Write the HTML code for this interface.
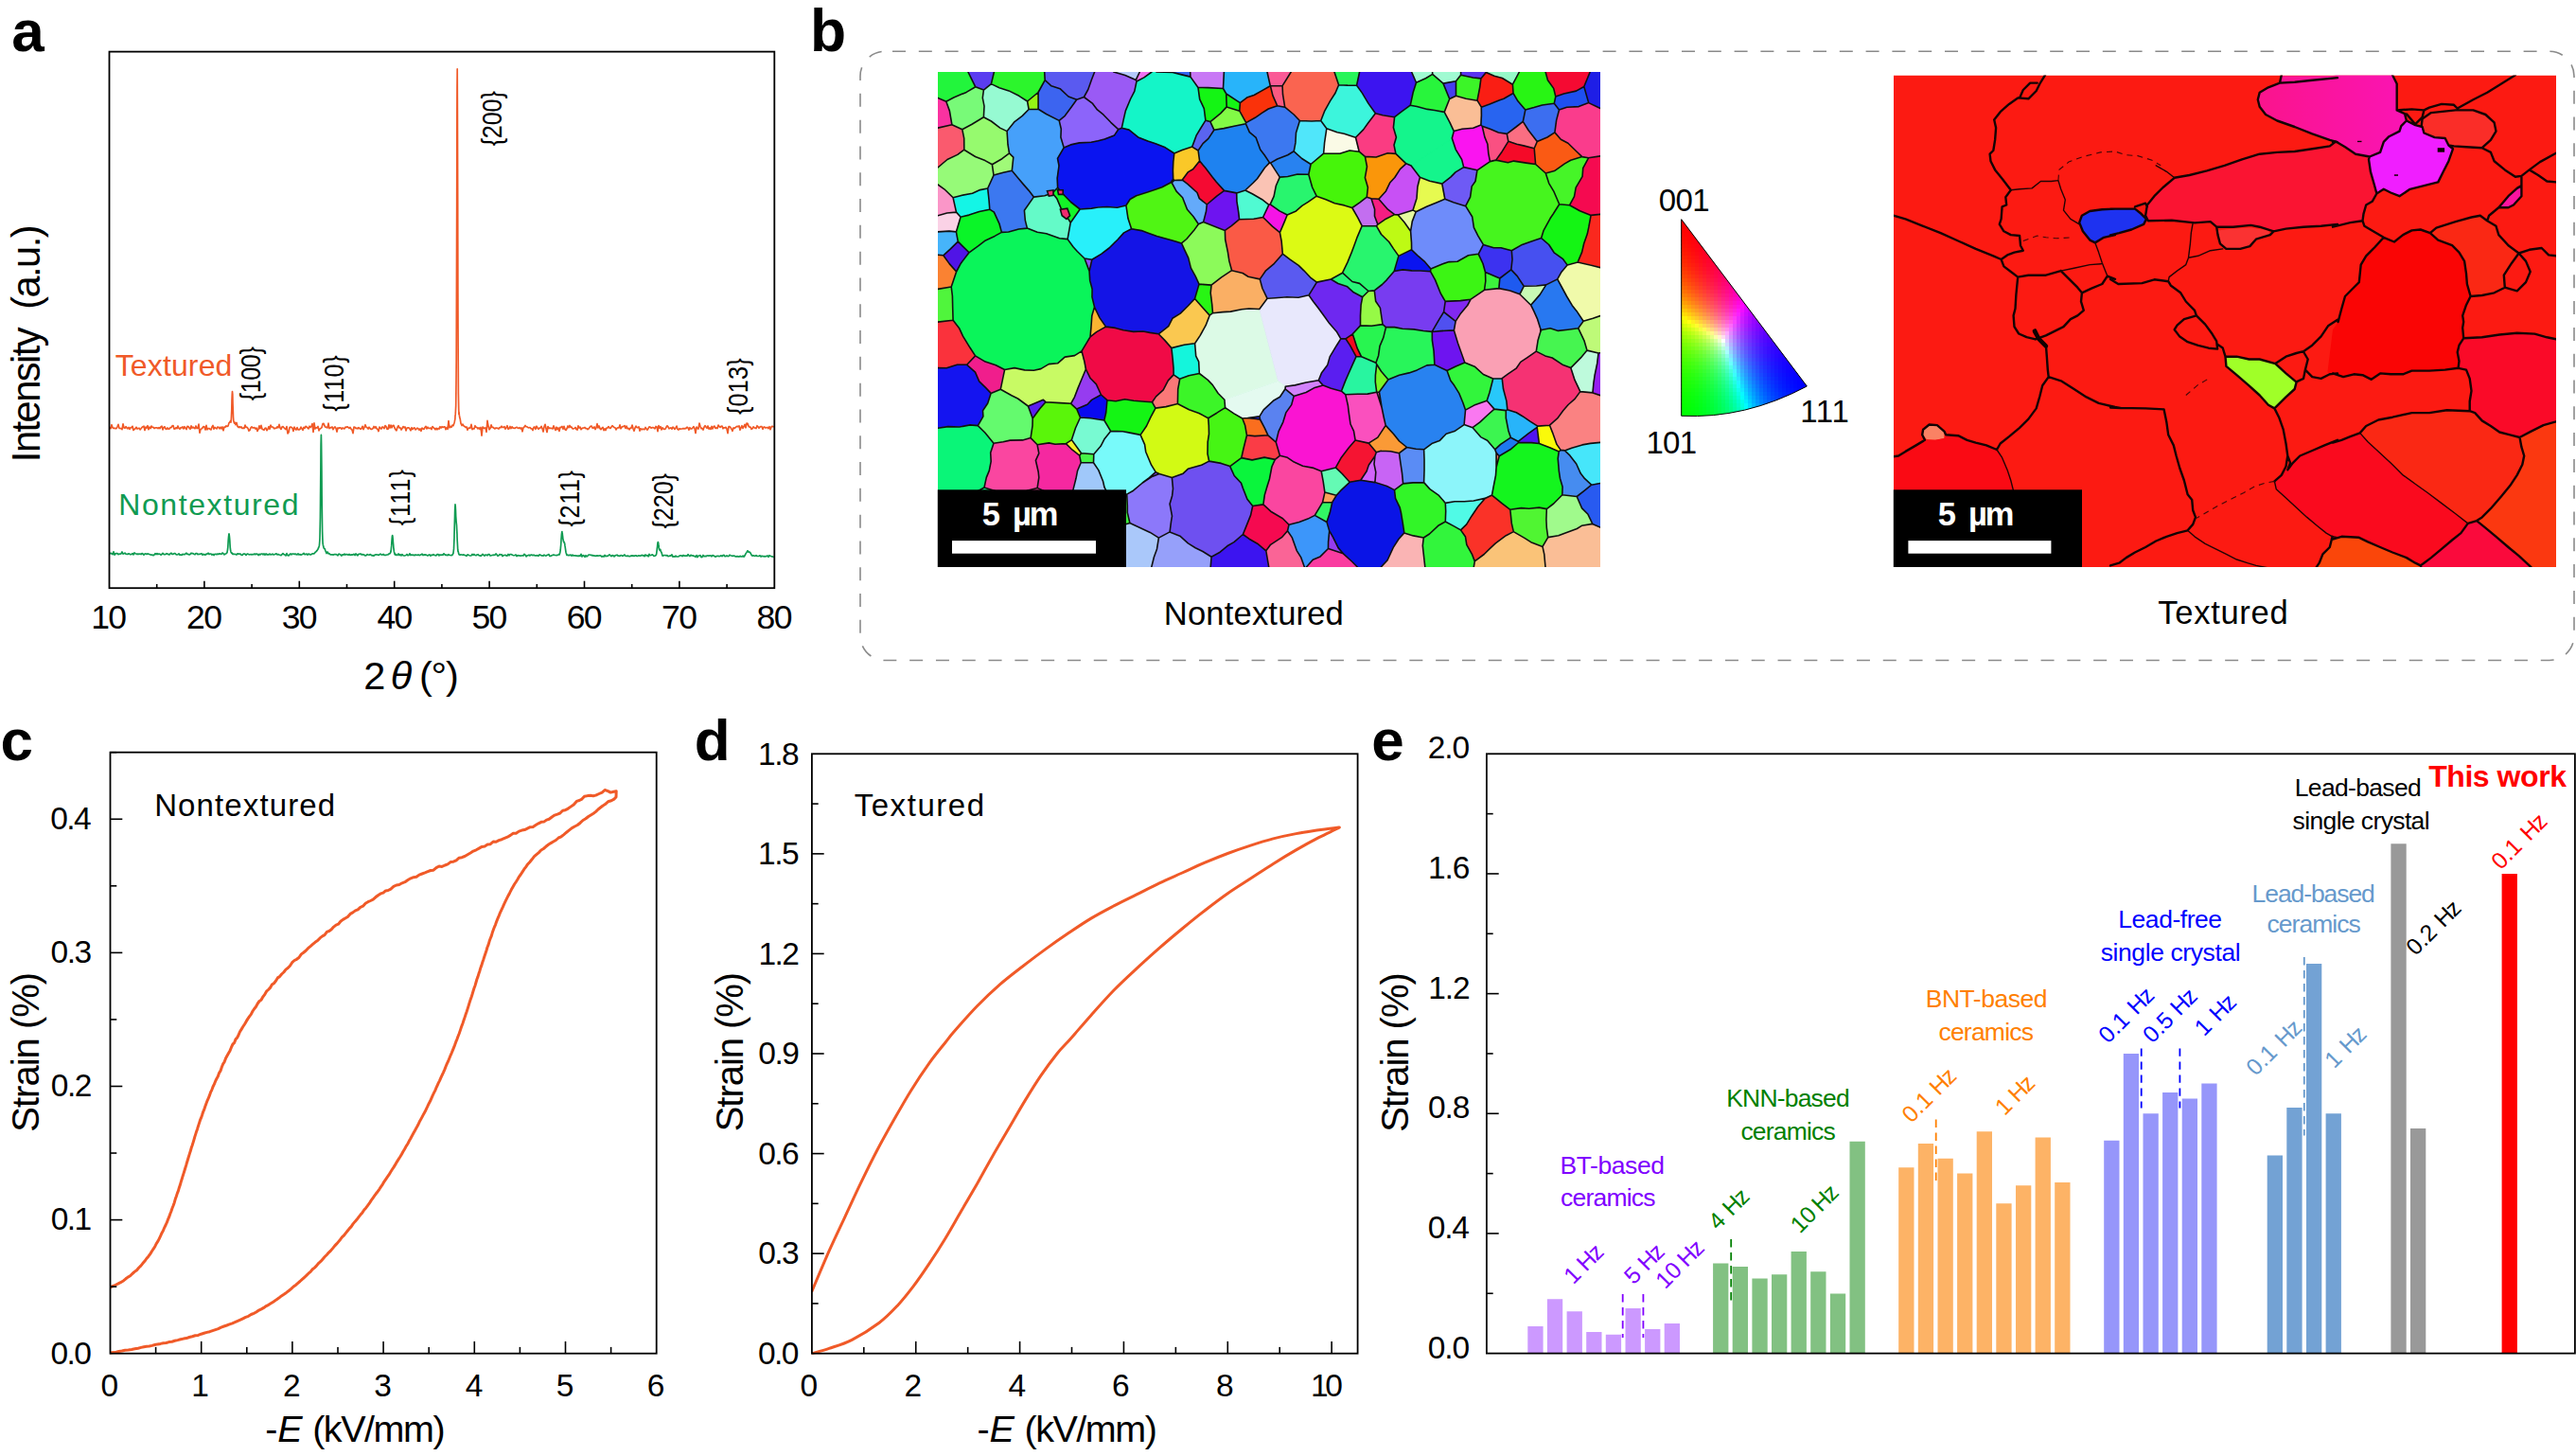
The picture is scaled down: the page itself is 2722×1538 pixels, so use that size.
<!DOCTYPE html>
<html><head><meta charset="utf-8"><title>Figure</title>
<style>html,body{margin:0;padding:0;background:#fff}svg{display:block}text{white-space:pre}</style>
</head><body>
<svg width="2722" height="1538" viewBox="0 0 2722 1538" font-family='"Liberation Sans", Arial, Helvetica, sans-serif' fill="#000">
<polyline points="116.0,451.7 117.0,452.7 118.0,448.7 119.0,451.7 120.0,452.5 121.0,452.2 122.0,452.7 123.0,452.6 124.0,450.8 125.0,448.4 126.0,452.4 127.0,452.5 128.0,452.7 129.0,453.6 130.0,447.8 131.0,451.9 132.0,452.2 133.0,450.6 134.0,452.0 135.0,452.8 136.0,451.5 137.0,453.4 138.0,451.6 139.0,451.7 140.0,450.3 141.0,454.5 142.0,453.5 143.0,452.8 144.0,451.3 145.0,453.0 146.0,452.5 147.0,452.2 148.0,453.9 149.0,452.8 150.0,451.4 151.0,450.7 152.0,450.2 153.0,454.5 154.0,451.1 155.0,452.0 156.0,449.7 157.0,453.7 158.0,451.1 159.0,452.6 160.0,450.1 161.0,451.4 162.0,451.3 163.0,452.6 164.0,451.9 165.0,451.8 166.0,451.9 167.0,452.7 168.0,451.7 169.0,452.6 170.0,450.8 171.0,450.2 172.0,453.9 173.0,451.4 174.0,450.8 175.0,452.9 176.0,453.4 177.0,451.9 178.0,453.3 179.0,453.0 180.0,451.6 181.0,451.7 182.0,449.8 183.0,449.6 184.0,453.1 185.0,453.0 186.0,451.7 187.0,452.7 188.0,450.0 189.0,452.3 190.0,453.2 191.0,451.6 192.0,452.0 193.0,450.9 194.0,452.9 195.0,450.7 196.0,452.3 197.0,453.6 198.0,450.3 199.0,450.5 200.0,452.1 201.0,453.3 202.0,449.9 203.0,452.1 204.0,451.1 205.0,452.1 206.0,452.7 207.0,450.0 208.0,452.5 209.0,452.3 210.0,448.2 211.0,457.2 212.0,453.6 213.0,452.9 214.0,452.0 215.0,450.5 216.0,450.8 217.0,454.0 218.0,449.4 219.0,453.8 220.0,452.5 221.0,452.5 222.0,453.4 223.0,453.9 224.0,451.0 225.0,449.4 226.0,453.2 227.0,451.4 228.0,452.2 229.0,452.9 230.0,451.0 231.0,451.4 232.0,452.9 233.0,451.2 234.0,452.9 235.0,450.9 236.0,454.7 237.0,451.0 238.0,451.1 239.0,449.9 240.0,450.5 241.0,449.9 242.0,446.7 242.5,446.3 242.8,446.1 243.0,445.4 243.0,445.4 243.3,445.2 243.5,444.8 243.8,444.3 244.0,446.2 244.0,446.1 244.3,443.8 244.5,439.6 244.8,433.1 245.0,424.1 245.0,423.5 245.3,416.4 245.5,413.5 245.8,416.5 246.0,425.7 246.0,426.3 246.3,434.2 246.5,440.6 246.8,444.8 247.0,445.0 247.0,445.1 247.3,446.3 247.5,446.8 247.8,447.2 248.0,446.1 248.0,446.1 248.3,446.4 248.5,446.5 249.0,448.7 250.0,446.5 251.0,450.5 252.0,451.5 253.0,450.6 254.0,451.7 255.0,450.9 256.0,452.5 257.0,452.2 258.0,452.4 259.0,449.1 260.0,451.5 261.0,451.3 262.0,452.5 263.0,455.1 264.0,454.4 265.0,451.8 266.0,450.8 267.0,451.8 268.0,451.9 269.0,451.7 270.0,453.1 271.0,452.1 272.0,455.4 273.0,453.4 274.0,449.8 275.0,452.6 276.0,449.4 277.0,453.3 278.0,453.7 279.0,454.3 280.0,452.4 281.0,452.2 282.0,454.7 283.0,453.3 284.0,450.6 285.0,453.3 286.0,449.2 287.0,451.0 288.0,451.0 289.0,451.8 290.0,452.8 291.0,452.3 292.0,452.1 293.0,450.9 294.0,451.8 295.0,448.4 296.0,452.0 297.0,453.4 298.0,451.1 299.0,450.6 300.0,451.7 301.0,452.8 302.0,453.5 303.0,450.6 304.0,458.0 305.0,456.8 306.0,451.5 307.0,451.1 308.0,451.3 309.0,452.2 310.0,455.4 311.0,451.2 312.0,453.1 313.0,454.0 314.0,451.6 315.0,453.9 316.0,454.0 317.0,453.3 318.0,451.1 319.0,452.7 320.0,454.4 321.0,451.3 322.0,452.4 323.0,450.3 324.0,450.9 325.0,452.0 326.0,452.9 327.0,450.2 328.0,451.5 329.0,450.5 330.0,447.5 331.0,456.4 332.0,446.8 333.0,453.0 334.0,451.9 335.0,452.0 336.0,450.4 337.0,454.8 338.0,452.9 339.0,452.4 340.0,451.6 341.0,447.6 342.0,447.4 343.0,449.9 344.0,451.1 345.0,451.5 346.0,451.9 347.0,447.2 348.0,452.6 349.0,451.9 350.0,451.7 351.0,451.0 352.0,453.6 353.0,451.9 354.0,450.9 355.0,452.2 356.0,456.1 357.0,451.9 358.0,452.5 359.0,451.8 360.0,451.9 361.0,453.2 362.0,451.9 363.0,452.6 364.0,452.9 365.0,451.1 366.0,451.4 367.0,450.8 368.0,451.5 369.0,452.5 370.0,451.3 371.0,453.1 372.0,454.1 373.0,457.6 374.0,451.0 375.0,451.3 376.0,452.6 377.0,452.2 378.0,452.9 379.0,451.6 380.0,452.5 381.0,453.2 382.0,452.7 383.0,450.3 384.0,453.6 385.0,451.4 386.0,448.7 387.0,451.2 388.0,451.8 389.0,453.0 390.0,451.2 391.0,452.5 392.0,453.4 393.0,453.3 394.0,452.6 395.0,450.5 396.0,452.1 397.0,450.6 398.0,452.7 399.0,453.5 400.0,455.6 401.0,451.2 402.0,452.2 403.0,453.0 404.0,450.9 405.0,451.4 406.0,452.6 407.0,449.5 408.0,450.6 409.0,453.2 410.0,453.3 411.0,448.8 412.0,452.1 413.0,449.0 414.0,451.8 415.0,449.6 416.0,449.3 417.0,452.0 418.0,453.9 419.0,454.8 420.0,451.2 421.0,449.6 422.0,452.0 423.0,451.9 424.0,454.0 425.0,452.5 426.0,450.6 427.0,451.7 428.0,451.0 429.0,454.9 430.0,452.0 431.0,451.9 432.0,451.8 433.0,453.1 434.0,454.8 435.0,451.7 436.0,453.5 437.0,452.2 438.0,451.9 439.0,453.9 440.0,453.1 441.0,452.2 442.0,452.7 443.0,454.2 444.0,452.9 445.0,455.3 446.0,452.1 447.0,452.9 448.0,453.4 449.0,451.5 450.0,450.3 451.0,452.9 452.0,451.2 453.0,452.5 454.0,452.4 455.0,452.1 456.0,453.5 457.0,450.5 458.0,451.5 459.0,452.6 460.0,453.8 461.0,452.3 462.0,453.8 463.0,452.6 464.0,453.1 465.0,450.7 466.0,452.0 467.0,450.7 468.0,451.5 469.0,450.9 470.0,450.8 471.0,453.6 472.0,451.6 473.0,453.4 474.0,444.5 475.0,451.8 476.0,450.4 477.0,451.3 478.0,449.2 479.0,449.6 480.0,446.7 480.2,446.0 480.4,444.9 480.7,443.6 480.9,442.1 481.0,439.3 481.2,437.9 481.4,434.9 481.7,428.7 481.9,413.8 482.0,404.6 482.2,379.7 482.4,314.2 482.7,217.9 482.9,119.2 483.0,93.1 483.2,72.9 483.4,115.7 483.7,213.5 483.9,310.6 484.0,341.9 484.2,380.7 484.4,416.0 484.7,431.4 484.9,437.8 485.0,435.1 485.2,436.9 485.4,438.9 485.7,440.5 485.9,441.8 486.0,441.7 486.2,442.4 487.0,447.3 488.0,449.5 489.0,448.1 490.0,449.9 491.0,450.4 492.0,451.5 493.0,451.0 494.0,454.2 495.0,452.1 496.0,452.1 497.0,452.1 498.0,448.4 499.0,453.7 500.0,452.8 501.0,452.9 502.0,449.7 503.0,451.3 504.0,451.6 505.0,452.9 506.0,451.8 507.0,453.3 508.0,451.4 509.0,460.2 510.0,451.0 511.0,451.9 512.0,452.5 513.0,451.9 514.0,456.3 515.0,444.3 516.0,450.1 517.0,453.8 518.0,452.5 519.0,448.9 520.0,451.3 521.0,451.3 522.0,452.3 523.0,452.9 524.0,452.0 525.0,452.2 526.0,452.4 527.0,453.0 528.0,451.5 529.0,451.8 530.0,450.2 531.0,451.4 532.0,451.5 533.0,450.7 534.0,453.1 535.0,451.7 536.0,449.7 537.0,453.3 538.0,452.7 539.0,450.5 540.0,452.6 541.0,450.8 542.0,452.1 543.0,452.2 544.0,452.5 545.0,451.7 546.0,451.3 547.0,452.0 548.0,452.5 549.0,451.7 550.0,452.8 551.0,451.8 552.0,455.8 553.0,451.8 554.0,451.0 555.0,449.5 556.0,450.7 557.0,450.8 558.0,451.6 559.0,451.8 560.0,451.5 561.0,452.6 562.0,452.9 563.0,454.5 564.0,451.4 565.0,451.0 566.0,453.3 567.0,450.2 568.0,452.0 569.0,453.3 570.0,452.0 571.0,452.1 572.0,450.3 573.0,452.6 574.0,456.0 575.0,450.8 576.0,448.3 577.0,452.5 578.0,456.5 579.0,450.5 580.0,452.5 581.0,452.1 582.0,452.5 583.0,452.4 584.0,452.9 585.0,449.8 586.0,452.4 587.0,454.4 588.0,451.2 589.0,453.6 590.0,451.9 591.0,455.4 592.0,451.3 593.0,451.4 594.0,450.5 595.0,453.1 596.0,450.3 597.0,453.6 598.0,454.4 599.0,452.8 600.0,450.0 601.0,451.7 602.0,449.5 603.0,451.4 604.0,451.1 605.0,452.9 606.0,452.8 607.0,452.5 608.0,451.5 609.0,453.5 610.0,454.0 611.0,449.8 612.0,452.0 613.0,451.1 614.0,453.7 615.0,452.6 616.0,452.1 617.0,452.0 618.0,451.4 619.0,452.7 620.0,452.5 621.0,453.7 622.0,452.9 623.0,451.6 624.0,450.3 625.0,450.0 626.0,452.0 627.0,452.2 628.0,450.9 629.0,453.5 630.0,451.9 631.0,447.6 632.0,452.0 633.0,449.9 634.0,452.6 635.0,453.7 636.0,452.3 637.0,451.3 638.0,454.6 639.0,452.8 640.0,454.5 641.0,452.1 642.0,451.9 643.0,450.6 644.0,452.0 645.0,452.4 646.0,451.1 647.0,449.6 648.0,450.7 649.0,451.5 650.0,451.8 651.0,453.9 652.0,452.2 653.0,451.8 654.0,451.9 655.0,448.9 656.0,452.8 657.0,451.2 658.0,450.6 659.0,450.5 660.0,449.6 661.0,452.5 662.0,450.1 663.0,452.8 664.0,452.4 665.0,453.8 666.0,452.2 667.0,452.2 668.0,449.1 669.0,452.6 670.0,455.2 671.0,452.1 672.0,450.1 673.0,451.6 674.0,451.7 675.0,450.8 676.0,455.1 677.0,452.7 678.0,453.8 679.0,453.1 680.0,453.5 681.0,453.7 682.0,451.5 683.0,452.9 684.0,454.1 685.0,452.7 686.0,450.8 687.0,451.1 688.0,452.1 689.0,451.7 690.0,451.6 691.0,452.1 692.0,452.8 693.0,450.5 694.0,450.9 695.0,455.6 696.0,449.7 697.0,452.1 698.0,450.6 699.0,454.0 700.0,451.8 701.0,452.9 702.0,453.4 703.0,453.2 704.0,451.3 705.0,449.8 706.0,450.9 707.0,452.8 708.0,452.2 709.0,451.8 710.0,453.2 711.0,451.1 712.0,452.1 713.0,453.4 714.0,452.0 715.0,450.1 716.0,453.4 717.0,454.1 718.0,452.7 719.0,453.2 720.0,453.0 721.0,453.0 722.0,452.4 723.0,453.0 724.0,452.4 725.0,452.6 726.0,451.2 727.0,451.9 728.0,454.1 729.0,451.7 730.0,453.0 731.0,452.8 732.0,451.9 733.0,450.6 734.0,452.7 735.0,457.5 736.0,451.1 737.0,452.4 738.0,453.0 739.0,447.0 740.0,450.5 741.0,452.7 742.0,452.3 743.0,454.1 744.0,451.2 745.0,449.6 746.0,450.9 747.0,452.3 748.0,450.0 749.0,453.1 750.0,452.0 751.0,453.4 752.0,450.4 753.0,453.0 754.0,450.7 755.0,450.1 756.0,452.4 757.0,451.9 758.0,452.6 759.0,449.0 760.0,450.5 761.0,451.3 762.0,450.4 763.0,450.1 764.0,452.8 765.0,451.7 766.0,452.0 767.0,451.3 768.0,453.0 769.0,457.6 770.0,450.6 771.0,450.6 772.0,451.6 773.0,453.2 774.0,455.3 775.0,451.9 776.0,452.4 777.0,451.8 778.0,450.7 779.0,450.4 780.0,450.7 781.0,449.9 782.0,454.2 783.0,451.9 784.0,449.7 785.0,452.4 786.0,450.5 787.0,448.3 788.0,451.8 789.0,447.2 790.0,447.4 791.0,450.1 792.0,451.1 793.0,451.1 794.0,453.3 795.0,452.8 796.0,450.8 797.0,451.7 798.0,452.1 799.0,452.5 800.0,449.7 801.0,450.8 802.0,452.2 803.0,451.1 804.0,450.5 805.0,450.7 806.0,453.3 807.0,451.0 808.0,451.1 809.0,452.0 810.0,451.7 811.0,451.4 812.0,452.7 813.0,450.7 814.0,453.7 815.0,450.9 816.0,450.3 817.0,450.8" fill="none" stroke="#F05A28" stroke-width="1.7" stroke-linejoin="round" stroke-linecap="round" />
<polyline points="116.0,584.8 117.0,584.4 118.0,584.8 119.0,585.6 120.0,582.8 121.0,586.1 122.0,584.9 123.0,584.7 124.0,584.5 125.0,585.6 126.0,585.2 127.0,585.1 128.0,584.9 129.0,583.0 130.0,585.1 131.0,584.8 132.0,584.1 133.0,585.2 134.0,585.3 135.0,585.4 136.0,584.8 137.0,585.2 138.0,585.8 139.0,585.5 140.0,584.6 141.0,585.9 142.0,584.0 143.0,584.7 144.0,585.0 145.0,585.6 146.0,585.1 147.0,585.3 148.0,585.0 149.0,585.6 150.0,584.6 151.0,585.1 152.0,586.2 153.0,585.0 154.0,584.9 155.0,585.5 156.0,584.9 157.0,585.2 158.0,585.5 159.0,586.0 160.0,586.2 161.0,586.2 162.0,586.7 163.0,586.1 164.0,584.6 165.0,585.6 166.0,584.6 167.0,585.6 168.0,585.0 169.0,585.4 170.0,586.2 171.0,585.5 172.0,584.3 173.0,585.4 174.0,585.8 175.0,585.5 176.0,584.7 177.0,585.1 178.0,585.7 179.0,585.9 180.0,584.8 181.0,584.2 182.0,585.4 183.0,585.3 184.0,584.7 185.0,584.7 186.0,585.6 187.0,586.0 188.0,585.7 189.0,584.8 190.0,586.3 191.0,586.0 192.0,586.4 193.0,585.4 194.0,585.6 195.0,585.7 196.0,585.0 197.0,584.2 198.0,585.4 199.0,585.4 200.0,586.0 201.0,585.4 202.0,584.2 203.0,584.7 204.0,584.7 205.0,585.3 206.0,585.8 207.0,584.5 208.0,584.6 209.0,585.7 210.0,585.2 211.0,585.5 212.0,585.0 213.0,584.7 214.0,586.2 215.0,585.3 216.0,585.9 217.0,586.1 218.0,585.1 219.0,585.3 220.0,584.2 221.0,585.6 222.0,585.0 223.0,585.0 224.0,586.2 225.0,585.4 226.0,586.5 227.0,585.3 228.0,585.4 229.0,585.7 230.0,585.0 231.0,585.5 232.0,584.8 233.0,585.1 234.0,585.3 235.0,584.1 236.0,584.7 237.0,585.9 238.0,585.1 239.0,584.7 239.2,584.5 239.5,584.3 239.8,583.9 240.0,583.5 240.2,582.4 240.5,580.6 240.8,578.1 241.0,574.5 241.2,571.0 241.5,567.6 241.8,565.0 242.0,563.9 242.2,564.8 242.5,567.3 242.8,570.7 243.0,574.6 243.2,577.8 243.5,580.3 243.8,582.1 244.0,582.9 244.2,583.6 244.5,584.0 244.8,584.3 245.0,584.0 246.0,585.4 247.0,585.2 248.0,585.5 249.0,585.4 250.0,586.0 251.0,584.9 252.0,585.1 253.0,585.1 254.0,585.2 255.0,586.2 256.0,586.5 257.0,585.2 258.0,585.1 259.0,585.2 260.0,586.4 261.0,585.2 262.0,585.2 263.0,585.6 264.0,585.8 265.0,585.5 266.0,585.9 267.0,585.5 268.0,585.7 269.0,585.0 270.0,585.7 271.0,585.0 272.0,585.4 273.0,586.5 274.0,585.3 275.0,586.0 276.0,585.0 277.0,585.0 278.0,585.8 279.0,584.9 280.0,586.2 281.0,584.9 282.0,585.9 283.0,585.6 284.0,586.0 285.0,585.0 286.0,586.0 287.0,585.6 288.0,585.2 289.0,586.0 290.0,585.7 291.0,585.2 292.0,584.8 293.0,585.9 294.0,585.4 295.0,586.0 296.0,586.3 297.0,586.7 298.0,585.7 299.0,584.7 300.0,585.6 301.0,586.0 302.0,587.0 303.0,584.6 304.0,586.6 305.0,586.9 306.0,585.9 307.0,585.0 308.0,585.8 309.0,585.0 310.0,585.0 311.0,585.5 312.0,585.1 313.0,585.7 314.0,585.9 315.0,584.8 316.0,586.1 317.0,585.6 318.0,586.2 319.0,585.8 320.0,585.3 321.0,584.4 322.0,585.6 323.0,585.6 324.0,585.1 325.0,586.0 326.0,585.1 327.0,585.4 328.0,586.0 329.0,585.6 330.0,584.8 331.0,584.9 332.0,584.8 333.0,583.5 334.0,582.6 335.0,581.6 336.0,580.0 336.4,579.2 336.6,578.6 336.9,577.9 337.0,577.8 337.1,577.3 337.4,576.2 337.6,574.3 337.9,570.3 338.0,567.3 338.1,562.1 338.4,547.3 338.6,524.5 338.9,496.3 339.0,483.5 339.1,470.2 339.4,459.4 339.6,469.9 339.9,495.2 340.0,507.9 340.1,523.4 340.4,546.4 340.6,561.3 340.9,569.5 341.0,571.9 341.1,573.8 341.4,575.7 341.6,576.8 341.9,577.6 342.0,578.4 342.1,578.7 342.4,579.3 343.0,579.3 344.0,582.0 345.0,584.5 346.0,583.0 347.0,584.8 348.0,584.7 349.0,585.8 350.0,585.9 351.0,585.8 352.0,586.1 353.0,585.7 354.0,585.5 355.0,585.6 356.0,586.1 357.0,586.8 358.0,585.1 359.0,585.5 360.0,586.1 361.0,587.0 362.0,585.8 363.0,586.1 364.0,585.2 365.0,586.1 366.0,585.6 367.0,585.7 368.0,586.2 369.0,585.5 370.0,586.4 371.0,585.9 372.0,586.1 373.0,585.9 374.0,585.3 375.0,586.6 376.0,584.9 377.0,586.0 378.0,586.8 379.0,585.3 380.0,585.2 381.0,585.0 382.0,585.9 383.0,585.7 384.0,585.8 385.0,586.3 386.0,587.0 387.0,586.6 388.0,585.6 389.0,586.0 390.0,586.3 391.0,585.6 392.0,586.1 393.0,586.9 394.0,586.6 395.0,587.2 396.0,586.2 397.0,585.9 398.0,585.9 399.0,586.0 400.0,586.4 401.0,585.8 402.0,585.1 403.0,585.9 404.0,586.1 405.0,585.4 406.0,586.4 407.0,586.3 408.0,586.3 409.0,586.0 410.0,585.9 411.0,585.0 411.7,584.9 411.9,584.7 412.0,584.7 412.2,584.5 412.4,584.1 412.7,583.5 412.9,582.4 413.0,583.1 413.2,581.7 413.4,579.3 413.7,576.4 413.9,573.0 414.0,571.4 414.2,568.9 414.4,566.5 414.7,565.6 414.9,566.5 415.0,567.6 415.2,569.5 415.4,572.7 415.7,576.1 415.9,579.1 416.0,579.2 416.2,581.0 416.4,582.7 416.7,583.8 416.9,584.5 417.0,585.3 417.2,585.6 417.4,585.8 417.7,586.0 418.0,585.3 419.0,586.3 420.0,586.4 421.0,584.9 422.0,586.5 423.0,585.7 424.0,586.9 425.0,585.6 426.0,586.7 427.0,587.0 428.0,586.8 429.0,586.5 430.0,585.5 431.0,586.8 432.0,586.4 433.0,584.8 434.0,586.6 435.0,585.9 436.0,586.4 437.0,586.2 438.0,586.7 439.0,586.1 440.0,586.2 441.0,586.5 442.0,585.9 443.0,586.6 444.0,586.2 445.0,585.9 446.0,585.1 447.0,586.6 448.0,585.9 449.0,586.3 450.0,585.9 451.0,586.4 452.0,586.9 453.0,586.3 454.0,585.9 455.0,587.2 456.0,586.2 457.0,586.5 458.0,585.6 459.0,586.4 460.0,586.6 461.0,586.8 462.0,585.6 463.0,585.5 464.0,586.9 465.0,585.9 466.0,586.4 467.0,586.0 468.0,586.3 469.0,584.8 470.0,585.8 471.0,586.4 472.0,586.2 473.0,586.6 474.0,585.7 475.0,586.4 476.0,586.5 477.0,586.7 478.0,586.3 478.0,585.7 478.2,585.6 478.5,585.3 478.7,585.0 479.0,584.3 479.0,583.8 479.2,582.6 479.5,579.9 479.7,575.3 480.0,568.0 480.0,566.2 480.2,557.9 480.5,547.0 480.7,537.7 481.0,533.0 481.0,532.8 481.2,534.3 481.5,539.5 481.7,545.3 482.0,549.6 482.0,549.9 482.2,552.1 482.5,554.8 482.7,559.1 483.0,564.7 483.0,566.3 483.2,571.3 483.5,576.4 483.7,580.2 484.0,582.6 484.0,582.0 485.0,585.8 486.0,586.2 487.0,585.9 488.0,586.0 489.0,586.3 490.0,585.9 491.0,586.5 492.0,586.7 493.0,587.3 494.0,585.9 495.0,586.3 496.0,586.7 497.0,587.0 498.0,586.9 499.0,585.4 500.0,586.3 501.0,585.5 502.0,586.5 503.0,586.7 504.0,586.0 505.0,585.7 506.0,586.6 507.0,586.9 508.0,587.3 509.0,586.5 510.0,585.4 511.0,586.3 512.0,587.0 513.0,586.1 514.0,586.2 515.0,586.8 516.0,585.6 517.0,585.5 518.0,587.0 519.0,586.8 520.0,586.5 521.0,586.2 522.0,586.3 523.0,586.1 524.0,585.0 525.0,585.9 526.0,587.3 527.0,586.7 528.0,585.5 529.0,586.0 530.0,585.7 531.0,587.5 532.0,586.7 533.0,586.5 534.0,586.3 535.0,586.9 536.0,587.1 537.0,585.5 538.0,586.8 539.0,585.5 540.0,585.5 541.0,586.0 542.0,586.5 543.0,586.8 544.0,586.5 545.0,586.0 546.0,587.6 547.0,586.7 548.0,586.9 549.0,586.9 550.0,587.2 551.0,587.0 552.0,586.8 553.0,587.0 554.0,585.3 555.0,586.1 556.0,587.9 557.0,586.8 558.0,586.6 559.0,586.2 560.0,587.0 561.0,586.0 562.0,586.2 563.0,586.7 564.0,586.2 565.0,586.8 566.0,586.9 567.0,586.8 568.0,586.6 569.0,587.3 570.0,585.9 571.0,586.2 572.0,586.9 573.0,586.8 574.0,587.2 575.0,586.2 576.0,586.7 577.0,587.1 578.0,586.4 579.0,586.1 580.0,585.6 581.0,587.5 582.0,587.4 583.0,586.7 584.0,586.4 585.0,585.9 586.0,586.5 587.0,586.5 588.0,586.7 589.0,586.4 590.0,585.9 590.9,585.3 591.0,586.0 591.2,585.7 591.4,585.1 591.7,584.2 591.9,582.9 592.0,582.3 592.2,581.0 592.4,578.6 592.7,575.6 592.9,572.2 593.0,569.8 593.2,567.6 593.4,564.6 593.7,562.4 593.9,561.5 594.0,562.7 594.2,563.2 594.4,565.0 594.7,567.3 594.9,569.7 595.0,569.5 595.2,570.6 595.4,571.8 595.7,572.2 595.9,572.1 596.0,573.1 596.2,573.0 596.4,573.3 596.7,574.4 596.9,576.2 597.0,576.5 598.0,583.4 599.0,586.5 600.0,586.3 601.0,586.8 602.0,586.4 603.0,586.2 604.0,587.2 605.0,586.1 606.0,587.0 607.0,586.8 608.0,586.9 609.0,587.2 610.0,587.0 611.0,587.6 612.0,586.9 613.0,587.4 614.0,585.3 615.0,588.0 616.0,586.7 617.0,586.9 618.0,588.3 619.0,586.7 620.0,587.9 621.0,587.1 622.0,586.0 623.0,586.0 624.0,586.3 625.0,586.3 626.0,586.9 627.0,586.7 628.0,587.1 629.0,587.1 630.0,587.3 631.0,586.9 632.0,587.2 633.0,587.0 634.0,586.7 635.0,587.2 636.0,588.2 637.0,587.4 638.0,588.0 639.0,586.4 640.0,587.6 641.0,587.3 642.0,587.5 643.0,586.7 644.0,585.8 645.0,586.9 646.0,587.6 647.0,586.6 648.0,586.8 649.0,587.9 650.0,586.9 651.0,586.5 652.0,586.2 653.0,587.2 654.0,587.1 655.0,587.5 656.0,586.5 657.0,586.8 658.0,587.4 659.0,586.7 660.0,586.0 661.0,587.2 662.0,587.5 663.0,587.1 664.0,587.3 665.0,587.7 666.0,587.6 667.0,586.9 668.0,587.3 669.0,586.9 670.0,587.5 671.0,586.9 672.0,586.8 673.0,587.4 674.0,587.3 675.0,586.8 676.0,587.2 677.0,587.1 678.0,586.4 679.0,586.8 680.0,586.6 681.0,587.7 682.0,586.0 683.0,587.0 684.0,586.5 685.0,587.8 686.0,585.4 687.0,586.8 688.0,586.5 689.0,585.9 690.0,586.3 691.0,587.3 692.0,587.1 692.3,587.0 692.6,586.9 692.8,586.7 693.0,586.6 693.1,586.5 693.3,586.0 693.6,585.3 693.8,584.1 694.0,582.2 694.1,581.8 694.3,579.7 694.6,577.3 694.8,575.0 695.0,573.7 695.1,573.3 695.3,572.6 695.6,573.1 695.8,574.6 696.0,576.5 696.1,577.0 696.3,578.9 696.6,580.3 696.8,581.0 697.0,580.9 697.1,580.9 697.3,580.7 697.6,580.4 697.8,580.4 698.0,581.6 698.1,581.8 698.3,582.6 699.0,583.6 700.0,587.1 701.0,586.9 702.0,586.5 703.0,586.5 704.0,586.9 705.0,586.6 706.0,587.6 707.0,587.5 708.0,586.9 709.0,587.1 710.0,585.8 711.0,588.2 712.0,587.8 713.0,588.1 714.0,587.1 715.0,588.0 716.0,588.0 717.0,587.9 718.0,587.1 719.0,586.8 720.0,586.9 721.0,587.6 722.0,586.5 723.0,587.1 724.0,587.2 725.0,587.2 726.0,587.2 727.0,585.6 728.0,586.9 729.0,587.6 730.0,586.3 731.0,587.0 732.0,586.8 733.0,587.5 734.0,587.4 735.0,588.3 736.0,586.6 737.0,588.6 738.0,587.0 739.0,587.0 740.0,586.6 741.0,588.6 742.0,588.4 743.0,586.4 744.0,587.7 745.0,587.4 746.0,587.7 747.0,587.0 748.0,586.9 749.0,587.2 750.0,586.9 751.0,586.9 752.0,587.8 753.0,586.6 754.0,586.8 755.0,587.6 756.0,588.2 757.0,587.6 758.0,587.3 759.0,587.4 760.0,587.7 761.0,587.5 762.0,586.8 763.0,587.7 764.0,586.6 765.0,586.4 766.0,587.6 767.0,587.7 768.0,586.9 769.0,587.7 770.0,587.5 771.0,586.2 772.0,586.7 773.0,587.0 774.0,587.4 775.0,587.2 776.0,587.1 777.0,587.8 778.0,587.8 779.0,587.6 780.0,587.8 781.0,588.1 782.0,587.3 783.0,587.9 784.0,588.0 785.0,587.1 786.0,588.1 787.0,586.9 788.0,584.9 789.0,583.4 790.0,581.8 791.0,583.3 792.0,583.0 793.0,584.1 794.0,586.1 795.0,587.1 796.0,586.7 797.0,587.1 798.0,587.3 799.0,586.6 800.0,587.5 801.0,587.5 802.0,587.3 803.0,586.8 804.0,588.0 805.0,587.3 806.0,587.6 807.0,587.6 808.0,587.9 809.0,587.6 810.0,587.6 811.0,586.9 812.0,588.4 813.0,586.7 814.0,587.3 815.0,587.6 816.0,587.8 817.0,588.3" fill="none" stroke="#109B52" stroke-width="1.7" stroke-linejoin="round" stroke-linecap="round" />
<rect x="115.5" y="54.6" width="702.80" height="566.60" fill="none" stroke="#000" stroke-width="1.8"/>
<line x1="165.70" y1="621.20" x2="165.70" y2="617.00" stroke="#000" stroke-width="1.6" />
<line x1="215.90" y1="621.20" x2="215.90" y2="613.70" stroke="#000" stroke-width="1.6" />
<line x1="266.10" y1="621.20" x2="266.10" y2="617.00" stroke="#000" stroke-width="1.6" />
<line x1="316.30" y1="621.20" x2="316.30" y2="613.70" stroke="#000" stroke-width="1.6" />
<line x1="366.50" y1="621.20" x2="366.50" y2="617.00" stroke="#000" stroke-width="1.6" />
<line x1="416.70" y1="621.20" x2="416.70" y2="613.70" stroke="#000" stroke-width="1.6" />
<line x1="466.90" y1="621.20" x2="466.90" y2="617.00" stroke="#000" stroke-width="1.6" />
<line x1="517.10" y1="621.20" x2="517.10" y2="613.70" stroke="#000" stroke-width="1.6" />
<line x1="567.30" y1="621.20" x2="567.30" y2="617.00" stroke="#000" stroke-width="1.6" />
<line x1="617.50" y1="621.20" x2="617.50" y2="613.70" stroke="#000" stroke-width="1.6" />
<line x1="667.70" y1="621.20" x2="667.70" y2="617.00" stroke="#000" stroke-width="1.6" />
<line x1="717.90" y1="621.20" x2="717.90" y2="613.70" stroke="#000" stroke-width="1.6" />
<line x1="768.10" y1="621.20" x2="768.10" y2="617.00" stroke="#000" stroke-width="1.6" />
<text x="96.19" y="664.30" font-size="35.5" letter-spacing="-1.597">10</text>
<text x="197.05" y="664.30" font-size="35.5" letter-spacing="-1.637">20</text>
<text x="297.64" y="664.30" font-size="35.5" letter-spacing="-1.653">30</text>
<text x="398.41" y="664.30" font-size="35.5" letter-spacing="-1.685">40</text>
<text x="498.44" y="664.30" font-size="35.5" letter-spacing="-1.653">50</text>
<text x="598.65" y="664.30" font-size="35.5" letter-spacing="-1.637">60</text>
<text x="699.05" y="664.30" font-size="35.5" letter-spacing="-1.637">70</text>
<text x="799.54" y="664.30" font-size="35.5" letter-spacing="-1.645">80</text>
<text font-size="41.5" y="728.00"><tspan x="384.23">2</tspan><tspan x="412.73" font-style="italic">θ</tspan> <tspan x="443.11" letter-spacing="-1.309">(°)</tspan></text>
<text transform="translate(42.30,484.40) rotate(-90)" x="-3.74" y="0" font-size="41.6" letter-spacing="-1.521">Intensity  (a.u.)</text>
<text x="121.66" y="397.40" font-size="32" letter-spacing="0.143" fill="#F05A28">Textured</text>
<text x="125.24" y="543.70" font-size="32" letter-spacing="1.590" fill="#109B52">Nontextured</text>
<text transform="translate(275.30,423.00) rotate(-90) scale(0.84,1)" x="-0.45" y="0" font-size="30" letter-spacing="-0.472">{100}</text>
<text transform="translate(362.90,434.50) rotate(-90) scale(0.84,1)" x="-0.45" y="0" font-size="30" letter-spacing="0.745">{110}</text>
<text transform="translate(433.00,555.00) rotate(-90) scale(0.84,1)" x="-0.45" y="0" font-size="30" letter-spacing="1.278">{111}</text>
<text transform="translate(529.90,154.00) rotate(-90) scale(0.84,1)" x="-0.45" y="0" font-size="30" letter-spacing="-0.204">{200}</text>
<text transform="translate(611.80,556.10) rotate(-90) scale(0.84,1)" x="-0.45" y="0" font-size="30" letter-spacing="0.745">{211}</text>
<text transform="translate(711.30,558.10) rotate(-90) scale(0.84,1)" x="-0.45" y="0" font-size="30" letter-spacing="-0.115">{220}</text>
<text transform="translate(790.00,437.60) rotate(-90) scale(0.84,1)" x="-0.45" y="0" font-size="30" letter-spacing="0.213">{013}</text>
<text x="12.14" y="54.00" font-size="62" font-weight="bold">a</text>
<clipPath id="cl"><rect x="991.0" y="76.0" width="700.0" height="523.0"/></clipPath>
<g clip-path="url(#cl)">
<rect x="991.0" y="76.0" width="700.0" height="523.0" fill="#30D060"/>
<path d="M991.0 76.0L1022.9 76.0L1030.8 91.8L1021.2 97.4L1007.8 103.0L999.8 107.3L991.0 103.4Z" fill="#22F53C" stroke="#22F53C" stroke-width="0.7"/>
<path d="M1022.9 76.0L1050.4 76.0L1047.4 88.6L1039.4 95.1L1030.8 91.8Z" fill="#5A3CF0" stroke="#5A3CF0" stroke-width="0.7"/>
<path d="M1050.4 76.0L1103.7 76.0L1104.2 84.6L1097.1 97.5L1085.6 107.0L1076.8 101.3L1066.0 95.9L1056.0 92.7L1047.4 88.6Z" fill="#2CF52C" stroke="#2CF52C" stroke-width="0.7"/>
<path d="M1103.7 76.0L1156.6 76.0L1153.4 84.3L1149.8 94.5L1145.4 102.5L1137.7 105.2L1129.0 102.0L1120.1 93.7L1111.0 90.8L1104.2 84.6ZM1339.1 315.3L1333.9 304.5L1331.3 294.9L1337.6 285.8L1346.5 278.3L1355.3 268.2L1363.2 274.1L1372.2 280.4L1377.8 285.8L1385.3 293.7L1391.4 298.1L1383.0 311.8L1372.0 314.2L1360.0 313.8L1347.6 314.8Z" fill="#5A5AF0" stroke="#5A5AF0" stroke-width="0.7"/>
<path d="M1176.8 76.0L1204.3 76.0L1200.3 84.4L1188.9 79.4Z" fill="#B4C8FA" stroke="#B4C8FA" stroke-width="0.7"/>
<path d="M1204.3 76.0L1217.0 76.0L1208.9 81.9L1201.0 86.0L1200.3 84.4Z" fill="#F070F0" stroke="#F070F0" stroke-width="0.7"/>
<path d="M1156.6 76.0L1176.8 76.0L1188.9 79.4L1200.3 84.4L1201.0 86.0L1198.8 96.3L1194.6 104.5L1189.4 116.9L1187.7 124.1L1185.3 135.2L1181.7 136.7L1173.8 129.3L1166.0 121.2L1159.5 115.9L1154.6 109.4L1145.4 102.5L1149.8 94.5L1153.4 84.3Z" fill="#9A5AF5" stroke="#9A5AF5" stroke-width="0.7"/>
<path d="M1097.1 97.5L1104.2 84.6L1111.0 90.8L1120.1 93.7L1129.0 102.0L1137.7 105.2L1132.5 112.5L1125.3 122.3L1119.2 127.4L1105.6 120.5L1097.1 115.3Z" fill="#3C64F0" stroke="#3C64F0" stroke-width="0.7"/>
<path d="M1124.2 156.0L1120.9 145.1L1121.3 136.3L1119.2 127.4L1125.3 122.3L1132.5 112.5L1137.7 105.2L1145.4 102.5L1154.6 109.4L1159.5 115.9L1166.0 121.2L1173.8 129.3L1181.7 136.7L1177.6 142.9L1167.2 146.9L1160.4 148.8L1153.1 150.2L1140.6 150.9L1131.4 152.9Z" fill="#8C64FA" stroke="#8C64FA" stroke-width="0.7"/>
<path d="M1217.0 76.0L1221.9 76.0L1239.2 76.5L1248.7 78.9L1257.9 81.1L1266.0 92.5L1267.7 104.8L1272.3 114.6L1273.9 127.2L1268.4 136.0L1264.1 143.2L1259.7 155.1L1249.1 158.5L1240.8 162.0L1231.3 155.8L1221.0 151.7L1212.8 149.0L1202.6 144.9L1193.0 137.1L1185.3 135.2L1187.7 124.1L1189.4 116.9L1194.6 104.5L1198.8 96.3L1201.0 86.0L1208.9 81.9Z" fill="#14F5C8" stroke="#14F5C8" stroke-width="0.7"/>
<path d="M999.8 107.3L1007.8 103.0L1021.2 97.4L1030.8 91.8L1039.4 95.1L1038.3 103.4L1040.0 112.1L1039.4 123.8L1026.6 131.5L1016.8 136.8L1005.9 131.8L1003.4 117.1Z" fill="#78FA78" stroke="#78FA78" stroke-width="0.7"/>
<path d="M1039.4 95.1L1047.4 88.6L1056.0 92.7L1066.0 95.9L1076.8 101.3L1085.6 107.0L1087.1 115.5L1080.3 122.4L1072.1 128.6L1064.1 138.6L1056.7 135.1L1047.4 128.0L1039.4 123.8L1040.0 112.1L1038.3 103.4Z" fill="#96FAD2" stroke="#96FAD2" stroke-width="0.7"/>
<path d="M1085.6 107.0L1097.1 97.5L1097.1 115.3L1087.1 115.5Z" fill="#96F514" stroke="#96F514" stroke-width="0.7"/>
<path d="M991.0 135.1L991.0 103.4L999.8 107.3L1003.4 117.1L1005.9 131.8Z" fill="#FA32A0" stroke="#FA32A0" stroke-width="0.7"/>
<path d="M991.0 177.0L991.0 135.1L1005.9 131.8L1016.8 136.8L1018.7 146.1L1018.8 158.2L1011.8 163.4L1001.0 168.5Z" fill="#FA5A6E" stroke="#FA5A6E" stroke-width="0.7"/>
<path d="M1018.8 158.2L1018.7 146.1L1016.8 136.8L1026.6 131.5L1039.4 123.8L1047.4 128.0L1056.7 135.1L1064.1 138.6L1065.0 152.7L1066.5 161.9L1058.8 167.7L1048.4 173.8L1040.9 169.6L1030.6 165.5Z" fill="#96FA6E" stroke="#96FA6E" stroke-width="0.7"/>
<path d="M1066.5 161.9L1065.0 152.7L1064.1 138.6L1072.1 128.6L1080.3 122.4L1087.1 115.5L1097.1 115.3L1105.6 120.5L1119.2 127.4L1121.3 136.3L1120.9 145.1L1124.2 156.0L1117.5 167.3L1070.8 166.1ZM1069.3 180.3L1070.8 166.1L1117.5 167.3L1119.0 175.0L1117.2 188.1L1117.6 198.3L1112.0 204.0L1103.8 206.7L1092.3 208.1L1087.0 201.1L1081.1 194.4L1075.5 187.8Z" fill="#46A0FA" stroke="#46A0FA" stroke-width="0.7"/>
<path d="M1117.6 198.3L1117.2 188.1L1119.0 175.0L1117.5 167.3L1124.2 156.0L1131.4 152.9L1140.6 150.9L1153.1 150.2L1160.4 148.8L1167.2 146.9L1177.6 142.9L1194.1 210.5L1189.9 217.0L1180.6 219.3L1169.8 218.5L1160.2 219.0L1153.3 220.1L1141.2 221.0L1131.6 213.5L1124.8 206.5ZM1194.1 210.5L1177.6 142.9L1181.7 136.7L1185.3 135.2L1193.0 137.1L1202.6 144.9L1212.8 149.0L1221.0 151.7L1231.3 155.8L1240.8 162.0L1239.8 170.7L1239.4 180.2L1239.7 189.2L1236.8 193.0L1227.8 197.8L1221.4 200.0L1212.5 203.1L1200.7 206.7ZM1473.2 286.5L1477.9 270.4L1491.6 263.8L1497.6 269.6L1505.7 276.7L1511.9 284.1L1511.5 286.7L1500.9 286.0L1491.7 285.9L1482.3 284.9Z" fill="#0A14F0" stroke="#0A14F0" stroke-width="0.7"/>
<path d="M991.0 195.0L991.0 177.0L1001.0 168.5L1011.8 163.4L1018.8 158.2L1030.6 165.5L1040.9 169.6L1048.4 173.8L1050.0 185.1L1043.7 199.0L1035.6 200.6L1027.5 204.2L1015.9 206.4L1007.1 208.8L997.8 199.8Z" fill="#96FA78" stroke="#96FA78" stroke-width="0.7"/>
<path d="M1048.4 173.8L1058.8 167.7L1066.5 161.9L1070.8 166.1L1069.3 180.3L1060.2 182.2L1050.0 185.1Z" fill="#A0FA78" stroke="#A0FA78" stroke-width="0.7"/>
<path d="M1007.1 208.8L1015.9 206.4L1027.5 204.2L1035.6 200.6L1043.7 199.0L1045.1 212.0L1045.8 221.2L1034.8 223.5L1024.0 227.1L1015.1 229.2L1010.5 224.1Z" fill="#14F5E6" stroke="#14F5E6" stroke-width="0.7"/>
<path d="M1045.8 221.2L1045.1 212.0L1043.7 199.0L1050.0 185.1L1060.2 182.2L1069.3 180.3L1075.5 187.8L1081.1 194.4L1087.0 201.1L1092.3 208.1L1082.4 222.3L1050.4 224.2ZM1058.4 245.4L1056.1 236.7L1050.4 224.2L1082.4 222.3L1083.3 232.6L1085.4 241.1L1076.5 242.0L1065.7 245.0ZM1341.5 171.9L1336.1 163.8L1331.7 158.0L1327.2 145.4L1320.3 139.6L1316.4 130.7L1316.7 129.6L1326.3 124.3L1333.4 119.4L1340.3 115.0L1349.7 111.7L1357.7 113.2L1367.2 121.0L1373.4 127.5L1369.5 140.3L1368.9 150.9L1367.2 159.8L1360.7 163.7L1349.7 168.0L1342.6 172.1Z" fill="#3C78F0" stroke="#3C78F0" stroke-width="0.7"/>
<path d="M991.0 227.8L991.0 195.0L997.8 199.8L1007.1 208.8L1010.5 224.1L1000.7 225.0Z" fill="#FA96C8" stroke="#FA96C8" stroke-width="0.7"/>
<path d="M991.0 244.9L991.0 227.8L1000.7 225.0L1010.5 224.1L1015.1 229.2L1010.4 244.9L1003.0 244.1Z" fill="#FAD2E6" stroke="#FAD2E6" stroke-width="0.7"/>
<path d="M991.0 269.2L991.0 244.9L1003.0 244.1L1010.4 244.9L1012.3 255.1L1004.4 262.9L996.8 269.8Z" fill="#46B4FA" stroke="#46B4FA" stroke-width="0.7"/>
<path d="M1012.3 255.1L1010.4 244.9L1015.1 229.2L1024.0 227.1L1034.8 223.5L1045.8 221.2L1050.4 224.2L1056.1 236.7L1058.4 245.4L1051.1 249.4L1041.4 253.9L1033.9 259.7L1024.0 266.8Z" fill="#0AF528" stroke="#0AF528" stroke-width="0.7"/>
<path d="M1085.4 241.1L1083.3 232.6L1082.4 222.3L1092.3 208.1L1103.8 206.7L1112.0 204.0L1116.8 209.8L1121.8 221.6L1126.2 227.2L1131.2 235.2L1128.1 252.6L1119.6 251.7L1105.6 246.8L1096.1 245.3Z" fill="#64FAC8" stroke="#64FAC8" stroke-width="0.7"/>
<path d="M1131.2 235.2L1126.2 227.2L1121.8 221.6L1116.8 209.8L1112.0 204.0L1117.6 198.3L1124.8 206.5L1131.6 213.5L1141.2 221.0Z" fill="#14F528" stroke="#14F528" stroke-width="0.7"/>
<path d="M1128.1 252.6L1131.2 235.2L1141.2 221.0L1153.3 220.1L1160.2 219.0L1169.8 218.5L1180.6 219.3L1189.9 217.0L1192.0 230.8L1195.6 241.8L1187.6 245.9L1180.9 253.2L1172.0 262.0L1163.6 268.4L1153.8 274.3L1146.0 273.0L1138.3 265.5L1134.0 260.8Z" fill="#28F0FA" stroke="#28F0FA" stroke-width="0.7"/>
<path d="M1248.5 256.9L1238.7 254.1L1228.7 251.3L1222.4 249.4L1213.3 246.2L1206.2 243.6L1195.6 241.8L1192.0 230.8L1189.9 217.0L1194.1 210.5L1200.7 206.7L1212.5 203.1L1221.4 200.0L1227.8 197.8L1236.8 193.0L1238.2 193.0L1243.1 202.1L1249.6 208.8L1254.5 221.3L1261.0 228.7L1266.4 236.7L1262.3 242.4L1253.8 252.5Z" fill="#50F514" stroke="#50F514" stroke-width="0.7"/>
<path d="M1224.2 352.8L1215.1 351.4L1207.8 350.0L1197.7 350.4L1187.1 348.7L1178.5 346.4L1168.5 345.1L1162.1 335.9L1156.5 324.3L1154.0 313.9L1154.1 305.2L1151.7 296.4L1151.1 286.5L1153.8 274.3L1163.6 268.4L1172.0 262.0L1180.9 253.2L1187.6 245.9L1195.6 241.8L1206.2 243.6L1213.3 246.2L1222.4 249.4L1228.7 251.3L1238.7 254.1L1248.5 256.9L1251.9 264.3L1255.7 272.4L1258.4 283.1L1263.1 291.6L1267.0 300.1L1262.5 315.5L1255.2 323.3L1247.2 331.1L1238.9 336.3L1234.7 344.7Z" fill="#1414E6" stroke="#1414E6" stroke-width="0.7"/>
<path d="M1146.0 273.0L1153.8 274.3L1151.1 286.5Z" fill="#8C50F0" stroke="#8C50F0" stroke-width="0.7"/>
<path d="M1007.1 338.3L1006.7 324.9L1006.4 312.7L1005.2 303.0L1010.6 287.0L1015.3 278.2L1024.0 266.8L1033.9 259.7L1041.4 253.9L1051.1 249.4L1058.4 245.4L1065.7 245.0L1076.5 242.0L1085.4 241.1L1096.1 245.3L1105.6 246.8L1119.6 251.7L1128.1 252.6L1134.0 260.8L1138.3 265.5L1146.0 273.0L1151.1 286.5L1151.7 296.4L1154.1 305.2L1154.0 313.9L1156.5 324.3L1153.8 333.5L1152.9 346.3L1152.0 355.8L1143.0 370.8L1135.5 375.6L1125.2 377.1L1117.6 383.8L1108.2 384.6L1099.8 389.6L1092.3 391.3L1082.7 390.9L1072.0 388.6L1061.6 390.5L1052.3 385.8L1041.1 382.1L1030.6 375.9L1025.0 367.3L1017.5 355.2L1013.8 347.1Z" fill="#0AF55A" stroke="#0AF55A" stroke-width="0.7"/>
<path d="M996.8 269.8L1004.4 262.9L1012.3 255.1L1024.0 266.8L1015.3 278.2L1010.6 287.0L1003.2 278.6Z" fill="#5014E6" stroke="#5014E6" stroke-width="0.7"/>
<path d="M991.0 305.4L991.0 269.2L996.8 269.8L1003.2 278.6L1010.6 287.0L1005.2 303.0Z" fill="#FA8232" stroke="#FA8232" stroke-width="0.7"/>
<path d="M991.0 340.1L991.0 305.4L1005.2 303.0L1006.4 312.7L1006.7 324.9L1007.1 338.3Z" fill="#50F53C" stroke="#50F53C" stroke-width="0.7"/>
<path d="M1152.0 355.8L1152.9 346.3L1153.8 333.5L1156.5 324.3L1162.1 335.9L1168.5 345.1L1158.7 350.6Z" fill="#FAB432" stroke="#FAB432" stroke-width="0.7"/>
<path d="M991.0 388.6L991.0 340.1L1007.1 338.3L1013.8 347.1L1017.5 355.2L1025.0 367.3L1030.6 375.9L1021.7 385.3L1011.4 385.2L1000.2 388.8Z" fill="#FA323C" stroke="#FA323C" stroke-width="0.7"/>
<path d="M991.0 452.3L991.0 388.6L1000.2 388.8L1011.4 385.2L1021.7 385.3L1030.5 393.1L1034.7 402.9L1041.9 409.9L1047.1 415.4L1043.7 426.0L1038.5 433.7L1038.9 439.9L1033.3 449.6L1025.1 448.9L1013.8 451.0L1001.8 450.6Z" fill="#1414F0" stroke="#1414F0" stroke-width="0.7"/>
<path d="M1047.1 415.4L1041.9 409.9L1034.7 402.9L1030.5 393.1L1021.7 385.3L1030.6 375.9L1041.1 382.1L1052.3 385.8L1061.6 390.5L1059.8 399.2L1057.3 411.2Z" fill="#F01E8C" stroke="#F01E8C" stroke-width="0.7"/>
<path d="M1057.3 411.2L1059.8 399.2L1061.6 390.5L1072.0 388.6L1082.7 390.9L1092.3 391.3L1099.8 389.6L1102.4 422.3L1086.4 429.0L1075.5 421.0L1068.9 417.7ZM1102.4 422.3L1099.8 389.6L1108.2 384.6L1117.6 383.8L1125.2 377.1L1135.5 375.6L1143.0 370.8L1145.9 381.9L1147.4 390.0L1143.0 400.5L1139.1 409.9L1135.5 419.3L1131.6 426.3L1120.3 425.6L1104.9 424.7Z" fill="#C8FA64" stroke="#C8FA64" stroke-width="0.7"/>
<path d="M1217.5 424.8L1209.9 424.2L1197.9 423.2L1188.6 421.8L1179.0 423.8L1169.9 422.7L1163.5 417.0L1158.4 405.9L1151.9 399.2L1147.4 390.0L1145.9 381.9L1143.0 370.8L1152.0 355.8L1158.7 350.6L1168.5 345.1L1178.5 346.4L1187.1 348.7L1197.7 350.4L1207.8 350.0L1215.1 351.4L1224.2 352.8L1230.7 359.4L1237.9 367.6L1239.1 378.6L1240.0 388.6L1240.1 395.9L1234.4 401.9L1229.2 411.9L1221.5 418.9Z" fill="#F00A46" stroke="#F00A46" stroke-width="0.7"/>
<path d="M1131.6 426.3L1135.5 419.3L1139.1 409.9L1143.0 400.5L1147.4 390.0L1151.9 399.2L1158.4 405.9L1163.5 417.0L1153.6 422.4L1149.0 427.3L1137.8 432.1ZM1403.5 579.5L1403.6 572.4L1404.7 560.7L1408.4 567.1L1414.2 578.9L1419.4 584.8Z" fill="#963CF0" stroke="#963CF0" stroke-width="0.7"/>
<path d="M1137.8 432.1L1149.0 427.3L1153.6 422.4L1163.5 417.0L1169.9 422.7L1168.7 435.7L1166.8 444.0L1152.6 441.8L1141.5 441.0Z" fill="#0A0AF0" stroke="#0A0AF0" stroke-width="0.7"/>
<path d="M1205.1 459.4L1192.5 456.9L1186.4 455.8L1173.6 455.4L1166.8 444.0L1168.7 435.7L1169.9 422.7L1179.0 423.8L1188.6 421.8L1197.9 423.2L1209.9 424.2L1217.5 424.8L1221.0 431.1L1215.8 440.8L1211.5 450.0ZM1273.9 127.2L1272.3 114.6L1267.7 104.8L1266.0 92.5L1276.5 92.6L1292.5 93.5L1295.7 99.0L1296.2 112.9L1289.9 119.6L1278.9 128.6ZM1296.2 112.9L1295.7 99.0L1310.4 108.6L1309.8 117.2ZM1628.6 251.5L1631.0 243.7L1638.0 230.8L1641.4 225.7L1647.7 215.7L1658.6 216.7L1669.4 222.8L1681.1 227.4L1678.8 239.9L1677.3 247.1L1673.7 257.2L1671.6 266.4L1667.1 277.0L1656.1 279.9L1651.6 273.7L1642.1 266.8L1636.7 258.5Z" fill="#14F514" stroke="#14F514" stroke-width="0.7"/>
<path d="M1033.3 449.6L1038.9 439.9L1038.5 433.7L1043.7 426.0L1047.1 415.4L1057.3 411.2L1068.9 417.7L1075.5 421.0L1086.4 429.0L1091.2 442.0L1091.0 449.9L1089.1 462.6L1080.5 464.9L1067.3 465.1L1060.0 466.8L1050.0 468.2L1040.8 457.0Z" fill="#64FA6E" stroke="#64FA6E" stroke-width="0.7"/>
<path d="M1086.4 429.0L1102.4 422.3L1104.9 424.7L1098.7 431.7L1091.2 442.0ZM1393.3 401.7L1396.4 394.1L1402.8 385.5L1405.2 376.9L1412.5 364.7L1416.8 357.9L1421.9 357.8L1426.6 364.9L1433.0 376.6L1428.2 387.4L1424.6 395.5L1421.7 402.1L1417.4 413.2L1406.5 410.2L1398.1 407.1Z" fill="#5A1EF0" stroke="#5A1EF0" stroke-width="0.7"/>
<path d="M1089.1 462.6L1091.0 449.9L1091.2 442.0L1098.7 431.7L1104.9 424.7L1120.3 425.6L1131.6 426.3L1137.8 432.1L1141.5 441.0L1136.5 452.0L1132.4 464.6L1126.4 468.6L1114.9 469.3L1108.4 467.9L1096.1 469.8Z" fill="#5AF50A" stroke="#5AF50A" stroke-width="0.7"/>
<path d="M1142.6 478.7L1132.4 464.6L1136.5 452.0L1141.5 441.0L1152.6 441.8L1166.8 444.0L1173.6 455.4L1167.2 463.4L1163.1 471.3L1155.8 479.7Z" fill="#78FAD2" stroke="#78FAD2" stroke-width="0.7"/>
<path d="M991.0 530.6L991.0 452.3L1001.8 450.6L1013.8 451.0L1025.1 448.9L1033.3 449.6L1040.8 457.0L1050.0 468.2L1046.7 478.3L1047.2 487.4L1045.3 497.1L1042.3 504.4L1040.0 515.0L1032.9 519.0L1018.1 521.9L1011.3 522.5L999.2 528.1ZM1068.5 599.0L991.0 599.0L991.0 530.6L999.2 528.1L1011.3 522.5L1018.1 521.9L1032.9 519.0L1040.0 515.0L1052.2 518.7L1057.8 523.5L1068.5 527.3L1069.1 539.7L1069.3 547.8L1067.4 557.8L1069.9 570.3L1067.0 580.0L1066.8 591.0Z" fill="#0AF578" stroke="#0AF578" stroke-width="0.7"/>
<path d="M1040.0 515.0L1042.3 504.4L1045.3 497.1L1047.2 487.4L1046.7 478.3L1050.0 468.2L1060.0 466.8L1067.3 465.1L1080.5 464.9L1089.1 462.6L1096.1 469.8L1097.8 478.9L1094.4 486.3L1097.2 498.5L1097.8 504.4L1096.1 515.4L1086.2 518.0L1077.6 521.9L1068.5 527.3L1057.8 523.5L1052.2 518.7ZM1129.5 599.0L1068.5 599.0L1066.8 591.0L1067.0 580.0L1069.9 570.3L1067.4 557.8L1069.3 547.8L1069.1 539.7L1068.5 527.3L1077.6 521.9L1086.2 518.0L1096.1 515.4L1107.6 520.8L1119.9 523.9L1129.3 526.3L1129.5 526.5L1128.7 534.8L1127.9 544.8L1128.9 554.2L1130.9 562.7L1130.6 570.4L1127.8 580.0L1130.1 590.0ZM1334.9 532.9L1336.3 522.9L1338.9 514.0L1341.5 505.7L1343.9 493.0L1347.3 485.4L1352.4 481.3L1360.4 483.3L1367.4 488.1L1376.6 492.2L1388.1 494.4L1396.2 497.8L1398.2 508.7L1399.9 520.1L1397.5 530.7L1389.3 544.4L1382.0 548.1L1372.8 551.4L1362.0 554.3L1355.5 547.7L1342.8 540.2Z" fill="#FA46A0" stroke="#FA46A0" stroke-width="0.7"/>
<path d="M1096.1 515.4L1097.8 504.4L1097.2 498.5L1094.4 486.3L1097.8 478.9L1096.1 469.8L1108.4 467.9L1114.9 469.3L1126.4 468.6L1133.1 475.2L1140.7 481.2L1142.2 488.7L1138.6 497.2L1137.0 505.3L1133.8 517.9L1129.3 526.3L1119.9 523.9L1107.6 520.8Z" fill="#F528A0" stroke="#F528A0" stroke-width="0.7"/>
<path d="M1126.4 468.6L1132.4 464.6L1142.6 478.7L1140.7 481.2L1133.1 475.2Z" fill="#F5F028" stroke="#F5F028" stroke-width="0.7"/>
<path d="M1142.2 488.7L1140.7 481.2L1142.6 478.7L1155.8 479.7L1155.5 488.7Z" fill="#46F546" stroke="#46F546" stroke-width="0.7"/>
<path d="M1129.3 526.3L1133.8 517.9L1137.0 505.3L1138.6 497.2L1142.2 488.7L1155.5 488.7L1160.8 496.6L1165.5 508.2L1167.0 514.7L1171.5 524.2L1170.8 525.1L1159.1 524.1L1148.9 526.5L1142.0 525.3L1129.5 526.5ZM1172.4 599.0L1129.5 599.0L1130.1 590.0L1127.8 580.0L1130.6 570.4L1130.9 562.7L1128.9 554.2L1127.9 544.8L1128.7 534.8L1129.5 526.5L1142.0 525.3L1148.9 526.5L1159.1 524.1L1170.8 525.1L1177.1 536.0L1180.1 548.1L1185.2 555.1L1182.5 562.0L1181.8 572.2L1175.9 580.4L1176.6 590.2Z" fill="#A0C8FA" stroke="#A0C8FA" stroke-width="0.7"/>
<path d="M1171.5 524.2L1167.0 514.7L1165.5 508.2L1160.8 496.6L1155.5 488.7L1155.8 479.7L1163.1 471.3L1167.2 463.4L1173.6 455.4L1186.4 455.8L1192.5 456.9L1205.1 459.4L1209.6 469.6L1210.7 477.2L1216.6 491.2L1221.2 498.6L1214.4 504.6L1207.3 510.0L1197.6 518.2L1190.7 522.1L1180.0 523.4Z" fill="#78FAFA" stroke="#78FAFA" stroke-width="0.7"/>
<path d="M1207.3 510.0L1214.4 504.6L1221.2 498.6L1224.9 500.5L1216.7 503.8ZM1464.5 345.6L1461.0 342.6L1459.9 335.3L1458.4 325.1L1453.7 318.3L1452.3 306.9L1460.5 300.5L1465.4 295.6L1473.2 286.5L1482.3 284.9L1491.7 285.9L1500.9 286.0L1511.5 286.7L1516.5 295.6L1522.4 310.2L1527.2 318.4L1525.6 329.5L1520.6 337.6L1513.2 350.4L1504.1 349.5L1493.9 347.9L1481.9 347.3L1473.6 345.6Z" fill="#783CF0" stroke="#783CF0" stroke-width="0.7"/>
<path d="M1224.4 568.1L1215.3 562.4L1202.5 556.6L1193.9 552.5L1191.3 541.4L1191.3 534.3L1190.7 522.1L1197.6 518.2L1207.3 510.0L1216.7 503.8L1224.9 500.5L1238.4 504.6L1239.5 516.2L1238.6 523.7L1236.1 532.3L1238.5 545.1L1237.6 550.3L1236.1 561.9Z" fill="#8C78FA" stroke="#8C78FA" stroke-width="0.7"/>
<path d="M1216.8 599.0L1172.4 599.0L1176.6 590.2L1175.9 580.4L1181.8 572.2L1182.5 562.0L1185.2 555.1L1193.9 552.5L1202.5 556.6L1215.3 562.4L1224.4 568.1L1222.5 579.9L1219.4 588.5Z" fill="#AAC8FA" stroke="#AAC8FA" stroke-width="0.7"/>
<path d="M1170.8 525.1L1171.5 524.2L1180.0 523.4L1190.7 522.1L1191.3 534.3L1191.3 541.4L1193.9 552.5L1185.2 555.1L1180.1 548.1L1177.1 536.0ZM1568.5 306.3L1569.8 297.0L1569.5 287.5L1584.8 294.0L1583.9 304.6Z" fill="#3CF53C" stroke="#3CF53C" stroke-width="0.7"/>
<path d="M1239.7 76.0L1257.7 76.0L1257.9 81.1L1248.7 78.9L1239.2 76.5Z" fill="#3264F0" stroke="#3264F0" stroke-width="0.7"/>
<path d="M1221.9 76.0L1239.7 76.0L1239.2 76.5Z" fill="#FA5A8C" stroke="#FA5A8C" stroke-width="0.7"/>
<path d="M1257.7 76.0L1293.4 76.0L1292.5 93.5L1276.5 92.6L1266.0 92.5L1257.9 81.1Z" fill="#C878F5" stroke="#C878F5" stroke-width="0.7"/>
<path d="M1293.4 76.0L1339.0 76.0L1342.3 90.7L1333.3 95.9L1325.1 100.5L1317.6 103.1L1310.4 108.6L1295.7 99.0L1292.5 93.5ZM1604.2 466.3L1596.4 462.2L1593.9 454.9L1591.3 441.5L1591.3 433.6L1592.8 432.7L1602.3 435.8L1608.9 439.7L1616.9 445.1L1624.8 450.1L1624.2 451.3L1615.1 457.8Z" fill="#28B4FA" stroke="#28B4FA" stroke-width="0.7"/>
<path d="M1339.0 76.0L1364.2 76.0L1355.1 90.7L1342.4 90.7L1342.3 90.7Z" fill="#FA5A96" stroke="#FA5A96" stroke-width="0.7"/>
<path d="M1364.2 76.0L1410.0 76.0L1414.6 89.7L1411.0 98.3L1405.6 106.6L1399.5 117.7L1395.7 127.5L1386.0 128.0L1373.4 127.5L1367.2 121.0L1357.7 113.2L1355.5 99.7L1355.1 90.7Z" fill="#FA6450" stroke="#FA6450" stroke-width="0.7"/>
<path d="M1410.0 76.0L1436.6 76.0L1433.6 90.2L1424.0 90.1L1414.6 89.7ZM1466.9 401.0L1459.5 392.2L1454.7 384.8L1453.9 383.2L1456.6 375.7L1458.0 365.6L1461.8 356.6L1464.5 345.6L1473.6 345.6L1481.9 347.3L1493.9 347.9L1504.1 349.5L1513.2 350.4L1513.3 350.5L1513.4 359.6L1515.1 370.9L1515.9 385.2L1507.8 385.9L1497.4 390.9L1488.9 393.9L1478.6 396.3Z" fill="#28F55A" stroke="#28F55A" stroke-width="0.7"/>
<path d="M1436.6 76.0L1491.6 76.0L1496.5 87.3L1493.2 97.5L1490.3 111.2L1480.4 118.4L1473.6 123.7L1461.2 121.7L1453.4 119.7L1446.0 109.4L1439.3 98.1L1433.6 90.2ZM1340.7 599.0L1279.2 599.0L1280.1 588.3L1288.3 583.8L1296.8 576.8L1304.0 572.6L1313.4 564.5L1319.9 569.2L1328.6 574.2L1337.8 581.8Z" fill="#3C14F0" stroke="#3C14F0" stroke-width="0.7"/>
<path d="M1309.8 117.2L1310.4 108.6L1317.6 103.1L1325.1 100.5L1333.3 95.9L1342.3 90.7L1342.4 90.7L1344.9 100.9L1349.7 111.7L1340.3 115.0L1333.4 119.4L1326.3 124.3L1316.7 129.6Z" fill="#FA320A" stroke="#FA320A" stroke-width="0.7"/>
<path d="M1342.4 90.7L1355.1 90.7L1355.5 99.7L1357.7 113.2L1349.7 111.7L1344.9 100.9Z" fill="#FA5A82" stroke="#FA5A82" stroke-width="0.7"/>
<path d="M1282.9 137.3L1278.9 128.6L1289.9 119.6L1296.2 112.9L1309.8 117.2L1316.7 129.6L1316.4 130.7L1304.1 133.2L1293.2 135.6Z" fill="#82FA46" stroke="#82FA46" stroke-width="0.7"/>
<path d="M1259.7 155.1L1264.1 143.2L1268.4 136.0L1273.9 127.2L1278.9 128.6L1282.9 137.3L1276.9 146.4L1271.1 151.6L1266.1 159.0Z" fill="#5A64F0" stroke="#5A64F0" stroke-width="0.7"/>
<path d="M1267.6 170.1L1266.1 159.0L1271.1 151.6L1276.9 146.4L1282.9 137.3L1293.2 135.6L1304.1 133.2L1316.4 130.7L1320.3 139.6L1327.2 145.4L1331.7 158.0L1336.1 163.8L1341.5 171.9L1336.4 177.2L1328.5 188.7L1324.3 193.0L1315.8 201.0L1306.7 203.9L1293.6 201.4L1285.3 192.2L1280.9 186.8L1273.5 177.0Z" fill="#1E82F0" stroke="#1E82F0" stroke-width="0.7"/>
<path d="M1367.2 159.8L1368.9 150.9L1369.5 140.3L1373.4 127.5L1386.0 128.0L1395.7 127.5L1401.8 135.8L1399.6 150.6L1398.6 162.2L1385.1 173.5L1375.7 167.5Z" fill="#50E6FA" stroke="#50E6FA" stroke-width="0.7"/>
<path d="M1401.8 135.8L1395.7 127.5L1399.5 117.7L1405.6 106.6L1411.0 98.3L1414.6 89.7L1424.0 90.1L1433.6 90.2L1439.3 98.1L1446.0 109.4L1453.4 119.7L1445.6 130.1L1440.7 136.9L1432.5 145.2L1420.3 141.2L1413.0 139.7Z" fill="#3CF5DC" stroke="#3CF5DC" stroke-width="0.7"/>
<path d="M1398.6 162.2L1399.6 150.6L1401.8 135.8L1413.0 139.7L1420.3 141.2L1432.5 145.2L1436.2 160.2L1426.1 159.0L1416.5 162.1L1409.9 162.2Z" fill="#FAFAE6" stroke="#FAFAE6" stroke-width="0.7"/>
<path d="M1442.4 165.4L1436.2 160.2L1432.5 145.2L1440.7 136.9L1445.6 130.1L1453.4 119.7L1461.2 121.7L1473.6 123.7L1472.4 134.7L1475.4 145.0L1473.0 153.2L1474.9 162.4L1466.3 161.8L1454.1 166.0Z" fill="#FA3C82" stroke="#FA3C82" stroke-width="0.7"/>
<path d="M1240.8 190.5L1239.7 189.2L1239.4 180.2L1239.8 170.7L1240.8 162.0L1249.1 158.5L1259.7 155.1L1266.1 159.0L1267.6 170.1L1260.6 178.8L1255.6 181.6L1249.3 190.1Z" fill="#FAC828" stroke="#FAC828" stroke-width="0.7"/>
<path d="M1238.2 193.0L1236.8 193.0L1239.7 189.2L1240.8 190.5Z" fill="#B496F5" stroke="#B496F5" stroke-width="0.7"/>
<path d="M1249.3 190.1L1255.6 181.6L1260.6 178.8L1267.6 170.1L1273.5 177.0L1280.9 186.8L1285.3 192.2L1293.6 201.4L1285.8 207.2L1275.3 216.0L1267.3 209.6L1265.0 203.5L1254.9 194.3ZM1633.1 76.0L1680.2 76.0L1673.8 91.5L1665.5 96.1L1652.5 99.0L1643.8 102.0L1641.7 93.4L1635.5 84.7Z" fill="#F50A32" stroke="#F50A32" stroke-width="0.7"/>
<path d="M1342.6 172.1L1349.7 168.0L1360.7 163.7L1367.2 159.8L1375.7 167.5L1385.1 173.5L1382.8 184.3L1371.0 184.0L1360.7 186.5L1352.3 187.1ZM1486.6 472.5L1478.6 466.0L1472.6 458.5L1464.2 449.4L1462.5 442.0L1460.1 430.5L1457.4 414.0L1466.9 401.0L1478.6 396.3L1488.9 393.9L1497.4 390.9L1507.8 385.9L1515.9 385.2L1529.0 391.5L1532.8 402.0L1536.6 407.1L1541.9 415.7L1545.9 425.5L1548.5 433.1L1547.1 448.6L1536.9 455.6L1528.2 458.2L1521.1 465.6L1513.0 468.6L1504.6 474.8L1496.2 474.2Z" fill="#2882F0" stroke="#2882F0" stroke-width="0.7"/>
<path d="M1315.8 201.0L1324.3 193.0L1328.5 188.7L1336.4 177.2L1341.5 171.9L1342.6 172.1L1352.3 187.1L1348.3 196.3L1346.1 207.3L1342.2 215.8L1340.8 216.3L1333.6 210.7L1323.3 204.7Z" fill="#FAC3B4" stroke="#FAC3B4" stroke-width="0.7"/>
<path d="M1309.6 231.7L1308.5 222.6L1306.9 212.7L1306.7 203.9L1315.8 201.0L1323.3 204.7L1333.6 210.7L1340.8 216.3L1334.6 229.5L1324.8 231.3Z" fill="#50FAD2" stroke="#50FAD2" stroke-width="0.7"/>
<path d="M1342.2 215.8L1346.1 207.3L1348.3 196.3L1352.3 187.1L1360.7 186.5L1371.0 184.0L1382.8 184.3L1386.7 198.0L1391.2 207.2L1382.2 213.4L1375.8 217.4L1369.5 222.9L1360.2 227.0L1352.1 222.9ZM1446.0 307.5L1436.6 299.4L1428.9 297.5L1418.6 288.2L1423.9 277.1L1428.3 266.4L1430.5 260.6L1434.1 250.6L1439.2 238.6L1454.4 238.7L1459.5 247.5L1467.7 255.5L1472.4 262.6L1477.9 270.4L1473.2 286.5L1465.4 295.6L1460.5 300.5L1452.3 306.9Z" fill="#28F56E" stroke="#28F56E" stroke-width="0.7"/>
<path d="M1391.2 207.2L1386.7 198.0L1382.8 184.3L1385.1 173.5L1398.6 162.2L1409.9 162.2L1416.5 162.1L1426.1 159.0L1436.2 160.2L1442.4 165.4L1444.5 176.0L1442.4 187.7L1445.4 198.0L1444.3 208.2L1436.9 213.9L1428.8 219.5L1420.5 216.9L1410.4 214.7L1401.0 210.8Z" fill="#46F50A" stroke="#46F50A" stroke-width="0.7"/>
<path d="M1456.9 210.3L1449.0 209.8L1444.3 208.2L1445.4 198.0L1442.4 187.7L1444.5 176.0L1442.4 165.4L1454.1 166.0L1466.3 161.8L1474.9 162.4L1485.8 172.8L1479.5 178.6L1473.8 187.5L1468.9 192.7L1464.2 202.3Z" fill="#FA960A" stroke="#FA960A" stroke-width="0.7"/>
<path d="M1266.4 236.7L1261.0 228.7L1254.5 221.3L1249.6 208.8L1243.1 202.1L1238.2 193.0L1240.8 190.5L1249.3 190.1L1254.9 194.3L1265.0 203.5L1267.3 209.6L1275.3 216.0L1274.5 223.3L1271.6 234.6Z" fill="#64AAFA" stroke="#64AAFA" stroke-width="0.7"/>
<path d="M1271.6 234.6L1274.5 223.3L1275.3 216.0L1285.8 207.2L1293.6 201.4L1306.7 203.9L1306.9 212.7L1308.5 222.6L1309.6 231.7L1301.2 238.6L1294.4 243.4L1284.8 239.7ZM1515.9 385.2L1515.1 370.9L1513.4 359.6L1513.3 350.5L1522.3 349.6L1536.4 348.9L1540.5 362.6L1543.7 371.6L1547.8 383.0L1538.3 387.0L1529.0 391.5Z" fill="#6E14F0" stroke="#6E14F0" stroke-width="0.7"/>
<path d="M1334.6 229.5L1340.8 216.3L1342.2 215.8L1352.1 222.9L1360.2 227.0L1357.1 234.6L1352.4 245.6L1344.5 239.1Z" fill="#F514E6" stroke="#F514E6" stroke-width="0.7"/>
<path d="M1355.3 268.2L1354.2 255.2L1352.4 245.6L1357.1 234.6L1360.2 227.0L1369.5 222.9L1375.8 217.4L1382.2 213.4L1391.2 207.2L1401.0 210.8L1410.4 214.7L1420.5 216.9L1428.8 219.5L1434.9 230.1L1439.2 238.6L1434.1 250.6L1430.5 260.6L1428.3 266.4L1423.9 277.1L1418.6 288.2L1406.4 295.0L1391.4 298.1L1385.3 293.7L1377.8 285.8L1372.2 280.4L1363.2 274.1Z" fill="#DCFA14" stroke="#DCFA14" stroke-width="0.7"/>
<path d="M1439.2 238.6L1434.9 230.1L1428.8 219.5L1436.9 213.9L1444.3 208.2L1449.0 209.8L1452.6 220.9L1452.5 228.2L1455.9 237.1L1454.4 238.7Z" fill="#C36EF0" stroke="#C36EF0" stroke-width="0.7"/>
<path d="M1455.9 237.1L1452.5 228.2L1452.6 220.9L1449.0 209.8L1456.9 210.3L1466.5 221.2L1473.6 226.6L1464.5 231.2Z" fill="#F51E82" stroke="#F51E82" stroke-width="0.7"/>
<path d="M1267.0 300.1L1263.1 291.6L1258.4 283.1L1255.7 272.4L1251.9 264.3L1248.5 256.9L1253.8 252.5L1262.3 242.4L1266.4 236.7L1271.6 234.6L1284.8 239.7L1294.4 243.4L1294.7 253.0L1297.4 266.1L1298.9 275.9L1301.6 285.7L1290.7 292.8L1280.0 301.1Z" fill="#8CFA5A" stroke="#8CFA5A" stroke-width="0.7"/>
<path d="M1301.6 285.7L1298.9 275.9L1297.4 266.1L1294.7 253.0L1294.4 243.4L1301.2 238.6L1309.6 231.7L1324.8 231.3L1334.6 229.5L1344.5 239.1L1352.4 245.6L1354.2 255.2L1355.3 268.2L1346.5 278.3L1337.6 285.8L1331.3 294.9L1319.0 292.2L1313.1 288.5Z" fill="#FA5A46" stroke="#FA5A46" stroke-width="0.7"/>
<path d="M1281.5 330.7L1280.7 321.5L1279.2 309.5L1280.0 301.1L1290.7 292.8L1301.6 285.7L1313.1 288.5L1319.0 292.2L1331.3 294.9L1333.9 304.5L1339.1 315.3L1330.8 326.5L1319.8 326.0L1312.1 326.7L1300.4 329.1L1292.1 329.6Z" fill="#FAAF64" stroke="#FAAF64" stroke-width="0.7"/>
<path d="M1262.5 315.5L1267.0 300.1L1280.0 301.1L1279.2 309.5L1280.7 321.5L1281.5 330.7L1278.2 333.1L1271.1 325.3ZM1605.4 76.0L1633.1 76.0L1635.5 84.7L1641.7 93.4L1643.8 102.0L1642.3 109.2L1629.6 111.0L1620.9 113.6L1611.8 116.1L1603.9 106.8L1599.0 98.5L1598.4 89.2Z" fill="#28F514" stroke="#28F514" stroke-width="0.7"/>
<path d="M1237.9 367.6L1230.7 359.4L1224.2 352.8L1234.7 344.7L1238.9 336.3L1247.2 331.1L1255.2 323.3L1262.5 315.5L1271.1 325.3L1278.2 333.1L1274.1 343.7L1268.2 354.4L1262.6 362.8L1251.3 364.2Z" fill="#FAC850" stroke="#FAC850" stroke-width="0.7"/>
<path d="M1383.0 311.8L1391.4 298.1L1406.4 295.0L1413.9 299.5L1423.7 302.8L1430.3 308.8L1439.7 313.8L1438.1 322.1L1437.5 333.5L1437.5 343.9L1429.3 352.8L1421.9 357.8L1416.8 357.9L1412.7 350.8L1404.7 341.6L1400.2 335.2L1392.9 325.3L1387.7 318.5Z" fill="#6E28F0" stroke="#6E28F0" stroke-width="0.7"/>
<path d="M1406.4 295.0L1418.6 288.2L1428.9 297.5L1436.6 299.4L1446.0 307.5L1439.7 313.8L1430.3 308.8L1423.7 302.8L1413.9 299.5Z" fill="#28F578" stroke="#28F578" stroke-width="0.7"/>
<path d="M1461.0 342.6L1449.3 344.3L1437.5 343.9L1437.5 333.5L1438.1 322.1L1439.7 313.8L1446.0 307.5L1452.3 306.9L1453.7 318.3L1458.4 325.1L1459.9 335.3Z" fill="#96FA46" stroke="#96FA46" stroke-width="0.7"/>
<path d="M1246.7 400.3L1240.1 395.9L1240.0 388.6L1239.1 378.6L1237.9 367.6L1251.3 364.2L1262.6 362.8L1263.7 376.1L1266.7 382.1L1267.3 394.5L1256.3 396.7Z" fill="#14F5DC" stroke="#14F5DC" stroke-width="0.7"/>
<path d="M1221.0 431.1L1217.5 424.8L1221.5 418.9L1229.2 411.9L1234.4 401.9L1240.1 395.9L1246.7 400.3L1244.7 411.1L1244.4 426.5L1232.0 429.6Z" fill="#FA7878" stroke="#FA7878" stroke-width="0.7"/>
<path d="M1244.4 426.5L1244.7 411.1L1246.7 400.3L1256.3 396.7L1267.3 394.5L1276.3 401.4L1281.3 406.6L1287.2 415.5L1293.9 422.2L1294.6 430.6L1285.8 436.2L1276.7 441.7L1266.9 436.5L1256.5 432.8ZM1538.5 101.2L1538.5 85.7L1543.6 79.2L1556.6 82.0L1564.9 82.9L1563.7 92.1L1561.0 106.2L1549.2 104.2Z" fill="#3CF528" stroke="#3CF528" stroke-width="0.7"/>
<path d="M1293.9 422.2L1287.2 415.5L1281.3 406.6L1276.3 401.4L1267.3 394.5L1266.7 382.1L1263.7 376.1L1262.6 362.8L1268.2 354.4L1274.1 343.7L1278.2 333.1L1281.5 330.7L1292.1 329.6L1300.4 329.1L1312.1 326.7L1319.8 326.0L1330.8 326.5L1350.5 402.4Z" fill="#DCFAE6" stroke="#DCFAE6" stroke-width="0.7"/>
<path d="M1350.5 402.4L1330.8 326.5L1339.1 315.3L1347.6 314.8L1360.0 313.8L1372.0 314.2L1383.0 311.8L1387.7 318.5L1392.9 325.3L1400.2 335.2L1404.7 341.6L1412.7 350.8L1416.8 357.9L1412.5 364.7L1405.2 376.9L1402.8 385.5L1396.4 394.1L1393.3 401.7L1380.2 404.0L1368.4 406.9L1358.3 408.2Z" fill="#E8E8FC" stroke="#E8E8FC" stroke-width="0.7"/>
<path d="M1294.6 430.6L1293.9 422.2L1350.5 402.4L1358.3 408.2L1358.1 410.8L1352.5 419.3L1345.5 423.3L1335.2 432.8L1330.9 439.9L1318.6 441.5L1312.8 442.0L1303.9 436.9Z" fill="#E4FAF0" stroke="#E4FAF0" stroke-width="0.7"/>
<path d="M1453.9 383.2L1438.6 376.8L1434.2 367.9L1429.3 352.8L1437.5 343.9L1449.3 344.3L1461.0 342.6L1464.5 345.6L1461.8 356.6L1458.0 365.6L1456.6 375.7Z" fill="#28F550" stroke="#28F550" stroke-width="0.7"/>
<path d="M1433.0 376.6L1426.6 364.9L1421.9 357.8L1429.3 352.8L1434.2 367.9L1438.6 376.8Z" fill="#F50A1E" stroke="#F50A1E" stroke-width="0.7"/>
<path d="M1417.4 413.2L1421.7 402.1L1424.6 395.5L1428.2 387.4L1433.0 376.6L1438.6 376.8L1453.9 383.2L1454.7 384.8L1453.4 396.4L1453.3 403.5L1454.7 414.2L1445.1 416.1L1434.8 416.2L1421.8 416.8Z" fill="#28F5A0" stroke="#28F5A0" stroke-width="0.7"/>
<path d="M1454.9 414.3L1454.7 414.2L1453.3 403.5L1453.4 396.4L1454.7 384.8L1459.5 392.2L1466.9 401.0L1457.4 414.0Z" fill="#78F528" stroke="#78F528" stroke-width="0.7"/>
<path d="M1238.4 504.6L1224.9 500.5L1221.2 498.6L1216.6 491.2L1210.7 477.2L1209.6 469.6L1205.1 459.4L1211.5 450.0L1215.8 440.8L1221.0 431.1L1232.0 429.6L1244.4 426.5L1256.5 432.8L1266.9 436.5L1276.7 441.7L1277.3 449.4L1277.5 458.3L1276.2 466.9L1276.0 479.4L1277.6 487.1L1269.6 491.3L1255.3 495.3L1250.2 500.2Z" fill="#D2FA14" stroke="#D2FA14" stroke-width="0.7"/>
<path d="M1277.6 487.1L1276.0 479.4L1276.2 466.9L1277.5 458.3L1277.3 449.4L1276.7 441.7L1285.8 436.2L1294.6 430.6L1303.9 436.9L1312.8 442.0L1315.6 449.2L1317.5 459.8L1314.0 473.8L1311.8 483.6L1299.7 492.6L1290.3 489.4Z" fill="#46F514" stroke="#46F514" stroke-width="0.7"/>
<path d="M1317.5 459.8L1315.6 449.2L1312.8 442.0L1318.6 441.5L1331.5 443.0L1336.2 451.8L1339.9 459.8L1325.9 460.6Z" fill="#FA6E1E" stroke="#FA6E1E" stroke-width="0.7"/>
<path d="M1311.8 483.6L1314.0 473.8L1317.5 459.8L1325.9 460.6L1339.9 459.8L1348.3 467.1L1352.4 481.3L1347.3 485.4L1336.1 483.1L1323.1 485.9Z" fill="#FA3C46" stroke="#FA3C46" stroke-width="0.7"/>
<path d="M1318.6 441.5L1330.9 439.9L1331.5 443.0Z" fill="#1E1EF0" stroke="#1E1EF0" stroke-width="0.7"/>
<path d="M1339.9 459.8L1336.2 451.8L1331.5 443.0L1330.9 439.9L1335.2 432.8L1345.5 423.3L1352.5 419.3L1358.1 410.8L1367.2 418.4L1364.7 427.6L1358.8 435.9L1355.8 445.8L1351.1 455.6L1348.3 467.1Z" fill="#5A82F0" stroke="#5A82F0" stroke-width="0.7"/>
<path d="M1358.1 410.8L1358.3 408.2L1368.4 406.9L1380.2 404.0L1393.3 401.7L1398.1 407.1L1389.3 409.4L1380.1 414.5L1367.2 418.4Z" fill="#D282FA" stroke="#D282FA" stroke-width="0.7"/>
<path d="M1352.4 481.3L1348.3 467.1L1351.1 455.6L1355.8 445.8L1358.8 435.9L1364.7 427.6L1367.2 418.4L1380.1 414.5L1389.3 409.4L1398.1 407.1L1406.5 410.2L1417.4 413.2L1421.8 416.8L1424.4 428.5L1425.0 433.8L1427.0 448.0L1430.5 455.3L1432.1 465.0L1425.2 473.1L1417.4 483.2L1411.4 493.9L1396.2 497.8L1388.1 494.4L1376.6 492.2L1367.4 488.1L1360.4 483.3Z" fill="#FA14D2" stroke="#FA14D2" stroke-width="0.7"/>
<path d="M1432.1 465.0L1430.5 455.3L1427.0 448.0L1425.0 433.8L1424.4 428.5L1421.8 416.8L1434.8 416.2L1445.1 416.1L1454.7 414.2L1454.9 414.3L1460.1 430.5L1462.5 442.0L1464.2 449.4L1455.8 462.1L1446.2 468.1Z" fill="#FA50BE" stroke="#FA50BE" stroke-width="0.7"/>
<path d="M1454.3 477.8L1446.2 468.1L1455.8 462.1L1459.4 476.2ZM1459.4 476.2L1455.8 462.1L1464.2 449.4L1472.6 458.5L1478.6 466.0L1486.6 472.5L1478.5 478.7L1469.5 476.8Z" fill="#FA9A36" stroke="#FA9A36" stroke-width="0.7"/>
<path d="M1411.4 493.9L1417.4 483.2L1425.2 473.1L1432.1 465.0L1446.2 468.1L1454.3 477.8L1452.9 481.8L1446.3 491.2L1444.1 497.7L1437.8 507.2L1426.2 509.3L1418.3 500.5Z" fill="#F51432" stroke="#F51432" stroke-width="0.7"/>
<path d="M1452.9 509.6L1437.8 507.2L1444.1 497.7L1446.3 491.2L1452.9 481.8L1452.0 490.1L1453.8 498.8Z" fill="#D264FA" stroke="#D264FA" stroke-width="0.7"/>
<path d="M1299.7 492.6L1311.8 483.6L1323.1 485.9L1336.1 483.1L1347.3 485.4L1343.9 493.0L1341.5 505.7L1338.9 514.0L1336.3 522.9L1334.9 532.9L1323.7 534.5L1317.9 527.2L1313.4 515.8L1311.5 510.2L1304.2 502.5Z" fill="#0AF53C" stroke="#0AF53C" stroke-width="0.7"/>
<path d="M1399.9 520.1L1398.2 508.7L1396.2 497.8L1411.4 493.9L1418.3 500.5L1426.2 509.3L1417.6 517.3L1412.1 523.3Z" fill="#64FAB4" stroke="#64FAB4" stroke-width="0.7"/>
<path d="M1397.5 530.7L1399.9 520.1L1412.1 523.3L1407.7 530.7Z" fill="#FAA05A" stroke="#FAA05A" stroke-width="0.7"/>
<path d="M1389.3 544.4L1397.5 530.7L1407.7 530.7L1405.3 541.6L1402.0 551.5Z" fill="#32F564" stroke="#32F564" stroke-width="0.7"/>
<path d="M1459.3 599.0L1434.4 599.0L1428.4 593.0L1419.4 584.8L1414.2 578.9L1408.4 567.1L1404.7 560.7L1402.0 551.5L1405.3 541.6L1407.7 530.7L1412.1 523.3L1417.6 517.3L1426.2 509.3L1437.8 507.2L1452.9 509.6L1465.5 513.5L1473.5 517.6L1474.5 526.3L1479.2 536.2L1480.6 542.3L1482.4 553.4L1483.8 562.9L1477.9 569.5L1472.2 578.4L1466.1 591.6Z" fill="#0A14E6" stroke="#0A14E6" stroke-width="0.7"/>
<path d="M1280.1 588.3L1270.9 582.5L1263.2 578.8L1255.4 573.9L1246.8 566.2L1236.1 561.9L1237.6 550.3L1238.5 545.1L1236.1 532.3L1238.6 523.7L1239.5 516.2L1238.4 504.6L1250.2 500.2L1255.3 495.3L1269.6 491.3L1277.6 487.1L1290.3 489.4L1299.7 492.6L1304.2 502.5L1311.5 510.2L1313.4 515.8L1317.9 527.2L1323.7 534.5L1321.6 544.1L1316.7 556.4L1313.4 564.5L1304.0 572.6L1296.8 576.8L1288.3 583.8Z" fill="#6E50F0" stroke="#6E50F0" stroke-width="0.7"/>
<path d="M1279.2 599.0L1216.8 599.0L1219.4 588.5L1222.5 579.9L1224.4 568.1L1236.1 561.9L1246.8 566.2L1255.4 573.9L1263.2 578.8L1270.9 582.5L1280.1 588.3Z" fill="#96A0FA" stroke="#96A0FA" stroke-width="0.7"/>
<path d="M1337.8 581.8L1328.6 574.2L1319.9 569.2L1313.4 564.5L1316.7 556.4L1321.6 544.1L1323.7 534.5L1334.9 532.9L1342.8 540.2L1355.5 547.7L1362.0 554.3L1360.5 560.8L1354.4 567.7L1342.6 575.3ZM1691.0 164.9L1691.0 226.4L1681.1 227.4L1669.4 222.8L1658.6 216.7L1663.5 207.6L1665.2 198.2L1672.1 186.4L1672.7 177.7L1678.5 166.8Z" fill="#F50A50" stroke="#F50A50" stroke-width="0.7"/>
<path d="M1378.4 599.0L1340.7 599.0L1337.8 581.8L1342.6 575.3L1354.4 567.7L1360.5 560.8L1365.2 567.6L1370.2 581.6L1374.8 588.9Z" fill="#FA6496" stroke="#FA6496" stroke-width="0.7"/>
<path d="M1380.4 599.0L1378.4 599.0L1374.8 588.9L1370.2 581.6L1365.2 567.6L1360.5 560.8L1362.0 554.3L1372.8 551.4L1382.0 548.1L1389.3 544.4L1402.0 551.5L1404.7 560.7L1403.6 572.4L1403.5 579.5L1395.1 587.9L1387.3 591.3Z" fill="#3C96FA" stroke="#3C96FA" stroke-width="0.7"/>
<path d="M1434.4 599.0L1380.4 599.0L1387.3 591.3L1395.1 587.9L1403.5 579.5L1419.4 584.8L1428.4 593.0Z" fill="#FA3CA0" stroke="#FA3CA0" stroke-width="0.7"/>
<path d="M1491.6 76.0L1513.6 76.0L1513.7 78.4L1506.5 82.7L1496.5 87.3ZM1513.6 76.0L1543.6 76.0L1543.6 79.2L1538.5 85.7L1525.0 88.1L1513.7 78.4Z" fill="#A0FAD2" stroke="#A0FAD2" stroke-width="0.7"/>
<path d="M1490.3 111.2L1493.2 97.5L1496.5 87.3L1506.5 82.7L1513.7 78.4L1525.0 88.1L1531.7 104.5L1526.2 118.4L1515.9 116.5L1508.2 115.4L1497.2 112.5Z" fill="#28F53C" stroke="#28F53C" stroke-width="0.7"/>
<path d="M1531.7 104.5L1525.0 88.1L1538.5 85.7L1538.5 101.2Z" fill="#463CF0" stroke="#463CF0" stroke-width="0.7"/>
<path d="M1543.6 76.0L1570.3 76.0L1570.3 76.4L1564.9 82.9L1556.6 82.0L1543.6 79.2Z" fill="#5A32F0" stroke="#5A32F0" stroke-width="0.7"/>
<path d="M1570.3 76.0L1605.4 76.0L1598.4 89.2L1587.4 82.5L1578.9 80.2L1570.3 76.4Z" fill="#96FAC8" stroke="#96FAC8" stroke-width="0.7"/>
<path d="M1561.0 106.2L1563.7 92.1L1564.9 82.9L1570.3 76.4L1578.9 80.2L1587.4 82.5L1598.4 89.2L1599.0 98.5L1589.0 104.2L1584.0 105.9L1574.1 110.1L1565.3 113.2Z" fill="#FA1E14" stroke="#FA1E14" stroke-width="0.7"/>
<path d="M1680.2 76.0L1691.0 76.0L1691.0 114.5L1678.7 108.6L1673.8 91.5Z" fill="#1E1EE6" stroke="#1E1EE6" stroke-width="0.7"/>
<path d="M1647.5 116.0L1642.3 109.2L1643.8 102.0L1652.5 99.0L1665.5 96.1L1673.8 91.5L1678.7 108.6L1668.2 112.6L1655.7 113.2Z" fill="#1E50F0" stroke="#1E50F0" stroke-width="0.7"/>
<path d="M1485.8 172.8L1474.9 162.4L1473.0 153.2L1475.4 145.0L1472.4 134.7L1473.6 123.7L1480.4 118.4L1490.3 111.2L1497.2 112.5L1508.2 115.4L1515.9 116.5L1526.2 118.4L1532.0 129.3L1536.3 138.6L1534.3 146.0L1491.1 174.9ZM1491.1 174.9L1534.3 146.0L1538.2 157.8L1544.6 168.4L1546.7 176.6L1538.0 181.9L1533.1 186.9L1523.8 194.1L1510.8 191.2L1500.4 187.2Z" fill="#14F58C" stroke="#14F58C" stroke-width="0.7"/>
<path d="M1536.3 138.6L1532.0 129.3L1526.2 118.4L1531.7 104.5L1538.5 101.2L1549.2 104.2L1561.0 106.2L1565.3 113.2L1565.4 121.9L1564.9 132.0L1556.7 135.2L1545.0 136.2ZM1691.0 557.0L1691.0 599.0L1633.0 599.0L1631.8 585.7L1630.0 577.4L1635.7 567.6L1646.8 565.8L1652.8 563.5L1666.3 558.5L1671.3 555.3L1682.8 553.4Z" fill="#FABE96" stroke="#FABE96" stroke-width="0.7"/>
<path d="M1565.3 113.2L1574.1 110.1L1584.0 105.9L1589.0 104.2L1599.0 98.5L1603.9 106.8L1611.8 116.1L1609.3 128.3L1602.1 134.0L1592.3 141.4L1583.4 140.0L1574.6 136.3L1566.2 133.3L1564.9 132.0L1565.4 121.9Z" fill="#2864F0" stroke="#2864F0" stroke-width="0.7"/>
<path d="M1609.3 128.3L1611.8 116.1L1620.9 113.6L1629.6 111.0L1642.3 109.2L1647.5 116.0L1644.6 127.1L1642.9 139.9L1635.0 145.0L1624.3 149.5L1615.0 137.5Z" fill="#3C6EF0" stroke="#3C6EF0" stroke-width="0.7"/>
<path d="M1691.0 114.5L1691.0 164.9L1678.5 166.8L1671.8 165.6L1665.9 160.0L1656.9 151.2L1649.3 147.2L1642.9 139.9L1644.6 127.1L1647.5 116.0L1655.7 113.2L1668.2 112.6L1678.7 108.6Z" fill="#FA3C8C" stroke="#FA3C8C" stroke-width="0.7"/>
<path d="M1546.7 176.6L1544.6 168.4L1538.2 157.8L1534.3 146.0L1536.3 138.6L1545.0 136.2L1556.7 135.2L1564.9 132.0L1566.2 133.3L1568.9 144.9L1571.9 152.3L1572.8 162.1L1574.5 170.6L1560.9 179.8Z" fill="#FA14F0" stroke="#FA14F0" stroke-width="0.7"/>
<path d="M1574.5 170.6L1572.8 162.1L1571.9 152.3L1568.9 144.9L1566.2 133.3L1574.6 136.3L1583.4 140.0L1592.3 141.4L1593.8 149.3L1586.4 161.3L1580.7 169.1Z" fill="#FA5082" stroke="#FA5082" stroke-width="0.7"/>
<path d="M1593.8 149.3L1592.3 141.4L1602.1 134.0L1609.3 128.3L1615.0 137.5L1624.3 149.5L1621.2 156.8L1609.8 153.9L1602.6 152.3Z" fill="#FA6E82" stroke="#FA6E82" stroke-width="0.7"/>
<path d="M1580.7 169.1L1586.4 161.3L1593.8 149.3L1602.6 152.3L1609.8 153.9L1621.2 156.8L1622.6 173.5L1614.4 172.4L1599.6 170.1L1593.4 171.7Z" fill="#F50A28" stroke="#F50A28" stroke-width="0.7"/>
<path d="M1633.3 183.0L1622.6 173.5L1621.2 156.8L1624.3 149.5L1635.0 145.0L1642.9 139.9L1649.3 147.2L1656.9 151.2L1665.9 160.0L1671.8 165.6L1659.7 169.2L1653.4 172.9L1642.5 180.6Z" fill="#FA5A14" stroke="#FA5A14" stroke-width="0.7"/>
<path d="M1473.6 226.6L1466.5 221.2L1456.9 210.3L1464.2 202.3L1468.9 192.7L1473.8 187.5L1479.5 178.6L1485.8 172.8L1491.1 174.9L1500.4 187.2L1497.9 197.3L1497.0 209.4L1493.0 221.9L1477.2 226.9Z" fill="#C850F5" stroke="#C850F5" stroke-width="0.7"/>
<path d="M1493.0 221.9L1497.0 209.4L1497.9 197.3L1500.4 187.2L1510.8 191.2L1523.8 194.1L1526.8 210.2L1518.0 213.9L1507.5 218.2L1496.2 223.8Z" fill="#E6FA50" stroke="#E6FA50" stroke-width="0.7"/>
<path d="M1526.8 210.2L1523.8 194.1L1533.1 186.9L1538.0 181.9L1546.7 176.6L1560.9 179.8L1559.0 191.5L1555.2 196.9L1553.6 208.1L1548.7 217.7L1535.8 213.7Z" fill="#6E5AF5" stroke="#6E5AF5" stroke-width="0.7"/>
<path d="M1567.4 258.4L1561.8 249.2L1557.4 240.3L1555.7 229.0L1548.7 217.7L1553.6 208.1L1555.2 196.9L1559.0 191.5L1560.9 179.8L1574.5 170.6L1580.7 169.1L1593.4 171.7L1599.6 170.1L1614.4 172.4L1622.6 173.5L1633.3 183.0L1636.7 193.6L1642.1 202.7L1647.7 215.7L1641.4 225.7L1638.0 230.8L1631.0 243.7L1628.6 251.5L1616.8 255.4L1608.4 258.4L1597.3 264.8L1586.0 261.7L1578.4 261.8Z" fill="#46F51E" stroke="#46F51E" stroke-width="0.7"/>
<path d="M1647.7 215.7L1642.1 202.7L1636.7 193.6L1633.3 183.0L1642.5 180.6L1653.4 172.9L1659.7 169.2L1671.8 165.6L1678.5 166.8L1672.7 177.7L1672.1 186.4L1665.2 198.2L1663.5 207.6L1658.6 216.7Z" fill="#46F528" stroke="#46F528" stroke-width="0.7"/>
<path d="M1477.9 270.4L1472.4 262.6L1467.7 255.5L1459.5 247.5L1454.4 238.7L1455.9 237.1L1464.5 231.2L1473.6 226.6L1477.2 226.9L1483.9 234.8L1490.6 244.2L1491.5 256.3L1491.6 263.8Z" fill="#BEFA14" stroke="#BEFA14" stroke-width="0.7"/>
<path d="M1490.6 244.2L1483.9 234.8L1477.2 226.9L1493.0 221.9L1496.2 223.8L1492.3 233.9Z" fill="#E6FAA0" stroke="#E6FAA0" stroke-width="0.7"/>
<path d="M1491.6 263.8L1491.5 256.3L1490.6 244.2L1492.3 233.9L1496.2 223.8L1507.5 218.2L1518.0 213.9L1526.8 210.2L1535.8 213.7L1548.7 217.7L1555.7 229.0L1557.4 240.3L1561.8 249.2L1567.4 258.4L1562.2 268.3L1551.6 269.8L1540.0 276.2L1531.2 276.6L1523.9 278.9L1511.9 284.1L1505.7 276.7L1497.6 269.6Z" fill="#6E8CFA" stroke="#6E8CFA" stroke-width="0.7"/>
<path d="M1691.0 226.4L1691.0 282.6L1681.4 280.2L1667.1 277.0L1671.6 266.4L1673.7 257.2L1677.3 247.1L1678.8 239.9L1681.1 227.4Z" fill="#FA281E" stroke="#FA281E" stroke-width="0.7"/>
<path d="M1511.5 286.7L1511.9 284.1L1523.9 278.9L1531.2 276.6L1540.0 276.2L1551.6 269.8L1562.2 268.3L1567.0 278.5L1569.5 287.5L1569.8 297.0L1568.5 306.3L1554.1 316.2L1543.2 317.6L1527.2 318.4L1522.4 310.2L1516.5 295.6Z" fill="#3CF514" stroke="#3CF514" stroke-width="0.7"/>
<path d="M1569.5 287.5L1567.0 278.5L1562.2 268.3L1567.4 258.4L1578.4 261.8L1586.0 261.7L1597.3 264.8L1598.0 274.0L1596.8 284.9L1584.8 294.0Z" fill="#3C32F0" stroke="#3C32F0" stroke-width="0.7"/>
<path d="M1610.2 302.3L1603.2 291.6L1596.8 284.9L1598.0 274.0L1597.3 264.8L1608.4 258.4L1616.8 255.4L1628.6 251.5L1636.7 258.5L1642.1 266.8L1651.6 273.7L1656.1 279.9L1649.6 287.8L1645.7 294.9L1633.7 300.9L1623.5 302.0Z" fill="#4650F0" stroke="#4650F0" stroke-width="0.7"/>
<path d="M1583.9 304.6L1584.8 294.0L1596.8 284.9L1603.2 291.6L1610.2 302.3L1605.9 310.8L1595.5 307.0Z" fill="#1E5AF0" stroke="#1E5AF0" stroke-width="0.7"/>
<path d="M1525.6 329.5L1527.2 318.4L1543.2 317.6L1554.1 316.2L1550.7 322.5L1543.6 330.9L1538.1 339.4Z" fill="#8228F0" stroke="#8228F0" stroke-width="0.7"/>
<path d="M1547.8 383.0L1543.7 371.6L1540.5 362.6L1536.4 348.9L1538.1 339.4L1543.6 330.9L1550.7 322.5L1554.1 316.2L1568.5 306.3L1583.9 304.6L1595.5 307.0L1605.9 310.8L1617.6 322.2L1620.8 328.6L1624.4 336.6L1627.8 347.3L1627.8 350.6L1625.1 359.6L1623.3 371.1L1614.0 377.6L1606.8 382.4L1602.1 389.2L1593.3 395.2L1587.2 399.7L1577.7 400.0L1567.4 395.5L1558.2 387.2Z" fill="#FAA0B4" stroke="#FAA0B4" stroke-width="0.7"/>
<path d="M1617.6 322.2L1605.9 310.8L1610.2 302.3L1623.5 302.0L1633.7 300.9L1627.3 311.1Z" fill="#C8FAB4" stroke="#C8FAB4" stroke-width="0.7"/>
<path d="M1691.0 282.6L1691.0 333.6L1683.3 336.2L1673.1 339.2L1665.9 328.4L1661.3 322.7L1655.5 313.0L1651.2 305.0L1645.7 294.9L1649.6 287.8L1656.1 279.9L1667.1 277.0L1681.4 280.2Z" fill="#F0FAAA" stroke="#F0FAAA" stroke-width="0.7"/>
<path d="M1628.9 348.5L1627.8 347.3L1624.4 336.6L1620.8 328.6L1617.6 322.2L1627.3 311.1L1633.7 300.9L1645.7 294.9L1651.2 305.0L1655.5 313.0L1661.3 322.7L1665.9 328.4L1673.1 339.2L1667.7 346.7L1656.6 348.2L1646.5 349.4L1638.1 346.7Z" fill="#2878F0" stroke="#2878F0" stroke-width="0.7"/>
<path d="M1513.2 350.4L1520.6 337.6L1525.6 329.5L1538.1 339.4L1536.4 348.9L1522.3 349.6L1513.3 350.5Z" fill="#5050F0" stroke="#5050F0" stroke-width="0.7"/>
<path d="M1627.8 350.6L1627.8 347.3L1628.9 348.5Z" fill="#288CF0" stroke="#288CF0" stroke-width="0.7"/>
<path d="M1691.0 333.6L1691.0 372.8L1689.0 373.0L1677.0 370.1L1674.1 360.2L1667.7 346.7L1673.1 339.2L1683.3 336.2Z" fill="#BEFA78" stroke="#BEFA78" stroke-width="0.7"/>
<path d="M1623.3 371.1L1625.1 359.6L1627.8 350.6L1628.9 348.5L1638.1 346.7L1646.5 349.4L1656.6 348.2L1667.7 346.7L1674.1 360.2L1677.0 370.1L1670.4 377.9L1659.8 388.6L1651.7 385.6L1640.2 378.0L1632.7 375.9Z" fill="#46F550" stroke="#46F550" stroke-width="0.7"/>
<path d="M1659.8 388.6L1670.4 377.9L1677.0 370.1L1689.0 373.0L1687.8 383.4L1685.1 396.5L1683.9 404.9L1683.0 414.9L1669.8 413.6L1664.0 401.4Z" fill="#BEFADC" stroke="#BEFADC" stroke-width="0.7"/>
<path d="M1691.0 372.8L1691.0 417.7L1683.0 414.9L1683.9 404.9L1685.1 396.5L1687.8 383.4L1689.0 373.0Z" fill="#961EF0" stroke="#961EF0" stroke-width="0.7"/>
<path d="M1624.8 450.1L1616.9 445.1L1608.9 439.7L1602.3 435.8L1592.8 432.7L1591.9 423.6L1588.5 410.8L1587.2 399.7L1593.3 395.2L1602.1 389.2L1606.8 382.4L1614.0 377.6L1623.3 371.1L1632.7 375.9L1640.2 378.0L1651.7 385.6L1659.8 388.6L1664.0 401.4L1669.8 413.6L1664.1 421.4L1657.1 427.5L1651.7 433.8L1645.7 441.9L1637.5 449.2Z" fill="#F53273" stroke="#F53273" stroke-width="0.7"/>
<path d="M1529.0 391.5L1538.3 387.0L1547.8 383.0L1558.2 387.2L1567.4 395.5L1577.7 400.0L1574.1 414.3L1571.2 423.3L1557.7 428.1L1548.5 433.1L1545.9 425.5L1541.9 415.7L1536.6 407.1L1532.8 402.0ZM1557.3 599.0L1505.8 599.0L1504.6 588.2L1503.3 576.4L1504.3 568.0L1510.5 564.0L1519.7 555.3L1527.3 551.0L1536.9 556.1L1543.5 559.9L1548.5 567.0L1549.8 575.4L1555.4 585.3L1558.3 592.9Z" fill="#32F53C" stroke="#32F53C" stroke-width="0.7"/>
<path d="M1571.2 423.3L1574.1 414.3L1577.7 400.0L1587.2 399.7L1588.5 410.8L1591.9 423.6L1592.8 432.7L1591.3 433.6L1579.0 432.1Z" fill="#28C8FA" stroke="#28C8FA" stroke-width="0.7"/>
<path d="M1547.1 448.6L1548.5 433.1L1557.7 428.1L1571.2 423.3L1579.0 432.1L1571.8 438.5L1563.9 445.9L1556.1 451.7Z" fill="#FA78F0" stroke="#FA78F0" stroke-width="0.7"/>
<path d="M1460.1 430.5L1454.9 414.3L1457.4 414.0Z" fill="#FA46C8" stroke="#FA46C8" stroke-width="0.7"/>
<path d="M1556.1 451.7L1563.9 445.9L1571.8 438.5L1579.0 432.1L1591.3 433.6L1591.3 441.5L1593.9 454.9L1596.4 462.2L1585.6 469.4L1579.7 474.8L1571.6 465.2L1564.6 461.6Z" fill="#3CF550" stroke="#3CF550" stroke-width="0.7"/>
<path d="M1581.1 478.4L1579.7 474.8L1585.6 469.4L1596.4 462.2L1604.2 466.3L1604.6 467.5L1596.0 474.8L1584.2 481.7Z" fill="#1E78F0" stroke="#1E78F0" stroke-width="0.7"/>
<path d="M1604.6 467.5L1604.2 466.3L1615.1 457.8L1624.2 451.3L1626.4 468.5L1618.2 467.6Z" fill="#5014F0" stroke="#5014F0" stroke-width="0.7"/>
<path d="M1626.4 468.5L1624.2 451.3L1624.8 450.1L1637.5 449.2L1640.6 457.1L1645.0 469.4L1649.2 475.4L1647.2 477.0L1638.1 473.0Z" fill="#FAFA0A" stroke="#FAFA0A" stroke-width="0.7"/>
<path d="M1691.0 417.7L1691.0 467.4L1680.5 468.4L1672.0 469.9L1660.8 473.2L1653.4 475.9L1649.2 475.4L1645.0 469.4L1640.6 457.1L1637.5 449.2L1645.7 441.9L1651.7 433.8L1657.1 427.5L1664.1 421.4L1669.8 413.6L1683.0 414.9Z" fill="#FA8282" stroke="#FA8282" stroke-width="0.7"/>
<path d="M1504.6 509.6L1505.0 496.7L1505.0 485.0L1504.6 474.8L1513.0 468.6L1521.1 465.6L1528.2 458.2L1536.9 455.6L1547.1 448.6L1556.1 451.7L1564.6 461.6L1571.6 465.2L1579.7 474.8L1581.1 478.4L1581.1 493.6L1580.5 502.1L1578.1 514.4L1576.5 523.1L1569.2 526.4L1557.1 529.0L1547.2 529.7L1537.1 529.8L1527.3 531.4L1520.5 523.4L1510.9 516.6Z" fill="#8CF5FA" stroke="#8CF5FA" stroke-width="0.7"/>
<path d="M1473.5 517.6L1465.5 513.5L1452.9 509.6L1453.8 498.8L1452.0 490.1L1452.9 481.8L1454.3 477.8L1459.4 476.2L1469.5 476.8L1478.5 478.7L1479.7 487.5L1481.5 499.6L1482.6 510.9Z" fill="#C864F5" stroke="#C864F5" stroke-width="0.7"/>
<path d="M1482.6 510.9L1481.5 499.6L1479.7 487.5L1478.5 478.7L1486.6 472.5L1496.2 474.2L1504.6 474.8L1504.1 487.7L1504.1 499.4L1504.6 509.6L1493.1 509.9Z" fill="#5A8CF5" stroke="#5A8CF5" stroke-width="0.7"/>
<path d="M1581.1 493.6L1581.1 478.4L1584.2 481.7Z" fill="#FA6E5A" stroke="#FA6E5A" stroke-width="0.7"/>
<path d="M1576.5 523.1L1578.1 514.4L1580.5 502.1L1581.1 493.6L1584.2 481.7L1596.0 474.8L1604.6 467.5L1618.2 467.6L1626.4 468.5L1638.1 473.0L1647.2 477.0L1646.2 484.3L1647.3 497.3L1648.5 505.4L1651.1 514.3L1650.8 522.7L1641.7 532.0L1634.3 537.6L1626.3 536.1L1615.6 537.2L1607.5 536.6L1595.8 538.3L1587.3 531.9Z" fill="#14F51E" stroke="#14F51E" stroke-width="0.7"/>
<path d="M1650.8 522.7L1651.1 514.3L1648.5 505.4L1647.3 497.3L1646.2 484.3L1647.2 477.0L1649.2 475.4L1653.4 475.9L1658.9 481.2L1665.7 490.0L1670.2 500.1L1674.4 505.4L1681.7 512.2L1674.4 518.1L1666.2 524.5Z" fill="#468CF0" stroke="#468CF0" stroke-width="0.7"/>
<path d="M1691.0 467.4L1691.0 510.5L1681.7 512.2L1674.4 505.4L1670.2 500.1L1665.7 490.0L1658.9 481.2L1653.4 475.9L1660.8 473.2L1672.0 469.9L1680.5 468.4Z" fill="#46E6FA" stroke="#46E6FA" stroke-width="0.7"/>
<path d="M1691.0 510.5L1691.0 557.0L1682.8 553.4L1678.0 543.3L1671.6 536.9L1666.2 524.5L1674.4 518.1L1681.7 512.2Z" fill="#285AF0" stroke="#285AF0" stroke-width="0.7"/>
<path d="M1483.8 562.9L1482.4 553.4L1480.6 542.3L1479.2 536.2L1474.5 526.3L1473.5 517.6L1482.6 510.9L1493.1 509.9L1504.6 509.6L1510.9 516.6L1520.5 523.4L1527.3 531.4L1527.7 540.0L1527.3 551.0L1519.7 555.3L1510.5 564.0L1504.3 568.0L1493.4 565.9Z" fill="#32F528" stroke="#32F528" stroke-width="0.7"/>
<path d="M1527.3 551.0L1527.7 540.0L1527.3 531.4L1537.1 529.8L1547.2 529.7L1557.1 529.0L1569.2 526.4L1561.7 535.2L1555.0 545.2L1549.7 553.9L1543.5 559.9L1536.9 556.1Z" fill="#50FAE6" stroke="#50FAE6" stroke-width="0.7"/>
<path d="M1558.3 592.9L1555.4 585.3L1549.8 575.4L1548.5 567.0L1543.5 559.9L1549.7 553.9L1555.0 545.2L1561.7 535.2L1569.2 526.4L1576.5 523.1L1587.3 531.9L1595.8 538.3L1597.3 552.9L1599.3 561.6L1591.4 565.7L1580.3 573.9L1575.2 578.7L1568.2 585.5Z" fill="#FA3228" stroke="#FA3228" stroke-width="0.7"/>
<path d="M1599.3 561.6L1597.3 552.9L1595.8 538.3L1607.5 536.6L1615.6 537.2L1626.3 536.1L1634.3 537.6L1633.9 548.7L1634.3 557.3L1635.7 567.6L1630.0 577.4L1617.7 572.7L1611.0 568.4Z" fill="#50F532" stroke="#50F532" stroke-width="0.7"/>
<path d="M1635.7 567.6L1634.3 557.3L1633.9 548.7L1634.3 537.6L1641.7 532.0L1650.8 522.7L1666.2 524.5L1671.6 536.9L1678.0 543.3L1682.8 553.4L1671.3 555.3L1666.3 558.5L1652.8 563.5L1646.8 565.8Z" fill="#A0FA8C" stroke="#A0FA8C" stroke-width="0.7"/>
<path d="M1505.8 599.0L1459.3 599.0L1466.1 591.6L1472.2 578.4L1477.9 569.5L1483.8 562.9L1493.4 565.9L1504.3 568.0L1503.3 576.4L1504.6 588.2Z" fill="#FAB4B4" stroke="#FAB4B4" stroke-width="0.7"/>
<path d="M1633.0 599.0L1557.3 599.0L1558.3 592.9L1568.2 585.5L1575.2 578.7L1580.3 573.9L1591.4 565.7L1599.3 561.6L1611.0 568.4L1617.7 572.7L1630.0 577.4L1631.8 585.7Z" fill="#FAC378" stroke="#FAC378" stroke-width="0.7"/>
<path d="M1022.9 76.0L1030.8 91.8M1030.8 91.8L1021.2 97.4L1007.8 103.0L999.8 107.3M999.8 107.3L991.0 103.4M1050.4 76.0L1047.4 88.6M1047.4 88.6L1039.4 95.1M1039.4 95.1L1030.8 91.8M1103.7 76.0L1104.2 84.6M1104.2 84.6L1097.1 97.5M1097.1 97.5L1085.6 107.0M1085.6 107.0L1076.8 101.3L1066.0 95.9L1056.0 92.7L1047.4 88.6M1156.6 76.0L1153.4 84.3L1149.8 94.5L1145.4 102.5M1145.4 102.5L1137.7 105.2M1137.7 105.2L1129.0 102.0L1120.1 93.7L1111.0 90.8L1104.2 84.6M1204.3 76.0L1200.3 84.4M1200.3 84.4L1188.9 79.4L1176.8 76.0M1217.0 76.0L1208.9 81.9L1201.0 86.0M1201.0 86.0L1200.3 84.4M1201.0 86.0L1198.8 96.3L1194.6 104.5L1189.4 116.9L1187.7 124.1L1185.3 135.2M1185.3 135.2L1181.7 136.7M1181.7 136.7L1173.8 129.3L1166.0 121.2L1159.5 115.9L1154.6 109.4L1145.4 102.5M1137.7 105.2L1132.5 112.5L1125.3 122.3L1119.2 127.4M1119.2 127.4L1105.6 120.5L1097.1 115.3M1097.1 115.3L1097.1 97.5M1124.2 156.0L1120.9 145.1L1121.3 136.3L1119.2 127.4M1181.7 136.7L1177.6 142.9M1177.6 142.9L1167.2 146.9L1160.4 148.8L1153.1 150.2L1140.6 150.9L1131.4 152.9L1124.2 156.0M1221.9 76.0L1239.2 76.5M1239.2 76.5L1248.7 78.9L1257.9 81.1M1257.9 81.1L1266.0 92.5M1266.0 92.5L1267.7 104.8L1272.3 114.6L1273.9 127.2M1273.9 127.2L1268.4 136.0L1264.1 143.2L1259.7 155.1M1259.7 155.1L1249.1 158.5L1240.8 162.0M1240.8 162.0L1231.3 155.8L1221.0 151.7L1212.8 149.0L1202.6 144.9L1193.0 137.1L1185.3 135.2M1039.4 95.1L1038.3 103.4L1040.0 112.1L1039.4 123.8M1039.4 123.8L1026.6 131.5L1016.8 136.8M1016.8 136.8L1005.9 131.8M1005.9 131.8L1003.4 117.1L999.8 107.3M1085.6 107.0L1087.1 115.5M1087.1 115.5L1080.3 122.4L1072.1 128.6L1064.1 138.6M1064.1 138.6L1056.7 135.1L1047.4 128.0L1039.4 123.8M1097.1 115.3L1087.1 115.5M1005.9 131.8L991.0 135.1M1016.8 136.8L1018.7 146.1L1018.8 158.2M1018.8 158.2L1011.8 163.4L1001.0 168.5L991.0 177.0M1064.1 138.6L1065.0 152.7L1066.5 161.9M1066.5 161.9L1058.8 167.7L1048.4 173.8M1048.4 173.8L1040.9 169.6L1030.6 165.5L1018.8 158.2M1124.2 156.0L1117.5 167.3M1070.8 166.1L1066.5 161.9M1069.3 180.3L1070.8 166.1M1117.5 167.3L1119.0 175.0L1117.2 188.1L1117.6 198.3M1117.6 198.3L1112.0 204.0M1112.0 204.0L1103.8 206.7L1092.3 208.1M1092.3 208.1L1087.0 201.1L1081.1 194.4L1075.5 187.8L1069.3 180.3M1194.1 210.5L1189.9 217.0M1189.9 217.0L1180.6 219.3L1169.8 218.5L1160.2 219.0L1153.3 220.1L1141.2 221.0M1141.2 221.0L1131.6 213.5L1124.8 206.5L1117.6 198.3M1240.8 162.0L1239.8 170.7L1239.4 180.2L1239.7 189.2M1239.7 189.2L1236.8 193.0M1236.8 193.0L1227.8 197.8L1221.4 200.0L1212.5 203.1L1200.7 206.7L1194.1 210.5M1048.4 173.8L1050.0 185.1M1050.0 185.1L1043.7 199.0M1043.7 199.0L1035.6 200.6L1027.5 204.2L1015.9 206.4L1007.1 208.8M1007.1 208.8L997.8 199.8L991.0 195.0M1069.3 180.3L1060.2 182.2L1050.0 185.1M1043.7 199.0L1045.1 212.0L1045.8 221.2M1045.8 221.2L1034.8 223.5L1024.0 227.1L1015.1 229.2M1015.1 229.2L1010.5 224.1M1010.5 224.1L1007.1 208.8M1092.3 208.1L1082.4 222.3M1050.4 224.2L1045.8 221.2M1058.4 245.4L1056.1 236.7L1050.4 224.2M1082.4 222.3L1083.3 232.6L1085.4 241.1M1085.4 241.1L1076.5 242.0L1065.7 245.0L1058.4 245.4M1010.5 224.1L1000.7 225.0L991.0 227.8M1015.1 229.2L1010.4 244.9M1010.4 244.9L1003.0 244.1L991.0 244.9M1010.4 244.9L1012.3 255.1M1012.3 255.1L1004.4 262.9L996.8 269.8M996.8 269.8L991.0 269.2M1058.4 245.4L1051.1 249.4L1041.4 253.9L1033.9 259.7L1024.0 266.8M1024.0 266.8L1012.3 255.1M1112.0 204.0L1116.8 209.8L1121.8 221.6L1126.2 227.2L1131.2 235.2M1131.2 235.2L1128.1 252.6M1128.1 252.6L1119.6 251.7L1105.6 246.8L1096.1 245.3L1085.4 241.1M1141.2 221.0L1131.2 235.2M1189.9 217.0L1192.0 230.8L1195.6 241.8M1195.6 241.8L1187.6 245.9L1180.9 253.2L1172.0 262.0L1163.6 268.4L1153.8 274.3M1153.8 274.3L1146.0 273.0M1146.0 273.0L1138.3 265.5L1134.0 260.8L1128.1 252.6M1248.5 256.9L1238.7 254.1L1228.7 251.3L1222.4 249.4L1213.3 246.2L1206.2 243.6L1195.6 241.8M1236.8 193.0L1238.2 193.0M1238.2 193.0L1243.1 202.1L1249.6 208.8L1254.5 221.3L1261.0 228.7L1266.4 236.7M1266.4 236.7L1262.3 242.4L1253.8 252.5L1248.5 256.9M1224.2 352.8L1215.1 351.4L1207.8 350.0L1197.7 350.4L1187.1 348.7L1178.5 346.4L1168.5 345.1M1168.5 345.1L1162.1 335.9L1156.5 324.3M1156.5 324.3L1154.0 313.9L1154.1 305.2L1151.7 296.4L1151.1 286.5M1151.1 286.5L1153.8 274.3M1248.5 256.9L1251.9 264.3L1255.7 272.4L1258.4 283.1L1263.1 291.6L1267.0 300.1M1267.0 300.1L1262.5 315.5M1262.5 315.5L1255.2 323.3L1247.2 331.1L1238.9 336.3L1234.7 344.7L1224.2 352.8M1151.1 286.5L1146.0 273.0M1007.1 338.3L1006.7 324.9L1006.4 312.7L1005.2 303.0M1005.2 303.0L1010.6 287.0M1010.6 287.0L1015.3 278.2L1024.0 266.8M1156.5 324.3L1153.8 333.5L1152.9 346.3L1152.0 355.8M1152.0 355.8L1143.0 370.8M1143.0 370.8L1135.5 375.6L1125.2 377.1L1117.6 383.8L1108.2 384.6L1099.8 389.6M1099.8 389.6L1092.3 391.3L1082.7 390.9L1072.0 388.6L1061.6 390.5M1061.6 390.5L1052.3 385.8L1041.1 382.1L1030.6 375.9M1030.6 375.9L1025.0 367.3L1017.5 355.2L1013.8 347.1L1007.1 338.3M1010.6 287.0L1003.2 278.6L996.8 269.8M1005.2 303.0L991.0 305.4M1007.1 338.3L991.0 340.1M1168.5 345.1L1158.7 350.6L1152.0 355.8M1030.6 375.9L1021.7 385.3M1021.7 385.3L1011.4 385.2L1000.2 388.8L991.0 388.6M1021.7 385.3L1030.5 393.1L1034.7 402.9L1041.9 409.9L1047.1 415.4M1047.1 415.4L1043.7 426.0L1038.5 433.7L1038.9 439.9L1033.3 449.6M1033.3 449.6L1025.1 448.9L1013.8 451.0L1001.8 450.6L991.0 452.3M1061.6 390.5L1059.8 399.2L1057.3 411.2M1057.3 411.2L1047.1 415.4M1102.4 422.3L1086.4 429.0M1086.4 429.0L1075.5 421.0L1068.9 417.7L1057.3 411.2M1143.0 370.8L1145.9 381.9L1147.4 390.0M1147.4 390.0L1143.0 400.5L1139.1 409.9L1135.5 419.3L1131.6 426.3M1131.6 426.3L1120.3 425.6L1104.9 424.7M1104.9 424.7L1102.4 422.3M1217.5 424.8L1209.9 424.2L1197.9 423.2L1188.6 421.8L1179.0 423.8L1169.9 422.7M1169.9 422.7L1163.5 417.0M1163.5 417.0L1158.4 405.9L1151.9 399.2L1147.4 390.0M1224.2 352.8L1230.7 359.4L1237.9 367.6M1237.9 367.6L1239.1 378.6L1240.0 388.6L1240.1 395.9M1240.1 395.9L1234.4 401.9L1229.2 411.9L1221.5 418.9L1217.5 424.8M1163.5 417.0L1153.6 422.4L1149.0 427.3L1137.8 432.1M1137.8 432.1L1131.6 426.3M1169.9 422.7L1168.7 435.7L1166.8 444.0M1166.8 444.0L1152.6 441.8L1141.5 441.0M1141.5 441.0L1137.8 432.1M1205.1 459.4L1192.5 456.9L1186.4 455.8L1173.6 455.4M1173.6 455.4L1166.8 444.0M1217.5 424.8L1221.0 431.1M1221.0 431.1L1215.8 440.8L1211.5 450.0L1205.1 459.4M1086.4 429.0L1091.2 442.0M1091.2 442.0L1091.0 449.9L1089.1 462.6M1089.1 462.6L1080.5 464.9L1067.3 465.1L1060.0 466.8L1050.0 468.2M1050.0 468.2L1040.8 457.0L1033.3 449.6M1104.9 424.7L1098.7 431.7L1091.2 442.0M1141.5 441.0L1136.5 452.0L1132.4 464.6M1132.4 464.6L1126.4 468.6M1126.4 468.6L1114.9 469.3L1108.4 467.9L1096.1 469.8M1096.1 469.8L1089.1 462.6M1142.6 478.7L1132.4 464.6M1173.6 455.4L1167.2 463.4L1163.1 471.3L1155.8 479.7M1155.8 479.7L1142.6 478.7M1050.0 468.2L1046.7 478.3L1047.2 487.4L1045.3 497.1L1042.3 504.4L1040.0 515.0M1040.0 515.0L1032.9 519.0L1018.1 521.9L1011.3 522.5L999.2 528.1L991.0 530.6M1096.1 469.8L1097.8 478.9L1094.4 486.3L1097.2 498.5L1097.8 504.4L1096.1 515.4M1096.1 515.4L1086.2 518.0L1077.6 521.9L1068.5 527.3M1068.5 527.3L1057.8 523.5L1052.2 518.7L1040.0 515.0M1126.4 468.6L1133.1 475.2L1140.7 481.2M1140.7 481.2L1142.2 488.7M1142.2 488.7L1138.6 497.2L1137.0 505.3L1133.8 517.9L1129.3 526.3M1129.3 526.3L1119.9 523.9L1107.6 520.8L1096.1 515.4M1142.6 478.7L1140.7 481.2M1155.8 479.7L1155.5 488.7M1155.5 488.7L1142.2 488.7M1155.5 488.7L1160.8 496.6L1165.5 508.2L1167.0 514.7L1171.5 524.2M1171.5 524.2L1170.8 525.1M1170.8 525.1L1159.1 524.1L1148.9 526.5L1142.0 525.3L1129.5 526.5M1129.5 526.5L1129.3 526.3M1205.1 459.4L1209.6 469.6L1210.7 477.2L1216.6 491.2L1221.2 498.6M1221.2 498.6L1214.4 504.6L1207.3 510.0M1207.3 510.0L1197.6 518.2L1190.7 522.1M1190.7 522.1L1180.0 523.4L1171.5 524.2M1221.2 498.6L1224.9 500.5M1224.9 500.5L1216.7 503.8L1207.3 510.0M1224.4 568.1L1215.3 562.4L1202.5 556.6L1193.9 552.5M1193.9 552.5L1191.3 541.4L1191.3 534.3L1190.7 522.1M1224.9 500.5L1238.4 504.6M1238.4 504.6L1239.5 516.2L1238.6 523.7L1236.1 532.3L1238.5 545.1L1237.6 550.3L1236.1 561.9M1236.1 561.9L1224.4 568.1M1172.4 599.0L1176.6 590.2L1175.9 580.4L1181.8 572.2L1182.5 562.0L1185.2 555.1M1185.2 555.1L1193.9 552.5M1224.4 568.1L1222.5 579.9L1219.4 588.5L1216.8 599.0M1185.2 555.1L1180.1 548.1L1177.1 536.0L1170.8 525.1M1068.5 599.0L1066.8 591.0L1067.0 580.0L1069.9 570.3L1067.4 557.8L1069.3 547.8L1069.1 539.7L1068.5 527.3M1129.5 526.5L1128.7 534.8L1127.9 544.8L1128.9 554.2L1130.9 562.7L1130.6 570.4L1127.8 580.0L1130.1 590.0L1129.5 599.0M1257.7 76.0L1257.9 81.1M1239.2 76.5L1239.7 76.0M1293.4 76.0L1292.5 93.5M1292.5 93.5L1276.5 92.6L1266.0 92.5M1339.0 76.0L1342.3 90.7M1342.3 90.7L1333.3 95.9L1325.1 100.5L1317.6 103.1L1310.4 108.6M1310.4 108.6L1295.7 99.0M1295.7 99.0L1292.5 93.5M1364.2 76.0L1355.1 90.7M1355.1 90.7L1342.4 90.7M1342.4 90.7L1342.3 90.7M1410.0 76.0L1414.6 89.7M1414.6 89.7L1411.0 98.3L1405.6 106.6L1399.5 117.7L1395.7 127.5M1395.7 127.5L1386.0 128.0L1373.4 127.5M1373.4 127.5L1367.2 121.0L1357.7 113.2M1357.7 113.2L1355.5 99.7L1355.1 90.7M1436.6 76.0L1433.6 90.2M1433.6 90.2L1424.0 90.1L1414.6 89.7M1491.6 76.0L1496.5 87.3M1496.5 87.3L1493.2 97.5L1490.3 111.2M1490.3 111.2L1480.4 118.4L1473.6 123.7M1473.6 123.7L1461.2 121.7L1453.4 119.7M1453.4 119.7L1446.0 109.4L1439.3 98.1L1433.6 90.2M1295.7 99.0L1296.2 112.9M1296.2 112.9L1289.9 119.6L1278.9 128.6M1278.9 128.6L1273.9 127.2M1310.4 108.6L1309.8 117.2M1309.8 117.2L1296.2 112.9M1342.4 90.7L1344.9 100.9L1349.7 111.7M1349.7 111.7L1340.3 115.0L1333.4 119.4L1326.3 124.3L1316.7 129.6M1316.7 129.6L1309.8 117.2M1357.7 113.2L1349.7 111.7M1282.9 137.3L1278.9 128.6M1316.7 129.6L1316.4 130.7M1316.4 130.7L1304.1 133.2L1293.2 135.6L1282.9 137.3M1282.9 137.3L1276.9 146.4L1271.1 151.6L1266.1 159.0M1266.1 159.0L1259.7 155.1M1341.5 171.9L1336.1 163.8L1331.7 158.0L1327.2 145.4L1320.3 139.6L1316.4 130.7M1373.4 127.5L1369.5 140.3L1368.9 150.9L1367.2 159.8M1367.2 159.8L1360.7 163.7L1349.7 168.0L1342.6 172.1M1342.6 172.1L1341.5 171.9M1267.6 170.1L1266.1 159.0M1341.5 171.9L1336.4 177.2L1328.5 188.7L1324.3 193.0L1315.8 201.0M1315.8 201.0L1306.7 203.9M1306.7 203.9L1293.6 201.4M1293.6 201.4L1285.3 192.2L1280.9 186.8L1273.5 177.0L1267.6 170.1M1395.7 127.5L1401.8 135.8M1401.8 135.8L1399.6 150.6L1398.6 162.2M1398.6 162.2L1385.1 173.5M1385.1 173.5L1375.7 167.5L1367.2 159.8M1453.4 119.7L1445.6 130.1L1440.7 136.9L1432.5 145.2M1432.5 145.2L1420.3 141.2L1413.0 139.7L1401.8 135.8M1432.5 145.2L1436.2 160.2M1436.2 160.2L1426.1 159.0L1416.5 162.1L1409.9 162.2L1398.6 162.2M1442.4 165.4L1436.2 160.2M1473.6 123.7L1472.4 134.7L1475.4 145.0L1473.0 153.2L1474.9 162.4M1474.9 162.4L1466.3 161.8L1454.1 166.0L1442.4 165.4M1240.8 190.5L1239.7 189.2M1267.6 170.1L1260.6 178.8L1255.6 181.6L1249.3 190.1M1249.3 190.1L1240.8 190.5M1240.8 190.5L1238.2 193.0M1293.6 201.4L1285.8 207.2L1275.3 216.0M1275.3 216.0L1267.3 209.6L1265.0 203.5L1254.9 194.3L1249.3 190.1M1385.1 173.5L1382.8 184.3M1382.8 184.3L1371.0 184.0L1360.7 186.5L1352.3 187.1M1352.3 187.1L1342.6 172.1M1352.3 187.1L1348.3 196.3L1346.1 207.3L1342.2 215.8M1342.2 215.8L1340.8 216.3M1340.8 216.3L1333.6 210.7L1323.3 204.7L1315.8 201.0M1309.6 231.7L1308.5 222.6L1306.9 212.7L1306.7 203.9M1340.8 216.3L1334.6 229.5M1334.6 229.5L1324.8 231.3L1309.6 231.7M1382.8 184.3L1386.7 198.0L1391.2 207.2M1391.2 207.2L1382.2 213.4L1375.8 217.4L1369.5 222.9L1360.2 227.0M1360.2 227.0L1352.1 222.9L1342.2 215.8M1442.4 165.4L1444.5 176.0L1442.4 187.7L1445.4 198.0L1444.3 208.2M1444.3 208.2L1436.9 213.9L1428.8 219.5M1428.8 219.5L1420.5 216.9L1410.4 214.7L1401.0 210.8L1391.2 207.2M1456.9 210.3L1449.0 209.8M1449.0 209.8L1444.3 208.2M1474.9 162.4L1485.8 172.8M1485.8 172.8L1479.5 178.6L1473.8 187.5L1468.9 192.7L1464.2 202.3L1456.9 210.3M1275.3 216.0L1274.5 223.3L1271.6 234.6M1271.6 234.6L1266.4 236.7M1309.6 231.7L1301.2 238.6L1294.4 243.4M1294.4 243.4L1284.8 239.7L1271.6 234.6M1360.2 227.0L1357.1 234.6L1352.4 245.6M1352.4 245.6L1344.5 239.1L1334.6 229.5M1355.3 268.2L1354.2 255.2L1352.4 245.6M1428.8 219.5L1434.9 230.1L1439.2 238.6M1439.2 238.6L1434.1 250.6L1430.5 260.6L1428.3 266.4L1423.9 277.1L1418.6 288.2M1418.6 288.2L1406.4 295.0M1406.4 295.0L1391.4 298.1M1391.4 298.1L1385.3 293.7L1377.8 285.8L1372.2 280.4L1363.2 274.1L1355.3 268.2M1449.0 209.8L1452.6 220.9L1452.5 228.2L1455.9 237.1M1455.9 237.1L1454.4 238.7M1454.4 238.7L1439.2 238.6M1456.9 210.3L1466.5 221.2L1473.6 226.6M1473.6 226.6L1464.5 231.2L1455.9 237.1M1294.4 243.4L1294.7 253.0L1297.4 266.1L1298.9 275.9L1301.6 285.7M1301.6 285.7L1290.7 292.8L1280.0 301.1M1280.0 301.1L1267.0 300.1M1355.3 268.2L1346.5 278.3L1337.6 285.8L1331.3 294.9M1331.3 294.9L1319.0 292.2L1313.1 288.5L1301.6 285.7M1446.0 307.5L1436.6 299.4L1428.9 297.5L1418.6 288.2M1454.4 238.7L1459.5 247.5L1467.7 255.5L1472.4 262.6L1477.9 270.4M1477.9 270.4L1473.2 286.5M1473.2 286.5L1465.4 295.6L1460.5 300.5L1452.3 306.9M1452.3 306.9L1446.0 307.5M1339.1 315.3L1333.9 304.5L1331.3 294.9M1391.4 298.1L1383.0 311.8M1383.0 311.8L1372.0 314.2L1360.0 313.8L1347.6 314.8L1339.1 315.3M1281.5 330.7L1280.7 321.5L1279.2 309.5L1280.0 301.1M1339.1 315.3L1330.8 326.5M1330.8 326.5L1319.8 326.0L1312.1 326.7L1300.4 329.1L1292.1 329.6L1281.5 330.7M1281.5 330.7L1278.2 333.1M1278.2 333.1L1271.1 325.3L1262.5 315.5M1278.2 333.1L1274.1 343.7L1268.2 354.4L1262.6 362.8M1262.6 362.8L1251.3 364.2L1237.9 367.6M1406.4 295.0L1413.9 299.5L1423.7 302.8L1430.3 308.8L1439.7 313.8M1439.7 313.8L1438.1 322.1L1437.5 333.5L1437.5 343.9M1437.5 343.9L1429.3 352.8M1429.3 352.8L1421.9 357.8M1421.9 357.8L1416.8 357.9M1416.8 357.9L1412.7 350.8L1404.7 341.6L1400.2 335.2L1392.9 325.3L1387.7 318.5L1383.0 311.8M1446.0 307.5L1439.7 313.8M1461.0 342.6L1449.3 344.3L1437.5 343.9M1452.3 306.9L1453.7 318.3L1458.4 325.1L1459.9 335.3L1461.0 342.6M1246.7 400.3L1240.1 395.9M1262.6 362.8L1263.7 376.1L1266.7 382.1L1267.3 394.5M1267.3 394.5L1256.3 396.7L1246.7 400.3M1246.7 400.3L1244.7 411.1L1244.4 426.5M1244.4 426.5L1232.0 429.6L1221.0 431.1M1267.3 394.5L1276.3 401.4L1281.3 406.6L1287.2 415.5L1293.9 422.2M1293.9 422.2L1294.6 430.6M1294.6 430.6L1285.8 436.2L1276.7 441.7M1276.7 441.7L1266.9 436.5L1256.5 432.8L1244.4 426.5M1416.8 357.9L1412.5 364.7L1405.2 376.9L1402.8 385.5L1396.4 394.1L1393.3 401.7M1393.3 401.7L1380.2 404.0L1368.4 406.9L1358.3 408.2M1358.3 408.2L1358.1 410.8M1358.1 410.8L1352.5 419.3L1345.5 423.3L1335.2 432.8L1330.9 439.9M1330.9 439.9L1318.6 441.5M1318.6 441.5L1312.8 442.0M1312.8 442.0L1303.9 436.9L1294.6 430.6M1421.9 357.8L1426.6 364.9L1433.0 376.6M1433.0 376.6L1428.2 387.4L1424.6 395.5L1421.7 402.1L1417.4 413.2M1417.4 413.2L1406.5 410.2L1398.1 407.1M1398.1 407.1L1393.3 401.7M1453.9 383.2L1438.6 376.8M1438.6 376.8L1434.2 367.9L1429.3 352.8M1461.0 342.6L1464.5 345.6M1464.5 345.6L1461.8 356.6L1458.0 365.6L1456.6 375.7L1453.9 383.2M1438.6 376.8L1433.0 376.6M1453.9 383.2L1454.7 384.8M1454.7 384.8L1453.4 396.4L1453.3 403.5L1454.7 414.2M1454.7 414.2L1445.1 416.1L1434.8 416.2L1421.8 416.8M1421.8 416.8L1417.4 413.2M1454.9 414.3L1454.7 414.2M1454.7 384.8L1459.5 392.2L1466.9 401.0M1466.9 401.0L1457.4 414.0M1457.4 414.0L1454.9 414.3M1276.7 441.7L1277.3 449.4L1277.5 458.3L1276.2 466.9L1276.0 479.4L1277.6 487.1M1277.6 487.1L1269.6 491.3L1255.3 495.3L1250.2 500.2L1238.4 504.6M1312.8 442.0L1315.6 449.2L1317.5 459.8M1317.5 459.8L1314.0 473.8L1311.8 483.6M1311.8 483.6L1299.7 492.6M1299.7 492.6L1290.3 489.4L1277.6 487.1M1318.6 441.5L1331.5 443.0M1331.5 443.0L1336.2 451.8L1339.9 459.8M1339.9 459.8L1325.9 460.6L1317.5 459.8M1339.9 459.8L1348.3 467.1M1348.3 467.1L1352.4 481.3M1352.4 481.3L1347.3 485.4M1347.3 485.4L1336.1 483.1L1323.1 485.9L1311.8 483.6M1330.9 439.9L1331.5 443.0M1358.1 410.8L1367.2 418.4M1367.2 418.4L1364.7 427.6L1358.8 435.9L1355.8 445.8L1351.1 455.6L1348.3 467.1M1398.1 407.1L1389.3 409.4L1380.1 414.5L1367.2 418.4M1421.8 416.8L1424.4 428.5L1425.0 433.8L1427.0 448.0L1430.5 455.3L1432.1 465.0M1432.1 465.0L1425.2 473.1L1417.4 483.2L1411.4 493.9M1411.4 493.9L1396.2 497.8M1396.2 497.8L1388.1 494.4L1376.6 492.2L1367.4 488.1L1360.4 483.3L1352.4 481.3M1454.9 414.3L1460.1 430.5M1460.1 430.5L1462.5 442.0L1464.2 449.4M1464.2 449.4L1455.8 462.1M1455.8 462.1L1446.2 468.1M1446.2 468.1L1432.1 465.0M1454.3 477.8L1446.2 468.1M1459.4 476.2L1454.3 477.8M1454.3 477.8L1452.9 481.8M1452.9 481.8L1446.3 491.2L1444.1 497.7L1437.8 507.2M1437.8 507.2L1426.2 509.3M1426.2 509.3L1418.3 500.5L1411.4 493.9M1452.9 509.6L1437.8 507.2M1452.9 481.8L1452.0 490.1L1453.8 498.8L1452.9 509.6M1347.3 485.4L1343.9 493.0L1341.5 505.7L1338.9 514.0L1336.3 522.9L1334.9 532.9M1334.9 532.9L1323.7 534.5M1323.7 534.5L1317.9 527.2L1313.4 515.8L1311.5 510.2L1304.2 502.5L1299.7 492.6M1396.2 497.8L1398.2 508.7L1399.9 520.1M1399.9 520.1L1397.5 530.7M1397.5 530.7L1389.3 544.4M1389.3 544.4L1382.0 548.1L1372.8 551.4L1362.0 554.3M1362.0 554.3L1355.5 547.7L1342.8 540.2L1334.9 532.9M1426.2 509.3L1417.6 517.3L1412.1 523.3M1412.1 523.3L1399.9 520.1M1412.1 523.3L1407.7 530.7M1407.7 530.7L1397.5 530.7M1407.7 530.7L1405.3 541.6L1402.0 551.5M1402.0 551.5L1389.3 544.4M1434.4 599.0L1428.4 593.0L1419.4 584.8M1419.4 584.8L1414.2 578.9L1408.4 567.1L1404.7 560.7M1404.7 560.7L1402.0 551.5M1452.9 509.6L1465.5 513.5L1473.5 517.6M1473.5 517.6L1474.5 526.3L1479.2 536.2L1480.6 542.3L1482.4 553.4L1483.8 562.9M1483.8 562.9L1477.9 569.5L1472.2 578.4L1466.1 591.6L1459.3 599.0M1280.1 588.3L1270.9 582.5L1263.2 578.8L1255.4 573.9L1246.8 566.2L1236.1 561.9M1323.7 534.5L1321.6 544.1L1316.7 556.4L1313.4 564.5M1313.4 564.5L1304.0 572.6L1296.8 576.8L1288.3 583.8L1280.1 588.3M1280.1 588.3L1279.2 599.0M1313.4 564.5L1319.9 569.2L1328.6 574.2L1337.8 581.8M1337.8 581.8L1340.7 599.0M1362.0 554.3L1360.5 560.8M1360.5 560.8L1354.4 567.7L1342.6 575.3L1337.8 581.8M1360.5 560.8L1365.2 567.6L1370.2 581.6L1374.8 588.9L1378.4 599.0M1404.7 560.7L1403.6 572.4L1403.5 579.5M1403.5 579.5L1395.1 587.9L1387.3 591.3L1380.4 599.0M1403.5 579.5L1419.4 584.8M1513.6 76.0L1513.7 78.4M1513.7 78.4L1506.5 82.7L1496.5 87.3M1543.6 76.0L1543.6 79.2M1543.6 79.2L1538.5 85.7M1538.5 85.7L1525.0 88.1M1525.0 88.1L1513.7 78.4M1525.0 88.1L1531.7 104.5M1531.7 104.5L1526.2 118.4M1526.2 118.4L1515.9 116.5L1508.2 115.4L1497.2 112.5L1490.3 111.2M1538.5 85.7L1538.5 101.2M1538.5 101.2L1531.7 104.5M1543.6 79.2L1556.6 82.0L1564.9 82.9M1564.9 82.9L1563.7 92.1L1561.0 106.2M1561.0 106.2L1549.2 104.2L1538.5 101.2M1570.3 76.0L1570.3 76.4M1570.3 76.4L1564.9 82.9M1605.4 76.0L1598.4 89.2M1598.4 89.2L1587.4 82.5L1578.9 80.2L1570.3 76.4M1598.4 89.2L1599.0 98.5M1599.0 98.5L1589.0 104.2L1584.0 105.9L1574.1 110.1L1565.3 113.2M1565.3 113.2L1561.0 106.2M1633.1 76.0L1635.5 84.7L1641.7 93.4L1643.8 102.0M1643.8 102.0L1642.3 109.2M1642.3 109.2L1629.6 111.0L1620.9 113.6L1611.8 116.1M1611.8 116.1L1603.9 106.8L1599.0 98.5M1680.2 76.0L1673.8 91.5M1673.8 91.5L1665.5 96.1L1652.5 99.0L1643.8 102.0M1691.0 114.5L1678.7 108.6M1678.7 108.6L1673.8 91.5M1647.5 116.0L1642.3 109.2M1678.7 108.6L1668.2 112.6L1655.7 113.2L1647.5 116.0M1526.2 118.4L1532.0 129.3L1536.3 138.6M1536.3 138.6L1534.3 146.0M1491.1 174.9L1485.8 172.8M1534.3 146.0L1538.2 157.8L1544.6 168.4L1546.7 176.6M1546.7 176.6L1538.0 181.9L1533.1 186.9L1523.8 194.1M1523.8 194.1L1510.8 191.2L1500.4 187.2M1500.4 187.2L1491.1 174.9M1565.3 113.2L1565.4 121.9L1564.9 132.0M1564.9 132.0L1556.7 135.2L1545.0 136.2L1536.3 138.6M1611.8 116.1L1609.3 128.3M1609.3 128.3L1602.1 134.0L1592.3 141.4M1592.3 141.4L1583.4 140.0L1574.6 136.3L1566.2 133.3M1566.2 133.3L1564.9 132.0M1647.5 116.0L1644.6 127.1L1642.9 139.9M1642.9 139.9L1635.0 145.0L1624.3 149.5M1624.3 149.5L1615.0 137.5L1609.3 128.3M1691.0 164.9L1678.5 166.8M1678.5 166.8L1671.8 165.6M1671.8 165.6L1665.9 160.0L1656.9 151.2L1649.3 147.2L1642.9 139.9M1566.2 133.3L1568.9 144.9L1571.9 152.3L1572.8 162.1L1574.5 170.6M1574.5 170.6L1560.9 179.8M1560.9 179.8L1546.7 176.6M1592.3 141.4L1593.8 149.3M1593.8 149.3L1586.4 161.3L1580.7 169.1M1580.7 169.1L1574.5 170.6M1624.3 149.5L1621.2 156.8M1621.2 156.8L1609.8 153.9L1602.6 152.3L1593.8 149.3M1621.2 156.8L1622.6 173.5M1622.6 173.5L1614.4 172.4L1599.6 170.1L1593.4 171.7L1580.7 169.1M1633.3 183.0L1622.6 173.5M1671.8 165.6L1659.7 169.2L1653.4 172.9L1642.5 180.6L1633.3 183.0M1500.4 187.2L1497.9 197.3L1497.0 209.4L1493.0 221.9M1493.0 221.9L1477.2 226.9M1477.2 226.9L1473.6 226.6M1523.8 194.1L1526.8 210.2M1526.8 210.2L1518.0 213.9L1507.5 218.2L1496.2 223.8M1496.2 223.8L1493.0 221.9M1560.9 179.8L1559.0 191.5L1555.2 196.9L1553.6 208.1L1548.7 217.7M1548.7 217.7L1535.8 213.7L1526.8 210.2M1567.4 258.4L1561.8 249.2L1557.4 240.3L1555.7 229.0L1548.7 217.7M1633.3 183.0L1636.7 193.6L1642.1 202.7L1647.7 215.7M1647.7 215.7L1641.4 225.7L1638.0 230.8L1631.0 243.7L1628.6 251.5M1628.6 251.5L1616.8 255.4L1608.4 258.4L1597.3 264.8M1597.3 264.8L1586.0 261.7L1578.4 261.8L1567.4 258.4M1678.5 166.8L1672.7 177.7L1672.1 186.4L1665.2 198.2L1663.5 207.6L1658.6 216.7M1658.6 216.7L1647.7 215.7M1691.0 226.4L1681.1 227.4M1681.1 227.4L1669.4 222.8L1658.6 216.7M1477.2 226.9L1483.9 234.8L1490.6 244.2M1490.6 244.2L1491.5 256.3L1491.6 263.8M1491.6 263.8L1477.9 270.4M1496.2 223.8L1492.3 233.9L1490.6 244.2M1567.4 258.4L1562.2 268.3M1562.2 268.3L1551.6 269.8L1540.0 276.2L1531.2 276.6L1523.9 278.9L1511.9 284.1M1511.9 284.1L1505.7 276.7L1497.6 269.6L1491.6 263.8M1681.1 227.4L1678.8 239.9L1677.3 247.1L1673.7 257.2L1671.6 266.4L1667.1 277.0M1667.1 277.0L1656.1 279.9M1656.1 279.9L1651.6 273.7L1642.1 266.8L1636.7 258.5L1628.6 251.5M1691.0 282.6L1681.4 280.2L1667.1 277.0M1511.9 284.1L1511.5 286.7M1511.5 286.7L1500.9 286.0L1491.7 285.9L1482.3 284.9L1473.2 286.5M1562.2 268.3L1567.0 278.5L1569.5 287.5M1569.5 287.5L1569.8 297.0L1568.5 306.3M1568.5 306.3L1554.1 316.2M1554.1 316.2L1543.2 317.6L1527.2 318.4M1527.2 318.4L1522.4 310.2L1516.5 295.6L1511.5 286.7M1597.3 264.8L1598.0 274.0L1596.8 284.9M1596.8 284.9L1584.8 294.0M1584.8 294.0L1569.5 287.5M1610.2 302.3L1603.2 291.6L1596.8 284.9M1656.1 279.9L1649.6 287.8L1645.7 294.9M1645.7 294.9L1633.7 300.9M1633.7 300.9L1623.5 302.0L1610.2 302.3M1583.9 304.6L1584.8 294.0M1610.2 302.3L1605.9 310.8M1605.9 310.8L1595.5 307.0L1583.9 304.6M1583.9 304.6L1568.5 306.3M1527.2 318.4L1525.6 329.5M1525.6 329.5L1520.6 337.6L1513.2 350.4M1513.2 350.4L1504.1 349.5L1493.9 347.9L1481.9 347.3L1473.6 345.6L1464.5 345.6M1554.1 316.2L1550.7 322.5L1543.6 330.9L1538.1 339.4M1538.1 339.4L1525.6 329.5M1547.8 383.0L1543.7 371.6L1540.5 362.6L1536.4 348.9M1536.4 348.9L1538.1 339.4M1605.9 310.8L1617.6 322.2M1617.6 322.2L1620.8 328.6L1624.4 336.6L1627.8 347.3M1627.8 347.3L1627.8 350.6M1627.8 350.6L1625.1 359.6L1623.3 371.1M1623.3 371.1L1614.0 377.6L1606.8 382.4L1602.1 389.2L1593.3 395.2L1587.2 399.7M1587.2 399.7L1577.7 400.0M1577.7 400.0L1567.4 395.5L1558.2 387.2L1547.8 383.0M1633.7 300.9L1627.3 311.1L1617.6 322.2M1691.0 333.6L1683.3 336.2L1673.1 339.2M1673.1 339.2L1665.9 328.4L1661.3 322.7L1655.5 313.0L1651.2 305.0L1645.7 294.9M1628.9 348.5L1627.8 347.3M1673.1 339.2L1667.7 346.7M1667.7 346.7L1656.6 348.2L1646.5 349.4L1638.1 346.7L1628.9 348.5M1536.4 348.9L1522.3 349.6L1513.3 350.5M1513.3 350.5L1513.2 350.4M1628.9 348.5L1627.8 350.6M1691.0 372.8L1689.0 373.0M1689.0 373.0L1677.0 370.1M1677.0 370.1L1674.1 360.2L1667.7 346.7M1513.3 350.5L1513.4 359.6L1515.1 370.9L1515.9 385.2M1515.9 385.2L1507.8 385.9L1497.4 390.9L1488.9 393.9L1478.6 396.3L1466.9 401.0M1547.8 383.0L1538.3 387.0L1529.0 391.5M1529.0 391.5L1515.9 385.2M1677.0 370.1L1670.4 377.9L1659.8 388.6M1659.8 388.6L1651.7 385.6L1640.2 378.0L1632.7 375.9L1623.3 371.1M1689.0 373.0L1687.8 383.4L1685.1 396.5L1683.9 404.9L1683.0 414.9M1683.0 414.9L1669.8 413.6M1669.8 413.6L1664.0 401.4L1659.8 388.6M1691.0 417.7L1683.0 414.9M1624.8 450.1L1616.9 445.1L1608.9 439.7L1602.3 435.8L1592.8 432.7M1592.8 432.7L1591.9 423.6L1588.5 410.8L1587.2 399.7M1669.8 413.6L1664.1 421.4L1657.1 427.5L1651.7 433.8L1645.7 441.9L1637.5 449.2M1637.5 449.2L1624.8 450.1M1577.7 400.0L1574.1 414.3L1571.2 423.3M1571.2 423.3L1557.7 428.1L1548.5 433.1M1548.5 433.1L1545.9 425.5L1541.9 415.7L1536.6 407.1L1532.8 402.0L1529.0 391.5M1486.6 472.5L1478.6 466.0L1472.6 458.5L1464.2 449.4M1460.1 430.5L1457.4 414.0M1548.5 433.1L1547.1 448.6M1547.1 448.6L1536.9 455.6L1528.2 458.2L1521.1 465.6L1513.0 468.6L1504.6 474.8M1504.6 474.8L1496.2 474.2L1486.6 472.5M1592.8 432.7L1591.3 433.6M1591.3 433.6L1579.0 432.1M1579.0 432.1L1571.2 423.3M1579.0 432.1L1571.8 438.5L1563.9 445.9L1556.1 451.7M1556.1 451.7L1547.1 448.6M1486.6 472.5L1478.5 478.7M1478.5 478.7L1469.5 476.8L1459.4 476.2M1591.3 433.6L1591.3 441.5L1593.9 454.9L1596.4 462.2M1596.4 462.2L1585.6 469.4L1579.7 474.8M1579.7 474.8L1571.6 465.2L1564.6 461.6L1556.1 451.7M1604.2 466.3L1596.4 462.2M1624.8 450.1L1624.2 451.3M1624.2 451.3L1615.1 457.8L1604.2 466.3M1581.1 478.4L1579.7 474.8M1604.2 466.3L1604.6 467.5M1604.6 467.5L1596.0 474.8L1584.2 481.7M1584.2 481.7L1581.1 478.4M1624.2 451.3L1626.4 468.5M1626.4 468.5L1618.2 467.6L1604.6 467.5M1637.5 449.2L1640.6 457.1L1645.0 469.4L1649.2 475.4M1649.2 475.4L1647.2 477.0M1647.2 477.0L1638.1 473.0L1626.4 468.5M1691.0 467.4L1680.5 468.4L1672.0 469.9L1660.8 473.2L1653.4 475.9M1653.4 475.9L1649.2 475.4M1504.6 509.6L1505.0 496.7L1505.0 485.0L1504.6 474.8M1581.1 478.4L1581.1 493.6M1581.1 493.6L1580.5 502.1L1578.1 514.4L1576.5 523.1M1576.5 523.1L1569.2 526.4M1569.2 526.4L1557.1 529.0L1547.2 529.7L1537.1 529.8L1527.3 531.4M1527.3 531.4L1520.5 523.4L1510.9 516.6L1504.6 509.6M1478.5 478.7L1479.7 487.5L1481.5 499.6L1482.6 510.9M1482.6 510.9L1473.5 517.6M1504.6 509.6L1493.1 509.9L1482.6 510.9M1584.2 481.7L1581.1 493.6M1647.2 477.0L1646.2 484.3L1647.3 497.3L1648.5 505.4L1651.1 514.3L1650.8 522.7M1650.8 522.7L1641.7 532.0L1634.3 537.6M1634.3 537.6L1626.3 536.1L1615.6 537.2L1607.5 536.6L1595.8 538.3M1595.8 538.3L1587.3 531.9L1576.5 523.1M1653.4 475.9L1658.9 481.2L1665.7 490.0L1670.2 500.1L1674.4 505.4L1681.7 512.2M1681.7 512.2L1674.4 518.1L1666.2 524.5M1666.2 524.5L1650.8 522.7M1691.0 510.5L1681.7 512.2M1691.0 557.0L1682.8 553.4M1682.8 553.4L1678.0 543.3L1671.6 536.9L1666.2 524.5M1527.3 531.4L1527.7 540.0L1527.3 551.0M1527.3 551.0L1519.7 555.3L1510.5 564.0L1504.3 568.0M1504.3 568.0L1493.4 565.9L1483.8 562.9M1569.2 526.4L1561.7 535.2L1555.0 545.2L1549.7 553.9L1543.5 559.9M1543.5 559.9L1536.9 556.1L1527.3 551.0M1558.3 592.9L1555.4 585.3L1549.8 575.4L1548.5 567.0L1543.5 559.9M1595.8 538.3L1597.3 552.9L1599.3 561.6M1599.3 561.6L1591.4 565.7L1580.3 573.9L1575.2 578.7L1568.2 585.5L1558.3 592.9M1634.3 537.6L1633.9 548.7L1634.3 557.3L1635.7 567.6M1635.7 567.6L1630.0 577.4M1630.0 577.4L1617.7 572.7L1611.0 568.4L1599.3 561.6M1682.8 553.4L1671.3 555.3L1666.3 558.5L1652.8 563.5L1646.8 565.8L1635.7 567.6M1504.3 568.0L1503.3 576.4L1504.6 588.2L1505.8 599.0M1558.3 592.9L1557.3 599.0M1630.0 577.4L1631.8 585.7L1633.0 599.0" fill="none" stroke="#101010" stroke-width="1.6" stroke-linecap="round" stroke-linejoin="round"/>
<polygon points="1106.5,201.7 1113.0,200.8 1113.0,206.3 1108.3,207.2" fill="#F0286E" stroke="#101010" stroke-width="1.6"/>
<polygon points="1117.6,200.8 1123.2,200.8 1123.2,205.4 1118.5,205.4" fill="#F0286E" stroke="#101010" stroke-width="1.6"/>
<polygon points="1120.4,221.2 1127.8,220.2 1130.6,227.7 1126.9,231.4 1122.2,227.7" fill="#F0286E" stroke="#101010" stroke-width="1.6"/>
</g>
<rect x="990.8" y="517.3" width="199.2" height="81.7" fill="#000"/>
<rect x="1006" y="571.1" width="152" height="13.6" fill="#fff"/>
<linearGradient id="pk" x1="0" y1="0" x2="1" y2="0"><stop offset="0" stop-color="#FA148C"/><stop offset="1" stop-color="#FA14B4"/></linearGradient>
<clipPath id="cr"><rect x="2001.0" y="79.5" width="700.0" height="519.5"/></clipPath>
<g clip-path="url(#cr)">
<rect x="2001.0" y="79.5" width="700.0" height="519.5" fill="#FC1A12"/>
<polygon points="2409.0,87.6 2396.9,92.3 2387.7,97.8 2385.8,105.2 2387.7,112.7 2394.1,121.0 2406.2,127.5 2424.7,134.0 2443.3,141.4 2461.8,147.9 2470.0,150.1 2468.7,149.8 2478.0,155.3 2489.1,162.7 2503.9,165.5 2515.1,160.9 2518.8,149.8 2524.4,144.2 2535.5,138.6 2537.3,133.1 2542.9,127.5 2541.0,120.1 2532.7,116.4 2532.7,88.5 2528.1,79.3 2465.0,79.3 2470.0,80.2 2410.8,80.2" fill="url(#pk)"/>
<polygon points="2542.9,127.5 2552.2,132.1 2559.6,134.0 2561.4,140.5 2572.6,145.1 2583.7,146.0 2587.4,153.5 2592.0,157.2 2587.4,170.2 2581.8,181.3 2576.3,192.4 2561.4,196.1 2546.6,199.8 2535.5,207.2 2526.2,203.5 2518.8,199.8 2511.4,204.5 2508.6,194.3 2504.9,181.3 2503.0,168.3 2503.9,165.5 2515.1,160.9 2518.8,149.8 2524.4,144.2 2535.5,138.6 2537.3,133.1" fill="#F01EFF"/>
<polygon points="2558.7,133.1 2559.6,125.6 2568.9,119.1 2594.8,116.4 2613.4,116.4 2626.4,121.0 2635.6,129.4 2637.5,138.6 2631.9,147.9 2622.7,156.2 2606.0,155.3 2593.0,154.4 2587.4,153.5 2583.7,146.0 2572.6,145.1 2561.4,140.5" fill="#FA2D28"/>
<polygon points="2664.4,196.1 2664.4,207.2 2656.0,216.5 2650.5,219.3 2640.3,219.3 2650.5,207.2 2659.7,198.9" fill="#FA14A0"/>
<polygon points="2197.2,235.1 2199.9,227.7 2208.3,223.0 2221.3,221.2 2235.0,220.6 2256.0,220.6 2262.5,225.8 2268.0,231.4 2265.2,236.9 2252.3,242.5 2239.3,246.2 2230.0,248.4 2223.1,250.8 2213.9,256.4 2208.3,253.6 2200.9,244.3" fill="#1E32F0"/>
<polygon points="2297.7,187.8 2313.5,185.0 2332.0,180.4 2350.6,174.8 2369.1,168.3 2387.7,162.7 2406.2,160.9 2424.7,160.0 2443.3,157.2 2461.8,154.4 2467.4,150.1 2470.0,150.1 2468.7,149.8 2478.0,155.3 2489.1,162.7 2503.9,165.5 2503.0,168.3 2504.9,181.3 2508.6,194.3 2511.4,204.5 2506.7,212.8 2500.2,216.5 2497.5,225.8 2496.5,233.2 2483.5,235.1 2472.4,237.9 2465.0,239.7 2470.0,236.9 2452.6,238.8 2434.0,239.7 2415.5,241.6 2402.5,244.3 2387.7,239.7 2378.4,237.9 2359.8,239.7 2342.2,239.7 2335.7,234.1 2319.0,235.4 2294.9,232.8 2269.9,233.2 2267.1,227.7 2268.9,216.5 2276.4,207.2 2285.6,198.0" fill="#FA1432"/>
<polygon points="2343.5,243.4 2359.8,241.6 2378.4,240.6 2396.9,243.4 2398.8,248.1 2383.9,252.7 2377.4,260.1 2367.2,262.9 2352.4,262.9 2345.9,257.3" fill="#FA3232"/>
<polygon points="2351.5,376.7 2363.5,376.7 2376.5,379.5 2387.7,379.5 2404.3,384.1 2415.5,394.4 2426.6,403.6 2424.7,411.0 2415.5,419.4 2403.4,431.4 2396.9,427.7 2387.7,417.5 2376.5,407.3 2363.5,396.2 2352.4,386.9" fill="#A0FF28"/>
<polygon points="2032.1,453.7 2038.6,448.5 2046.9,449.1 2054.4,455.6 2054.4,463.0 2045.1,464.8 2035.8,463.9 2031.2,459.3" fill="#FA8264"/>
<polygon points="2000.6,482.4 2006.1,481.5 2013.5,476.9 2024.7,470.4 2033.9,464.8 2045.1,464.8 2054.4,463.0 2056.2,459.3 2069.2,460.2 2078.5,464.8 2087.7,467.6 2098.9,470.4 2110.0,475.0 2115.6,483.4 2121.1,496.4 2124.8,507.5 2127.6,518.6 2127.6,600.2 2000.6,600.2" fill="#FA0A14"/>
<polygon points="2459.4,393.4 2465.0,394.4 2476.1,398.1 2487.3,395.3 2496.5,396.2 2505.8,400.8 2515.1,394.4 2526.2,395.3 2539.2,395.3 2548.5,391.6 2567.0,391.6 2583.7,390.6 2597.6,388.8 2598.5,381.4 2596.7,372.1 2598.5,364.7 2603.2,357.3 2602.2,346.1 2603.2,340.0 2603.2,340.0 2602.2,333.4 2606.0,322.2 2610.6,313.0 2606.9,300.0 2606.0,288.9 2604.1,275.9 2598.5,266.6 2591.1,259.2 2576.3,253.6 2567.9,246.2 2557.7,242.5 2548.5,243.4 2539.2,248.1 2529.9,255.5 2518.8,250.8 2509.5,261.0 2500.2,270.3 2494.7,279.6 2492.8,298.1 2485.4,305.5 2478.0,313.0 2474.3,326.0 2470.6,340.0 2465.0,348.2" fill="#FA0505"/>
<polygon points="2574.4,240.6 2594.8,234.1 2611.5,229.5 2620.8,227.7 2628.2,233.2 2637.5,238.8 2640.3,248.1 2650.5,259.2 2661.6,267.5 2654.2,277.7 2645.8,290.7 2646.8,303.7 2635.6,309.3 2622.7,312.0 2610.6,313.0 2606.9,300.0 2606.0,288.9 2604.1,275.9 2598.5,266.6 2591.1,259.2 2576.3,253.6 2567.9,246.2" fill="#FA2814"/>
<polygon points="2493.7,457.4 2500.2,450.0 2513.2,443.5 2528.1,440.7 2548.5,436.1 2567.0,436.1 2585.6,433.3 2609.7,434.2 2615.2,436.1 2622.7,444.4 2631.9,450.0 2641.2,456.5 2652.3,459.3 2662.5,462.0 2664.4,472.2 2667.2,481.5 2665.3,490.8 2659.7,501.9 2652.3,513.1 2643.1,524.2 2631.9,537.2 2622.7,546.4 2617.1,550.1 2607.8,552.9 2594.8,542.7 2580.0,531.6 2565.2,520.5 2552.2,511.2 2539.2,501.9 2526.2,488.9 2513.2,476.9 2502.1,466.7" fill="#FA2814"/>
<polygon points="2662.5,462.0 2674.6,455.6 2687.6,449.1 2700.9,445.4 2704.3,445.4 2704.3,600.2 2675.5,600.2 2672.7,597.4 2661.6,587.2 2650.5,578.0 2637.5,566.8 2626.4,557.6 2617.1,550.1 2622.7,546.4 2631.9,537.2 2643.1,524.2 2652.3,513.1 2659.7,501.9 2665.3,490.8 2667.2,481.5 2664.4,472.2" fill="#FB3810"/>
<polygon points="2617.1,550.1 2626.4,557.6 2637.5,566.8 2650.5,578.0 2661.6,587.2 2672.7,597.4 2675.5,600.2 2558.7,600.2 2557.7,597.4 2561.4,594.7 2568.9,589.1 2580.0,579.8 2591.1,570.5 2600.4,563.1 2607.8,552.9" fill="#FA0A3C"/>
<polygon points="2457.6,571.5 2465.0,569.6 2474.3,566.8 2492.8,567.8 2502.1,572.4 2515.1,578.0 2528.1,583.5 2542.9,589.1 2552.2,594.7 2557.7,597.4 2558.7,600.2 2457.6,600.2 2447.0,600.2 2450.7,594.7 2454.4,585.4 2461.8,578.0 2464.6,566.8 2470.0,567.8 2476.7,569.1" fill="#FA460A"/>
<polygon points="2459.4,468.9 2465.0,467.6 2474.3,464.8 2483.5,461.1 2493.7,457.4 2502.1,466.7 2513.2,476.9 2526.2,488.9 2539.2,501.9 2552.2,511.2 2565.2,520.5 2580.0,531.6 2594.8,542.7 2607.8,552.9 2600.4,563.1 2591.1,570.5 2580.0,579.8 2568.9,589.1 2561.4,594.7 2557.7,597.4 2552.2,594.7 2542.9,589.1 2528.1,583.5 2515.1,578.0 2502.1,572.4 2492.8,567.8 2474.3,566.8 2465.0,569.6 2457.6,571.5 2464.6,566.8 2458.1,563.1 2448.9,555.7 2437.7,546.4 2426.6,536.2 2415.5,526.0 2405.3,516.8 2403.4,508.4 2410.8,501.9 2415.5,492.7 2417.3,496.4 2422.9,488.9 2430.3,481.5 2443.3,476.0 2456.3,470.4 2470.0,464.8" fill="#FA0A1E"/>
<polygon points="2603.2,357.3 2622.7,356.3 2641.2,353.5 2659.7,351.7 2678.3,352.6 2691.3,356.3 2700.9,358.2 2704.3,358.2 2704.3,445.4 2700.9,445.4 2687.6,449.1 2674.6,455.6 2662.5,462.0 2652.3,459.3 2641.2,456.5 2631.9,450.0 2622.7,444.4 2615.2,436.1 2609.7,434.2 2609.7,424.0 2611.5,412.9 2609.7,399.9 2606.0,390.6 2597.6,388.8 2598.5,381.4 2596.7,372.1 2598.5,364.7" fill="#FA0A28"/>
<path d="M2161.0 79.3L2155.4 88.5L2151.7 96.0L2143.4 104.3L2132.2 103.4L2123.0 109.9L2113.7 118.2L2107.2 126.6L2109.1 134.9L2108.1 147.9L2106.3 159.0L2102.6 162.7L2103.5 170.2L2108.1 179.4L2115.6 188.7L2124.8 200.8L2119.3 208.2L2120.2 216.5L2115.6 218.4L2114.6 231.4L2112.8 236.9L2117.4 244.3L2124.8 248.1L2134.1 249.0L2135.0 259.2L2137.8 264.7L2128.5 266.6L2121.1 269.4L2114.6 274.0M2134.1 103.4L2137.8 95.0L2145.2 87.6L2152.7 87.6M2000.6 227.7L2013.5 231.4L2032.1 238.8L2050.6 246.2L2069.2 254.5L2087.7 262.9L2106.3 270.3L2114.6 274.0M2114.6 274.0L2117.4 281.4L2124.8 287.0L2132.2 292.6L2131.3 301.8L2130.4 311.1L2129.5 326.0L2127.6 333.4L2128.5 345.1L2133.2 352.5L2141.5 356.2L2150.8 358.4M2132.2 292.6L2143.4 290.7L2161.9 290.7L2177.7 286.1M2177.7 286.1L2186.0 294.4L2195.3 303.7L2199.9 309.3L2210.1 304.6L2221.3 300.0L2226.8 291.6L2235.0 294.8M2199.9 309.3L2199.0 318.5L2201.8 327.8L2195.3 333.4L2187.9 337.1L2180.5 345.1L2161.9 354.3L2150.8 358.4M2150.8 348.4L2154.5 357.3L2161.9 364.7L2162.9 377.7L2163.8 390.6L2164.7 398.1M2164.7 398.1L2178.6 402.7L2191.6 411.0L2204.6 419.4L2217.6 425.9L2235.0 430.0L2241.7 431.1M2164.7 398.1L2158.2 407.3L2155.4 418.5L2151.7 431.4L2143.4 442.6L2134.1 451.8L2123.0 461.1L2113.7 468.5L2110.0 475.0M2110.0 475.0L2098.9 470.4L2087.7 467.6L2078.5 464.8L2069.2 460.2L2056.2 459.3L2054.4 455.6L2046.9 449.1L2038.6 448.5L2032.1 453.7L2031.2 459.3L2033.9 464.8L2024.7 470.4L2013.5 476.9L2006.1 481.5L2000.6 482.4M2410.8 79.3L2409.0 87.6M2470.0 82.1L2443.3 84.8L2424.7 86.7L2409.0 87.6L2396.9 92.3L2387.7 97.8L2385.8 105.2L2387.7 112.7L2394.1 121.0L2406.2 127.5L2424.7 134.0L2443.3 141.4L2461.8 147.9L2470.0 150.1M2297.7 187.8L2313.5 185.0L2332.0 180.4L2350.6 174.8L2369.1 168.3L2387.7 162.7L2406.2 160.9L2424.7 160.0L2443.3 157.2L2461.8 154.4L2467.4 150.1M2297.7 187.8L2285.6 198.0L2276.4 207.2L2268.9 216.5L2267.1 227.7L2269.9 233.2L2294.9 232.8L2319.0 235.4L2335.7 234.1L2342.2 239.7L2359.8 239.7L2378.4 237.9L2387.7 239.7L2402.5 244.3L2415.5 241.6L2434.0 239.7L2452.6 238.8L2470.0 236.9M2230.0 220.6L2256.0 220.6L2262.5 225.8L2268.0 231.4L2265.2 236.9L2252.3 242.5L2239.3 246.2L2230.0 248.4M2235.0 220.6L2221.3 221.2L2208.3 223.0L2199.9 227.7L2197.2 235.1L2200.9 244.3L2208.3 253.6L2213.9 256.4L2223.1 250.8L2235.0 248.1M2256.0 218.4L2267.1 214.7L2268.9 218.4M2342.2 239.7L2343.5 248.1L2345.9 257.3L2352.4 262.9L2367.2 262.9L2377.4 260.1L2383.9 252.7L2398.8 248.1L2402.5 244.3M2230.0 295.0L2238.3 300.0L2263.4 299.1L2276.4 295.3L2291.2 297.2L2294.0 301.8L2304.2 309.3L2309.8 318.5L2319.0 327.8L2320.9 333.4L2330.2 342.6L2337.6 352.8L2342.2 360.3L2343.1 368.6M2320.9 333.4L2307.9 337.1L2300.5 343.6L2297.7 348.2L2303.3 355.6L2311.6 361.2L2322.7 364.9L2333.9 367.7L2343.1 368.6M2528.1 79.3L2532.7 88.5L2532.7 116.4L2541.0 120.1L2542.9 127.5L2537.3 133.1L2535.5 138.6L2524.4 144.2L2518.8 149.8L2515.1 160.9L2503.9 165.5L2489.1 162.7L2478.0 155.3L2468.7 149.8L2465.0 150.1M2542.9 127.5L2552.2 132.1L2559.6 134.0L2561.4 140.5L2572.6 145.1L2583.7 146.0L2587.4 153.5L2592.0 157.2L2587.4 170.2L2581.8 181.3L2576.3 192.4L2561.4 196.1L2546.6 199.8L2535.5 207.2L2526.2 203.5L2518.8 199.8L2511.4 204.5L2508.6 194.3L2504.9 181.3L2503.0 168.3L2503.9 165.5M2532.7 116.4L2548.5 115.4L2561.4 116.4L2567.0 113.6L2580.0 109.9L2593.0 110.8L2596.7 114.5M2542.9 120.4L2552.2 131.2L2559.6 123.8L2561.4 116.4M2657.9 79.3L2643.1 88.5L2628.2 97.8L2613.4 105.2L2596.7 114.5M2558.7 133.1L2559.6 125.6L2568.9 119.1L2594.8 116.4L2613.4 116.4L2626.4 121.0L2635.6 129.4L2637.5 138.6L2631.9 147.9L2622.7 156.2L2606.0 155.3L2593.0 154.4L2587.4 153.5M2622.7 156.2L2631.9 160.9L2635.6 170.2L2646.8 179.4L2657.9 186.8L2664.4 185.9L2672.7 179.4L2683.9 171.1L2700.9 161.8M2672.7 179.4L2682.0 185.0L2691.3 191.5L2700.9 192.4M2664.4 185.9L2664.4 196.1L2664.4 207.2L2656.0 216.5L2650.5 219.3L2640.3 219.3L2650.5 207.2L2659.7 198.9L2664.4 196.1M2640.3 219.3L2630.1 227.7L2628.2 233.2M2511.4 204.5L2506.7 212.8L2500.2 216.5L2497.5 225.8L2496.5 233.2L2483.5 235.1L2472.4 237.9L2465.0 239.7M2496.5 233.2L2498.4 238.8L2507.7 244.3L2518.8 250.8L2529.9 255.5L2539.2 248.1L2548.5 243.4L2557.7 242.5L2567.9 246.2L2574.4 240.6L2594.8 234.1L2611.5 229.5L2620.8 227.7L2628.2 233.2L2637.5 238.8L2640.3 248.1L2650.5 259.2L2661.6 267.5L2672.7 263.8L2685.7 262.0L2693.1 269.4L2700.9 270.3M2518.8 250.8L2509.5 261.0L2500.2 270.3L2494.7 279.6L2492.8 298.1L2485.4 305.5L2478.0 313.0L2474.3 326.0L2470.6 340.0M2567.9 246.2L2576.3 253.6L2591.1 259.2L2598.5 266.6L2604.1 275.9L2606.0 288.9L2606.9 300.0L2610.6 313.0L2606.0 322.2L2602.2 333.4L2603.2 340.0M2610.6 313.0L2622.7 312.0L2635.6 309.3L2646.8 303.7L2659.7 307.4L2669.0 298.1L2673.7 287.0L2669.0 275.9L2661.6 267.5M2661.6 267.5L2654.2 277.7L2645.8 290.7L2646.8 303.7M2343.1 363.7L2348.7 367.5L2351.5 376.7L2363.5 376.7L2376.5 379.5L2387.7 379.5L2404.3 384.1L2415.5 394.4L2426.6 403.6L2424.7 411.0L2415.5 419.4L2403.4 431.4L2396.9 427.7L2387.7 417.5L2376.5 407.3L2363.5 396.2L2352.4 386.9L2351.5 376.7M2404.3 384.1L2415.5 376.7L2426.6 373.0L2434.0 371.2L2443.3 364.7L2452.6 355.4L2460.0 344.3L2470.0 337.8M2434.0 371.5L2438.7 379.5L2435.9 390.6L2434.0 399.9L2426.6 403.3M2435.9 390.6L2443.3 398.1L2452.6 399.9L2461.8 395.3L2470.0 394.4M2403.4 431.4L2408.1 440.7L2412.7 453.7L2415.5 468.5L2417.3 481.5L2415.5 492.7L2410.8 501.9L2403.4 508.4M2417.3 481.5L2420.1 488.9L2417.3 496.4L2422.9 488.9L2430.3 481.5L2443.3 476.0L2456.3 470.4L2470.0 464.8M2230.0 430.5L2241.1 431.1L2252.3 431.1L2267.1 431.4L2286.6 432.4L2289.4 446.3L2291.2 459.3L2296.8 470.4L2299.6 481.5L2303.3 494.5L2307.9 507.5L2311.6 522.3L2316.2 527.9L2317.2 539.0L2320.0 546.4L2317.2 553.9L2311.6 560.3M2311.6 560.3L2300.5 563.1L2289.4 566.8L2278.2 571.5L2267.1 578.0L2256.0 583.5L2246.7 589.1L2239.3 594.7L2230.0 597.4M2464.6 566.8L2461.8 578.0L2454.4 585.4L2450.7 594.7L2447.0 600.2M2603.2 340.0L2602.2 346.1L2603.2 357.3L2598.5 364.7L2596.7 372.1L2598.5 381.4L2597.6 388.8M2603.2 357.3L2622.7 356.3L2641.2 353.5L2659.7 351.7L2678.3 352.6L2691.3 356.3L2700.9 358.2M2465.0 394.4L2476.1 398.1L2487.3 395.3L2496.5 396.2L2505.8 400.8L2515.1 394.4L2526.2 395.3L2539.2 395.3L2548.5 391.6L2567.0 391.6L2583.7 390.6L2597.6 388.8L2606.0 390.6L2609.7 399.9L2611.5 412.9L2609.7 424.0L2609.7 434.2M2465.0 467.6L2474.3 464.8L2483.5 461.1L2493.7 457.4L2500.2 450.0L2513.2 443.5L2528.1 440.7L2548.5 436.1L2567.0 436.1L2585.6 433.3L2609.7 434.2L2615.2 436.1L2622.7 444.4L2631.9 450.0L2641.2 456.5L2652.3 459.3L2662.5 462.0M2662.5 462.0L2674.6 455.6L2687.6 449.1L2700.9 445.4M2662.5 462.0L2664.4 472.2L2667.2 481.5L2665.3 490.8L2659.7 501.9L2652.3 513.1L2643.1 524.2L2631.9 537.2L2622.7 546.4L2617.1 550.1L2607.8 552.9L2600.4 563.1L2591.1 570.5L2580.0 579.8L2568.9 589.1L2561.4 594.7L2557.7 597.4M2617.1 550.1L2626.4 557.6L2637.5 566.8L2650.5 578.0L2661.6 587.2L2672.7 597.4L2675.5 600.2M2465.0 569.6L2474.3 566.8L2492.8 567.8L2502.1 572.4L2515.1 578.0L2528.1 583.5L2542.9 589.1L2552.2 594.7L2557.7 597.4L2558.7 600.2" fill="none" stroke="#140404" stroke-width="2.4" stroke-linejoin="round" stroke-linecap="round"/>
<path d="M2124.8 200.8L2134.1 199.8L2147.1 198.9L2156.4 191.5L2167.5 191.5L2174.9 190.6L2177.7 199.8L2182.3 211.0L2180.5 222.1L2187.9 231.4L2197.2 236.9M2177.7 286.1L2191.6 283.3L2208.3 279.6L2220.3 278.7M2213.9 256.4L2217.6 266.6L2221.3 277.7L2225.0 287.0L2226.8 291.6M2110.0 475.0L2115.6 483.4L2121.1 496.4L2124.8 507.5L2127.6 518.6M2317.2 235.4L2315.3 246.2L2314.4 257.3L2312.5 272.2L2309.8 279.6L2300.5 286.1L2292.1 292.6L2291.2 297.2M2312.5 272.2L2322.7 270.3L2335.7 264.7L2348.7 262.9M2278.2 174.8L2289.4 181.3L2297.7 187.8M2403.4 508.4L2405.3 516.8L2415.5 526.0L2426.6 536.2L2437.7 546.4L2448.9 555.7L2458.1 563.1L2464.6 566.8L2470.0 567.8M2311.6 560.3L2319.0 566.8L2330.2 574.3L2341.3 579.8L2352.4 585.4L2363.5 591.0L2374.7 594.7L2383.9 597.4L2396.9 599.9M2493.7 457.4L2502.1 466.7L2513.2 476.9L2526.2 488.9L2539.2 501.9L2552.2 511.2L2565.2 520.5L2580.0 531.6L2594.8 542.7L2607.8 552.9" fill="none" stroke="#200404" stroke-width="1.4" stroke-linejoin="round" stroke-linecap="round"/>
<path d="M2174.9 190.6L2175.8 179.4L2186.0 171.1L2200.9 165.5L2219.4 160.9L2235.0 160.0L2246.1 163.7L2259.1 164.6L2273.9 169.2L2283.2 174.8M2137.8 254.5L2152.7 249.0L2161.9 250.8L2173.1 251.8L2189.7 250.8M2403.4 508.4L2393.2 510.3L2382.1 514.0L2371.0 520.5L2359.8 526.0L2345.0 533.5L2332.0 540.9L2320.9 547.4M2309.8 417.5L2322.7 406.4L2333.9 399.9" fill="none" stroke="#400808" stroke-width="1.1" stroke-dasharray="6 5"/>
<rect x="2575.7" y="156.2" width="7.4" height="4.5" fill="#100"/>
<rect x="2529.9" y="184.3" width="4.1" height="1.5" fill="#100"/>
<rect x="2491.0" y="148.8" width="4.5" height="1.3" fill="#100"/>
<rect x="2150.8" y="351.7" width="0.2" height="0.2" fill="#100"/>
<polyline points="2149.9,349.8 2154.5,358.2 2161.9,365.6" fill="none" stroke="#100" stroke-width="4.5" stroke-linecap="round"/>
</g>
<rect x="2000.8" y="517.3" width="199.2" height="81.7" fill="#000"/>
<rect x="2016.4" y="571.1" width="151" height="13.6" fill="#fff"/>
<clipPath id="ipf"><path d="M1776.7,231.7L1776.7,439.3Q1844.1,442.6 1909.3,408.0Z"/></clipPath>
<g clip-path="url(#ipf)" shape-rendering="crispEdges">
<path d="M1775 230h4.5v4.5h-4.5z" fill="#FF0000"/>
<path d="M1779 230h4.5v4.5h-4.5zM1779 234h4.5v4.5h-4.5z" fill="#FF0003"/>
<path d="M1783 230h4.5v4.5h-4.5zM1783 234h4.5v4.5h-4.5zM1783 238h4.5v4.5h-4.5z" fill="#FF0006"/>
<path d="M1787 230h4.5v4.5h-4.5zM1787 234h4.5v4.5h-4.5zM1787 238h4.5v4.5h-4.5zM1787 242h4.5v4.5h-4.5z" fill="#FF000B"/>
<path d="M1791 230h4.5v4.5h-4.5z" fill="#FF000F"/>
<path d="M1795 230h4.5v4.5h-4.5z" fill="#FF0015"/>
<path d="M1775 234h4.5v4.5h-4.5z" fill="#FF0100"/>
<path d="M1791 234h4.5v4.5h-4.5zM1791 238h4.5v4.5h-4.5z" fill="#FF0010"/>
<path d="M1795 234h4.5v4.5h-4.5zM1795 238h4.5v4.5h-4.5z" fill="#FF0016"/>
<path d="M1799 234h4.5v4.5h-4.5zM1799 238h4.5v4.5h-4.5z" fill="#FF001C"/>
<path d="M1775 238h4.5v4.5h-4.5z" fill="#FF0300"/>
<path d="M1779 238h4.5v4.5h-4.5z" fill="#FF0103"/>
<path d="M1803 238h4.5v4.5h-4.5z" fill="#FF0023"/>
<path d="M1775 242h4.5v4.5h-4.5z" fill="#FF0600"/>
<path d="M1779 242h4.5v4.5h-4.5z" fill="#FF0303"/>
<path d="M1783 242h4.5v4.5h-4.5z" fill="#FF0007"/>
<path d="M1791 242h4.5v4.5h-4.5zM1791 246h4.5v4.5h-4.5z" fill="#FF0011"/>
<path d="M1795 242h4.5v4.5h-4.5zM1795 246h4.5v4.5h-4.5z" fill="#FF0017"/>
<path d="M1799 242h4.5v4.5h-4.5z" fill="#FF001D"/>
<path d="M1803 242h4.5v4.5h-4.5z" fill="#FF0024"/>
<path d="M1807 242h4.5v4.5h-4.5zM1803 266h4.5v4.5h-4.5z" fill="#FF002B"/>
<path d="M1775 246h4.5v4.5h-4.5z" fill="#FF0900"/>
<path d="M1779 246h4.5v4.5h-4.5z" fill="#FF0503"/>
<path d="M1783 246h4.5v4.5h-4.5z" fill="#FF0207"/>
<path d="M1787 246h4.5v4.5h-4.5z" fill="#FF000C"/>
<path d="M1799 246h4.5v4.5h-4.5z" fill="#FF001E"/>
<path d="M1803 246h4.5v4.5h-4.5z" fill="#FF0025"/>
<path d="M1807 246h4.5v4.5h-4.5z" fill="#FF002D"/>
<path d="M1775 250h4.5v4.5h-4.5z" fill="#FF0C00"/>
<path d="M1779 250h4.5v4.5h-4.5z" fill="#FF0803"/>
<path d="M1783 250h4.5v4.5h-4.5z" fill="#FF0407"/>
<path d="M1787 250h4.5v4.5h-4.5z" fill="#FF010C"/>
<path d="M1791 250h4.5v4.5h-4.5z" fill="#FF0012"/>
<path d="M1795 250h4.5v4.5h-4.5z" fill="#FF0018"/>
<path d="M1799 250h4.5v4.5h-4.5z" fill="#FF001F"/>
<path d="M1803 250h4.5v4.5h-4.5z" fill="#FF0026"/>
<path d="M1807 250h4.5v4.5h-4.5z" fill="#FF002E"/>
<path d="M1811 250h4.5v4.5h-4.5zM1807 270h4.5v4.5h-4.5z" fill="#FF0036"/>
<path d="M1775 254h4.5v4.5h-4.5z" fill="#FF1000"/>
<path d="M1779 254h4.5v4.5h-4.5z" fill="#FF0C03"/>
<path d="M1783 254h4.5v4.5h-4.5z" fill="#FF0707"/>
<path d="M1787 254h4.5v4.5h-4.5z" fill="#FF040C"/>
<path d="M1791 254h4.5v4.5h-4.5z" fill="#FF0112"/>
<path d="M1795 254h4.5v4.5h-4.5z" fill="#FF0019"/>
<path d="M1799 254h4.5v4.5h-4.5z" fill="#FF0020"/>
<path d="M1803 254h4.5v4.5h-4.5z" fill="#FF0027"/>
<path d="M1807 254h4.5v4.5h-4.5z" fill="#FF002F"/>
<path d="M1811 254h4.5v4.5h-4.5zM1807 274h4.5v4.5h-4.5z" fill="#FF0038"/>
<path d="M1815 254h4.5v4.5h-4.5z" fill="#FF0041"/>
<path d="M1775 258h4.5v4.5h-4.5z" fill="#FF1500"/>
<path d="M1779 258h4.5v4.5h-4.5z" fill="#FF1003"/>
<path d="M1783 258h4.5v4.5h-4.5z" fill="#FF0B07"/>
<path d="M1787 258h4.5v4.5h-4.5z" fill="#FF070D"/>
<path d="M1791 258h4.5v4.5h-4.5z" fill="#FF0313"/>
<path d="M1795 258h4.5v4.5h-4.5z" fill="#FF001A"/>
<path d="M1799 258h4.5v4.5h-4.5z" fill="#FF0021"/>
<path d="M1803 258h4.5v4.5h-4.5z" fill="#FF0029"/>
<path d="M1807 258h4.5v4.5h-4.5z" fill="#FF0031"/>
<path d="M1811 258h4.5v4.5h-4.5z" fill="#FF003A"/>
<path d="M1815 258h4.5v4.5h-4.5z" fill="#FF0043"/>
<path d="M1819 258h4.5v4.5h-4.5zM1815 274h4.5v4.5h-4.5z" fill="#FF004D"/>
<path d="M1775 262h4.5v4.5h-4.5z" fill="#FF1A00"/>
<path d="M1779 262h4.5v4.5h-4.5z" fill="#FF1403"/>
<path d="M1783 262h4.5v4.5h-4.5z" fill="#FF0F08"/>
<path d="M1787 262h4.5v4.5h-4.5z" fill="#FF0A0D"/>
<path d="M1791 262h4.5v4.5h-4.5z" fill="#FF0613"/>
<path d="M1795 262h4.5v4.5h-4.5z" fill="#FF021A"/>
<path d="M1799 262h4.5v4.5h-4.5z" fill="#FF0022"/>
<path d="M1803 262h4.5v4.5h-4.5z" fill="#FF002A"/>
<path d="M1807 262h4.5v4.5h-4.5z" fill="#FF0033"/>
<path d="M1811 262h4.5v4.5h-4.5z" fill="#FF003C"/>
<path d="M1815 262h4.5v4.5h-4.5z" fill="#FF0045"/>
<path d="M1819 262h4.5v4.5h-4.5zM1815 278h4.5v4.5h-4.5z" fill="#FF004F"/>
<path d="M1775 266h4.5v4.5h-4.5z" fill="#FF1F00"/>
<path d="M1779 266h4.5v4.5h-4.5z" fill="#FF1903"/>
<path d="M1783 266h4.5v4.5h-4.5z" fill="#FF1408"/>
<path d="M1787 266h4.5v4.5h-4.5z" fill="#FF0E0E"/>
<path d="M1791 266h4.5v4.5h-4.5z" fill="#FF0914"/>
<path d="M1795 266h4.5v4.5h-4.5z" fill="#FF051B"/>
<path d="M1799 266h4.5v4.5h-4.5z" fill="#FF0223"/>
<path d="M1807 266h4.5v4.5h-4.5z" fill="#FF0034"/>
<path d="M1811 266h4.5v4.5h-4.5z" fill="#FF003E"/>
<path d="M1815 266h4.5v4.5h-4.5z" fill="#FF0048"/>
<path d="M1819 266h4.5v4.5h-4.5zM1815 282h4.5v4.5h-4.5z" fill="#FF0052"/>
<path d="M1823 266h4.5v4.5h-4.5z" fill="#FF005D"/>
<path d="M1775 270h4.5v4.5h-4.5z" fill="#FF2500"/>
<path d="M1779 270h4.5v4.5h-4.5z" fill="#FF1F03"/>
<path d="M1783 270h4.5v4.5h-4.5z" fill="#FF1908"/>
<path d="M1787 270h4.5v4.5h-4.5z" fill="#FF130E"/>
<path d="M1791 270h4.5v4.5h-4.5z" fill="#FF0E15"/>
<path d="M1795 270h4.5v4.5h-4.5z" fill="#FF091C"/>
<path d="M1799 270h4.5v4.5h-4.5z" fill="#FF0424"/>
<path d="M1803 270h4.5v4.5h-4.5z" fill="#FF012D"/>
<path d="M1811 270h4.5v4.5h-4.5z" fill="#FF0040"/>
<path d="M1815 270h4.5v4.5h-4.5z" fill="#FF004A"/>
<path d="M1819 270h4.5v4.5h-4.5z" fill="#FF0055"/>
<path d="M1823 270h4.5v4.5h-4.5z" fill="#FF0060"/>
<path d="M1827 270h4.5v4.5h-4.5z" fill="#FF006C"/>
<path d="M1775 274h4.5v4.5h-4.5z" fill="#FF2B00"/>
<path d="M1779 274h4.5v4.5h-4.5z" fill="#FF2503"/>
<path d="M1783 274h4.5v4.5h-4.5z" fill="#FF1E09"/>
<path d="M1787 274h4.5v4.5h-4.5z" fill="#FF180F"/>
<path d="M1791 274h4.5v4.5h-4.5z" fill="#FF1215"/>
<path d="M1795 274h4.5v4.5h-4.5z" fill="#FF0D1D"/>
<path d="M1799 274h4.5v4.5h-4.5z" fill="#FF0825"/>
<path d="M1803 274h4.5v4.5h-4.5z" fill="#FF042E"/>
<path d="M1811 274h4.5v4.5h-4.5z" fill="#FF0042"/>
<path d="M1819 274h4.5v4.5h-4.5z" fill="#FF0058"/>
<path d="M1823 274h4.5v4.5h-4.5z" fill="#FF0063"/>
<path d="M1827 274h4.5v4.5h-4.5z" fill="#FF0070"/>
<path d="M1831 274h4.5v4.5h-4.5z" fill="#FF007C"/>
<path d="M1775 278h4.5v4.5h-4.5z" fill="#FF3200"/>
<path d="M1779 278h4.5v4.5h-4.5z" fill="#FF2B04"/>
<path d="M1783 278h4.5v4.5h-4.5z" fill="#FF2409"/>
<path d="M1787 278h4.5v4.5h-4.5z" fill="#FF1E0F"/>
<path d="M1791 278h4.5v4.5h-4.5z" fill="#FF1816"/>
<path d="M1795 278h4.5v4.5h-4.5z" fill="#FF121E"/>
<path d="M1799 278h4.5v4.5h-4.5z" fill="#FF0C27"/>
<path d="M1803 278h4.5v4.5h-4.5z" fill="#FF0730"/>
<path d="M1807 278h4.5v4.5h-4.5z" fill="#FF033A"/>
<path d="M1811 278h4.5v4.5h-4.5z" fill="#FF0044"/>
<path d="M1819 278h4.5v4.5h-4.5z" fill="#FF005B"/>
<path d="M1823 278h4.5v4.5h-4.5z" fill="#FF0067"/>
<path d="M1827 278h4.5v4.5h-4.5zM1823 290h4.5v4.5h-4.5z" fill="#FF0074"/>
<path d="M1831 278h4.5v4.5h-4.5z" fill="#FF0081"/>
<path d="M1775 282h4.5v4.5h-4.5z" fill="#FF3A00"/>
<path d="M1779 282h4.5v4.5h-4.5z" fill="#FF3304"/>
<path d="M1783 282h4.5v4.5h-4.5z" fill="#FF2B09"/>
<path d="M1787 282h4.5v4.5h-4.5z" fill="#FF2410"/>
<path d="M1791 282h4.5v4.5h-4.5z" fill="#FF1D17"/>
<path d="M1795 282h4.5v4.5h-4.5z" fill="#FF171F"/>
<path d="M1799 282h4.5v4.5h-4.5z" fill="#FF1128"/>
<path d="M1803 282h4.5v4.5h-4.5z" fill="#FF0B32"/>
<path d="M1807 282h4.5v4.5h-4.5z" fill="#FF063C"/>
<path d="M1811 282h4.5v4.5h-4.5z" fill="#FF0247"/>
<path d="M1819 282h4.5v4.5h-4.5z" fill="#FF005E"/>
<path d="M1823 282h4.5v4.5h-4.5z" fill="#FF006B"/>
<path d="M1827 282h4.5v4.5h-4.5zM1823 294h4.5v4.5h-4.5z" fill="#FF0078"/>
<path d="M1831 282h4.5v4.5h-4.5z" fill="#FF0086"/>
<path d="M1835 282h4.5v4.5h-4.5z" fill="#FF0094"/>
<path d="M1775 286h4.5v4.5h-4.5z" fill="#FF4300"/>
<path d="M1779 286h4.5v4.5h-4.5z" fill="#FF3B04"/>
<path d="M1783 286h4.5v4.5h-4.5z" fill="#FF3309"/>
<path d="M1787 286h4.5v4.5h-4.5z" fill="#FF2B10"/>
<path d="M1791 286h4.5v4.5h-4.5z" fill="#FF2418"/>
<path d="M1795 286h4.5v4.5h-4.5z" fill="#FF1D20"/>
<path d="M1799 286h4.5v4.5h-4.5z" fill="#FF162A"/>
<path d="M1803 286h4.5v4.5h-4.5z" fill="#FF1034"/>
<path d="M1807 286h4.5v4.5h-4.5z" fill="#FF0A3E"/>
<path d="M1811 286h4.5v4.5h-4.5z" fill="#FF054A"/>
<path d="M1815 286h4.5v4.5h-4.5z" fill="#FF0155"/>
<path d="M1819 286h4.5v4.5h-4.5z" fill="#FF0062"/>
<path d="M1823 286h4.5v4.5h-4.5z" fill="#FF006F"/>
<path d="M1827 286h4.5v4.5h-4.5z" fill="#FF007D"/>
<path d="M1831 286h4.5v4.5h-4.5z" fill="#FF008B"/>
<path d="M1835 286h4.5v4.5h-4.5z" fill="#FF009A"/>
<path d="M1839 286h4.5v4.5h-4.5z" fill="#FF00AA"/>
<path d="M1775 290h4.5v4.5h-4.5z" fill="#FF4C00"/>
<path d="M1779 290h4.5v4.5h-4.5z" fill="#FF4304"/>
<path d="M1783 290h4.5v4.5h-4.5z" fill="#FF3B0A"/>
<path d="M1787 290h4.5v4.5h-4.5z" fill="#FF3311"/>
<path d="M1791 290h4.5v4.5h-4.5z" fill="#FF2B19"/>
<path d="M1795 290h4.5v4.5h-4.5z" fill="#FF2422"/>
<path d="M1799 290h4.5v4.5h-4.5z" fill="#FF1D2B"/>
<path d="M1803 290h4.5v4.5h-4.5z" fill="#FF1636"/>
<path d="M1807 290h4.5v4.5h-4.5z" fill="#FF0F41"/>
<path d="M1811 290h4.5v4.5h-4.5z" fill="#FF094C"/>
<path d="M1815 290h4.5v4.5h-4.5z" fill="#FF0459"/>
<path d="M1819 290h4.5v4.5h-4.5z" fill="#FF0166"/>
<path d="M1827 290h4.5v4.5h-4.5z" fill="#FF0082"/>
<path d="M1831 290h4.5v4.5h-4.5z" fill="#FF0091"/>
<path d="M1835 290h4.5v4.5h-4.5z" fill="#FF00A0"/>
<path d="M1839 290h4.5v4.5h-4.5z" fill="#FF00B1"/>
<path d="M1843 290h4.5v4.5h-4.5z" fill="#FF00C2"/>
<path d="M1775 294h4.5v4.5h-4.5z" fill="#FF5600"/>
<path d="M1779 294h4.5v4.5h-4.5z" fill="#FF4D04"/>
<path d="M1783 294h4.5v4.5h-4.5z" fill="#FF440A"/>
<path d="M1787 294h4.5v4.5h-4.5z" fill="#FF3C11"/>
<path d="M1791 294h4.5v4.5h-4.5z" fill="#FF331A"/>
<path d="M1795 294h4.5v4.5h-4.5z" fill="#FF2B23"/>
<path d="M1799 294h4.5v4.5h-4.5z" fill="#FF242D"/>
<path d="M1803 294h4.5v4.5h-4.5z" fill="#FF1C38"/>
<path d="M1807 294h4.5v4.5h-4.5z" fill="#FF1543"/>
<path d="M1811 294h4.5v4.5h-4.5z" fill="#FF0E50"/>
<path d="M1815 294h4.5v4.5h-4.5z" fill="#FF085C"/>
<path d="M1819 294h4.5v4.5h-4.5z" fill="#FF036A"/>
<path d="M1827 294h4.5v4.5h-4.5z" fill="#FF0087"/>
<path d="M1831 294h4.5v4.5h-4.5z" fill="#FF0097"/>
<path d="M1835 294h4.5v4.5h-4.5z" fill="#FF00A7"/>
<path d="M1839 294h4.5v4.5h-4.5z" fill="#FF00B8"/>
<path d="M1843 294h4.5v4.5h-4.5z" fill="#FF00CA"/>
<path d="M1775 298h4.5v4.5h-4.5z" fill="#FF6100"/>
<path d="M1779 298h4.5v4.5h-4.5z" fill="#FF5704"/>
<path d="M1783 298h4.5v4.5h-4.5z" fill="#FF4E0B"/>
<path d="M1787 298h4.5v4.5h-4.5z" fill="#FF4512"/>
<path d="M1791 298h4.5v4.5h-4.5z" fill="#FF3C1B"/>
<path d="M1795 298h4.5v4.5h-4.5z" fill="#FF3424"/>
<path d="M1799 298h4.5v4.5h-4.5z" fill="#FF2B2F"/>
<path d="M1803 298h4.5v4.5h-4.5z" fill="#FF233A"/>
<path d="M1807 298h4.5v4.5h-4.5z" fill="#FF1C46"/>
<path d="M1811 298h4.5v4.5h-4.5z" fill="#FF1453"/>
<path d="M1815 298h4.5v4.5h-4.5z" fill="#FF0D60"/>
<path d="M1819 298h4.5v4.5h-4.5z" fill="#FF076F"/>
<path d="M1823 298h4.5v4.5h-4.5z" fill="#FF027D"/>
<path d="M1827 298h4.5v4.5h-4.5z" fill="#FF008D"/>
<path d="M1831 298h4.5v4.5h-4.5z" fill="#FF009D"/>
<path d="M1835 298h4.5v4.5h-4.5z" fill="#FF00AE"/>
<path d="M1839 298h4.5v4.5h-4.5z" fill="#FF00C0"/>
<path d="M1843 298h4.5v4.5h-4.5z" fill="#FF00D3"/>
<path d="M1847 298h4.5v4.5h-4.5z" fill="#FF00E6"/>
<path d="M1775 302h4.5v4.5h-4.5z" fill="#FF6D00"/>
<path d="M1779 302h4.5v4.5h-4.5z" fill="#FF6304"/>
<path d="M1783 302h4.5v4.5h-4.5z" fill="#FF590B"/>
<path d="M1787 302h4.5v4.5h-4.5z" fill="#FF5013"/>
<path d="M1791 302h4.5v4.5h-4.5z" fill="#FF461C"/>
<path d="M1795 302h4.5v4.5h-4.5z" fill="#FF3D26"/>
<path d="M1799 302h4.5v4.5h-4.5z" fill="#FF3431"/>
<path d="M1803 302h4.5v4.5h-4.5z" fill="#FF2B3C"/>
<path d="M1807 302h4.5v4.5h-4.5z" fill="#FF2349"/>
<path d="M1811 302h4.5v4.5h-4.5z" fill="#FF1B56"/>
<path d="M1815 302h4.5v4.5h-4.5z" fill="#FF1364"/>
<path d="M1819 302h4.5v4.5h-4.5z" fill="#FF0D73"/>
<path d="M1823 302h4.5v4.5h-4.5z" fill="#FF0683"/>
<path d="M1827 302h4.5v4.5h-4.5z" fill="#FF0293"/>
<path d="M1831 302h4.5v4.5h-4.5z" fill="#FF00A4"/>
<path d="M1835 302h4.5v4.5h-4.5z" fill="#FF00B6"/>
<path d="M1839 302h4.5v4.5h-4.5z" fill="#FF00C9"/>
<path d="M1843 302h4.5v4.5h-4.5zM1839 310h4.5v4.5h-4.5z" fill="#FF00DC"/>
<path d="M1847 302h4.5v4.5h-4.5z" fill="#FF00F0"/>
<path d="M1851 302h4.5v4.5h-4.5z" fill="#F900FF"/>
<path d="M1775 306h4.5v4.5h-4.5z" fill="#FF7A00"/>
<path d="M1779 306h4.5v4.5h-4.5z" fill="#FF6F05"/>
<path d="M1783 306h4.5v4.5h-4.5z" fill="#FF650B"/>
<path d="M1787 306h4.5v4.5h-4.5z" fill="#FF5B14"/>
<path d="M1791 306h4.5v4.5h-4.5z" fill="#FF511D"/>
<path d="M1795 306h4.5v4.5h-4.5z" fill="#FF4728"/>
<path d="M1799 306h4.5v4.5h-4.5z" fill="#FF3E33"/>
<path d="M1803 306h4.5v4.5h-4.5z" fill="#FF353F"/>
<path d="M1807 306h4.5v4.5h-4.5z" fill="#FF2B4C"/>
<path d="M1811 306h4.5v4.5h-4.5z" fill="#FF235A"/>
<path d="M1815 306h4.5v4.5h-4.5z" fill="#FF1A69"/>
<path d="M1819 306h4.5v4.5h-4.5z" fill="#FF1379"/>
<path d="M1823 306h4.5v4.5h-4.5z" fill="#FF0C89"/>
<path d="M1827 306h4.5v4.5h-4.5z" fill="#FF059A"/>
<path d="M1831 306h4.5v4.5h-4.5z" fill="#FF01AC"/>
<path d="M1835 306h4.5v4.5h-4.5z" fill="#FF00BF"/>
<path d="M1839 306h4.5v4.5h-4.5z" fill="#FF00D2"/>
<path d="M1843 306h4.5v4.5h-4.5z" fill="#FF00E7"/>
<path d="M1847 306h4.5v4.5h-4.5z" fill="#FF00FC"/>
<path d="M1851 306h4.5v4.5h-4.5z" fill="#ED00FF"/>
<path d="M1855 306h4.5v4.5h-4.5z" fill="#DB00FF"/>
<path d="M1775 310h4.5v4.5h-4.5z" fill="#FF8800"/>
<path d="M1779 310h4.5v4.5h-4.5z" fill="#FF7D05"/>
<path d="M1783 310h4.5v4.5h-4.5z" fill="#FF730C"/>
<path d="M1787 310h4.5v4.5h-4.5z" fill="#FF6815"/>
<path d="M1791 310h4.5v4.5h-4.5z" fill="#FF5D1E"/>
<path d="M1795 310h4.5v4.5h-4.5z" fill="#FF5329"/>
<path d="M1799 310h4.5v4.5h-4.5z" fill="#FF4935"/>
<path d="M1803 310h4.5v4.5h-4.5z" fill="#FF3F42"/>
<path d="M1807 310h4.5v4.5h-4.5z" fill="#FF3550"/>
<path d="M1811 310h4.5v4.5h-4.5z" fill="#FF2C5E"/>
<path d="M1815 310h4.5v4.5h-4.5z" fill="#FF226E"/>
<path d="M1819 310h4.5v4.5h-4.5z" fill="#FF1A7E"/>
<path d="M1823 310h4.5v4.5h-4.5z" fill="#FF128F"/>
<path d="M1827 310h4.5v4.5h-4.5z" fill="#FF0AA1"/>
<path d="M1831 310h4.5v4.5h-4.5z" fill="#FF04B4"/>
<path d="M1835 310h4.5v4.5h-4.5z" fill="#FF00C8"/>
<path d="M1843 310h4.5v4.5h-4.5z" fill="#FF00F2"/>
<path d="M1847 310h4.5v4.5h-4.5z" fill="#F600FF"/>
<path d="M1851 310h4.5v4.5h-4.5z" fill="#E200FF"/>
<path d="M1855 310h4.5v4.5h-4.5z" fill="#D100FF"/>
<path d="M1775 314h4.5v4.5h-4.5z" fill="#FF9800"/>
<path d="M1779 314h4.5v4.5h-4.5z" fill="#FF8C05"/>
<path d="M1783 314h4.5v4.5h-4.5z" fill="#FF810C"/>
<path d="M1787 314h4.5v4.5h-4.5z" fill="#FF7615"/>
<path d="M1791 314h4.5v4.5h-4.5z" fill="#FF6B20"/>
<path d="M1795 314h4.5v4.5h-4.5z" fill="#FF602B"/>
<path d="M1799 314h4.5v4.5h-4.5z" fill="#FF5538"/>
<path d="M1803 314h4.5v4.5h-4.5z" fill="#FF4A45"/>
<path d="M1807 314h4.5v4.5h-4.5z" fill="#FF4053"/>
<path d="M1811 314h4.5v4.5h-4.5z" fill="#FF3563"/>
<path d="M1815 314h4.5v4.5h-4.5z" fill="#FF2C73"/>
<path d="M1819 314h4.5v4.5h-4.5z" fill="#FF2284"/>
<path d="M1823 314h4.5v4.5h-4.5z" fill="#FF1996"/>
<path d="M1827 314h4.5v4.5h-4.5z" fill="#FF11A9"/>
<path d="M1831 314h4.5v4.5h-4.5z" fill="#FF09BD"/>
<path d="M1835 314h4.5v4.5h-4.5z" fill="#FF03D2"/>
<path d="M1839 314h4.5v4.5h-4.5z" fill="#FF00E8"/>
<path d="M1843 314h4.5v4.5h-4.5z" fill="#FF00FE"/>
<path d="M1847 314h4.5v4.5h-4.5z" fill="#EA00FF"/>
<path d="M1851 314h4.5v4.5h-4.5z" fill="#D700FF"/>
<path d="M1855 314h4.5v4.5h-4.5z" fill="#C600FF"/>
<path d="M1859 314h4.5v4.5h-4.5zM1851 326h4.5v4.5h-4.5z" fill="#B700FF"/>
<path d="M1775 318h4.5v4.5h-4.5z" fill="#FFA900"/>
<path d="M1779 318h4.5v4.5h-4.5z" fill="#FF9D05"/>
<path d="M1783 318h4.5v4.5h-4.5z" fill="#FF910D"/>
<path d="M1787 318h4.5v4.5h-4.5z" fill="#FF8516"/>
<path d="M1791 318h4.5v4.5h-4.5z" fill="#FF7921"/>
<path d="M1795 318h4.5v4.5h-4.5z" fill="#FF6E2D"/>
<path d="M1799 318h4.5v4.5h-4.5z" fill="#FF623A"/>
<path d="M1803 318h4.5v4.5h-4.5z" fill="#FF5748"/>
<path d="M1807 318h4.5v4.5h-4.5z" fill="#FF4C58"/>
<path d="M1811 318h4.5v4.5h-4.5z" fill="#FF4168"/>
<path d="M1815 318h4.5v4.5h-4.5z" fill="#FF3679"/>
<path d="M1819 318h4.5v4.5h-4.5z" fill="#FF2C8B"/>
<path d="M1823 318h4.5v4.5h-4.5z" fill="#FF229E"/>
<path d="M1827 318h4.5v4.5h-4.5z" fill="#FF18B2"/>
<path d="M1831 318h4.5v4.5h-4.5z" fill="#FF10C7"/>
<path d="M1835 318h4.5v4.5h-4.5z" fill="#FF08DD"/>
<path d="M1839 318h4.5v4.5h-4.5z" fill="#FF02F4"/>
<path d="M1843 318h4.5v4.5h-4.5z" fill="#F300FF"/>
<path d="M1847 318h4.5v4.5h-4.5z" fill="#DE00FF"/>
<path d="M1851 318h4.5v4.5h-4.5z" fill="#CC00FF"/>
<path d="M1855 318h4.5v4.5h-4.5z" fill="#BC00FF"/>
<path d="M1859 318h4.5v4.5h-4.5z" fill="#AE00FF"/>
<path d="M1863 318h4.5v4.5h-4.5z" fill="#A100FF"/>
<path d="M1775 322h4.5v4.5h-4.5z" fill="#FFBC00"/>
<path d="M1779 322h4.5v4.5h-4.5z" fill="#FFAF06"/>
<path d="M1783 322h4.5v4.5h-4.5z" fill="#FFA30E"/>
<path d="M1787 322h4.5v4.5h-4.5z" fill="#FF9618"/>
<path d="M1791 322h4.5v4.5h-4.5z" fill="#FF8A23"/>
<path d="M1795 322h4.5v4.5h-4.5z" fill="#FF7D2F"/>
<path d="M1799 322h4.5v4.5h-4.5z" fill="#FF713D"/>
<path d="M1803 322h4.5v4.5h-4.5z" fill="#FF654C"/>
<path d="M1807 322h4.5v4.5h-4.5z" fill="#FF595C"/>
<path d="M1811 322h4.5v4.5h-4.5z" fill="#FF4D6D"/>
<path d="M1815 322h4.5v4.5h-4.5z" fill="#FF427F"/>
<path d="M1819 322h4.5v4.5h-4.5z" fill="#FF3692"/>
<path d="M1823 322h4.5v4.5h-4.5z" fill="#FF2CA6"/>
<path d="M1827 322h4.5v4.5h-4.5z" fill="#FF21BB"/>
<path d="M1831 322h4.5v4.5h-4.5z" fill="#FF18D1"/>
<path d="M1835 322h4.5v4.5h-4.5z" fill="#FF0FE9"/>
<path d="M1839 322h4.5v4.5h-4.5z" fill="#FD07FF"/>
<path d="M1843 322h4.5v4.5h-4.5z" fill="#E601FF"/>
<path d="M1847 322h4.5v4.5h-4.5z" fill="#D300FF"/>
<path d="M1851 322h4.5v4.5h-4.5z" fill="#C100FF"/>
<path d="M1855 322h4.5v4.5h-4.5z" fill="#B200FF"/>
<path d="M1859 322h4.5v4.5h-4.5z" fill="#A500FF"/>
<path d="M1863 322h4.5v4.5h-4.5z" fill="#9800FF"/>
<path d="M1867 322h4.5v4.5h-4.5z" fill="#8E00FF"/>
<path d="M1775 326h4.5v4.5h-4.5z" fill="#FFD100"/>
<path d="M1779 326h4.5v4.5h-4.5z" fill="#FFC406"/>
<path d="M1783 326h4.5v4.5h-4.5z" fill="#FFB60E"/>
<path d="M1787 326h4.5v4.5h-4.5z" fill="#FFA919"/>
<path d="M1791 326h4.5v4.5h-4.5z" fill="#FF9C25"/>
<path d="M1795 326h4.5v4.5h-4.5z" fill="#FF8F32"/>
<path d="M1799 326h4.5v4.5h-4.5z" fill="#FF8240"/>
<path d="M1803 326h4.5v4.5h-4.5z" fill="#FF7550"/>
<path d="M1807 326h4.5v4.5h-4.5z" fill="#FF6861"/>
<path d="M1811 326h4.5v4.5h-4.5z" fill="#FF5B73"/>
<path d="M1815 326h4.5v4.5h-4.5z" fill="#FF4F86"/>
<path d="M1819 326h4.5v4.5h-4.5z" fill="#FF439A"/>
<path d="M1823 326h4.5v4.5h-4.5z" fill="#FF37AF"/>
<path d="M1827 326h4.5v4.5h-4.5z" fill="#FF2CC5"/>
<path d="M1831 326h4.5v4.5h-4.5z" fill="#FF21DD"/>
<path d="M1835 326h4.5v4.5h-4.5z" fill="#FF17F6"/>
<path d="M1839 326h4.5v4.5h-4.5z" fill="#F00DFF"/>
<path d="M1843 326h4.5v4.5h-4.5z" fill="#DA05FF"/>
<path d="M1847 326h4.5v4.5h-4.5z" fill="#C700FF"/>
<path d="M1855 326h4.5v4.5h-4.5z" fill="#A800FF"/>
<path d="M1859 326h4.5v4.5h-4.5z" fill="#9B00FF"/>
<path d="M1863 326h4.5v4.5h-4.5z" fill="#9000FF"/>
<path d="M1867 326h4.5v4.5h-4.5z" fill="#8600FF"/>
<path d="M1775 330h4.5v4.5h-4.5z" fill="#FFE800"/>
<path d="M1779 330h4.5v4.5h-4.5z" fill="#FFDA06"/>
<path d="M1783 330h4.5v4.5h-4.5z" fill="#FFCC0F"/>
<path d="M1787 330h4.5v4.5h-4.5z" fill="#FFBE1A"/>
<path d="M1791 330h4.5v4.5h-4.5z" fill="#FFB027"/>
<path d="M1795 330h4.5v4.5h-4.5z" fill="#FFA234"/>
<path d="M1799 330h4.5v4.5h-4.5z" fill="#FF9444"/>
<path d="M1803 330h4.5v4.5h-4.5z" fill="#FF8754"/>
<path d="M1807 330h4.5v4.5h-4.5z" fill="#FF7966"/>
<path d="M1811 330h4.5v4.5h-4.5z" fill="#FF6B79"/>
<path d="M1815 330h4.5v4.5h-4.5z" fill="#FF5E8D"/>
<path d="M1819 330h4.5v4.5h-4.5z" fill="#FF51A2"/>
<path d="M1823 330h4.5v4.5h-4.5z" fill="#FF44B9"/>
<path d="M1827 330h4.5v4.5h-4.5z" fill="#FF38D1"/>
<path d="M1831 330h4.5v4.5h-4.5z" fill="#FF2CEA"/>
<path d="M1835 330h4.5v4.5h-4.5z" fill="#FA20FF"/>
<path d="M1839 330h4.5v4.5h-4.5z" fill="#E213FF"/>
<path d="M1843 330h4.5v4.5h-4.5z" fill="#CE0AFF"/>
<path d="M1847 330h4.5v4.5h-4.5z" fill="#BC03FF"/>
<path d="M1851 330h4.5v4.5h-4.5z" fill="#AC00FF"/>
<path d="M1855 330h4.5v4.5h-4.5z" fill="#9E00FF"/>
<path d="M1859 330h4.5v4.5h-4.5z" fill="#9200FF"/>
<path d="M1863 330h4.5v4.5h-4.5z" fill="#8700FF"/>
<path d="M1867 330h4.5v4.5h-4.5z" fill="#7E00FF"/>
<path d="M1871 330h4.5v4.5h-4.5z" fill="#7500FF"/>
<path d="M1775 334h4.5v4.5h-4.5z" fill="#FDFF00"/>
<path d="M1779 334h4.5v4.5h-4.5z" fill="#FFF306"/>
<path d="M1783 334h4.5v4.5h-4.5z" fill="#FFE410"/>
<path d="M1787 334h4.5v4.5h-4.5z" fill="#FFD51B"/>
<path d="M1791 334h4.5v4.5h-4.5z" fill="#FFC729"/>
<path d="M1795 334h4.5v4.5h-4.5z" fill="#FFB837"/>
<path d="M1799 334h4.5v4.5h-4.5z" fill="#FFA948"/>
<path d="M1803 334h4.5v4.5h-4.5z" fill="#FF9B59"/>
<path d="M1807 334h4.5v4.5h-4.5z" fill="#FF8C6C"/>
<path d="M1811 334h4.5v4.5h-4.5z" fill="#FF7E80"/>
<path d="M1815 334h4.5v4.5h-4.5z" fill="#FF6F95"/>
<path d="M1819 334h4.5v4.5h-4.5z" fill="#FF61AC"/>
<path d="M1823 334h4.5v4.5h-4.5z" fill="#FF53C4"/>
<path d="M1827 334h4.5v4.5h-4.5z" fill="#FF46DD"/>
<path d="M1831 334h4.5v4.5h-4.5z" fill="#FF38F8"/>
<path d="M1835 334h4.5v4.5h-4.5z" fill="#EC28FF"/>
<path d="M1839 334h4.5v4.5h-4.5z" fill="#D51AFF"/>
<path d="M1843 334h4.5v4.5h-4.5z" fill="#C210FF"/>
<path d="M1847 334h4.5v4.5h-4.5z" fill="#B107FF"/>
<path d="M1851 334h4.5v4.5h-4.5z" fill="#A202FF"/>
<path d="M1855 334h4.5v4.5h-4.5z" fill="#9500FF"/>
<path d="M1859 334h4.5v4.5h-4.5z" fill="#8900FF"/>
<path d="M1863 334h4.5v4.5h-4.5z" fill="#7F00FF"/>
<path d="M1867 334h4.5v4.5h-4.5z" fill="#7600FF"/>
<path d="M1871 334h4.5v4.5h-4.5z" fill="#6D00FF"/>
<path d="M1875 334h4.5v4.5h-4.5zM1871 338h4.5v4.5h-4.5zM1867 342h4.5v4.5h-4.5z" fill="#6600FF"/>
<path d="M1775 338h4.5v4.5h-4.5z" fill="#E4FF00"/>
<path d="M1779 338h4.5v4.5h-4.5z" fill="#F1FF06"/>
<path d="M1783 338h4.5v4.5h-4.5z" fill="#FFFF11"/>
<path d="M1787 338h4.5v4.5h-4.5z" fill="#FFEF1D"/>
<path d="M1791 338h4.5v4.5h-4.5z" fill="#FFE02B"/>
<path d="M1795 338h4.5v4.5h-4.5z" fill="#FFD03B"/>
<path d="M1799 338h4.5v4.5h-4.5z" fill="#FFC14C"/>
<path d="M1803 338h4.5v4.5h-4.5z" fill="#FFB15E"/>
<path d="M1807 338h4.5v4.5h-4.5z" fill="#FFA172"/>
<path d="M1811 338h4.5v4.5h-4.5z" fill="#FF9288"/>
<path d="M1815 338h4.5v4.5h-4.5z" fill="#FF839E"/>
<path d="M1819 338h4.5v4.5h-4.5z" fill="#FF73B7"/>
<path d="M1823 338h4.5v4.5h-4.5z" fill="#FF64D0"/>
<path d="M1827 338h4.5v4.5h-4.5z" fill="#FF56EB"/>
<path d="M1831 338h4.5v4.5h-4.5z" fill="#F745FF"/>
<path d="M1835 338h4.5v4.5h-4.5z" fill="#DE32FF"/>
<path d="M1839 338h4.5v4.5h-4.5z" fill="#C822FF"/>
<path d="M1843 338h4.5v4.5h-4.5z" fill="#B616FF"/>
<path d="M1847 338h4.5v4.5h-4.5z" fill="#A60DFF"/>
<path d="M1851 338h4.5v4.5h-4.5z" fill="#9805FF"/>
<path d="M1855 338h4.5v4.5h-4.5z" fill="#8B01FF"/>
<path d="M1859 338h4.5v4.5h-4.5z" fill="#8000FF"/>
<path d="M1863 338h4.5v4.5h-4.5z" fill="#7700FF"/>
<path d="M1867 338h4.5v4.5h-4.5z" fill="#6E00FF"/>
<path d="M1875 338h4.5v4.5h-4.5zM1871 342h4.5v4.5h-4.5zM1867 346h4.5v4.5h-4.5z" fill="#5F00FF"/>
<path d="M1879 338h4.5v4.5h-4.5z" fill="#5900FF"/>
<path d="M1775 342h4.5v4.5h-4.5z" fill="#CDFF00"/>
<path d="M1779 342h4.5v4.5h-4.5z" fill="#D8FF06"/>
<path d="M1783 342h4.5v4.5h-4.5z" fill="#E4FF10"/>
<path d="M1787 342h4.5v4.5h-4.5z" fill="#F2FF1D"/>
<path d="M1791 342h4.5v4.5h-4.5z" fill="#FFFC2E"/>
<path d="M1795 342h4.5v4.5h-4.5z" fill="#FFEB3E"/>
<path d="M1799 342h4.5v4.5h-4.5z" fill="#FFDB50"/>
<path d="M1803 342h4.5v4.5h-4.5z" fill="#FFCA64"/>
<path d="M1807 342h4.5v4.5h-4.5z" fill="#FFBA79"/>
<path d="M1811 342h4.5v4.5h-4.5z" fill="#FFA990"/>
<path d="M1815 342h4.5v4.5h-4.5z" fill="#FF99A8"/>
<path d="M1819 342h4.5v4.5h-4.5z" fill="#FF88C2"/>
<path d="M1823 342h4.5v4.5h-4.5z" fill="#FF78DE"/>
<path d="M1827 342h4.5v4.5h-4.5z" fill="#FF68FB"/>
<path d="M1831 342h4.5v4.5h-4.5z" fill="#E750FF"/>
<path d="M1835 342h4.5v4.5h-4.5z" fill="#D03CFF"/>
<path d="M1839 342h4.5v4.5h-4.5z" fill="#BB2BFF"/>
<path d="M1843 342h4.5v4.5h-4.5z" fill="#AA1DFF"/>
<path d="M1847 342h4.5v4.5h-4.5z" fill="#9B12FF"/>
<path d="M1851 342h4.5v4.5h-4.5z" fill="#8E0AFF"/>
<path d="M1855 342h4.5v4.5h-4.5z" fill="#8204FF"/>
<path d="M1859 342h4.5v4.5h-4.5z" fill="#7800FF"/>
<path d="M1863 342h4.5v4.5h-4.5z" fill="#6F00FF"/>
<path d="M1875 342h4.5v4.5h-4.5zM1871 346h4.5v4.5h-4.5zM1867 350h4.5v4.5h-4.5z" fill="#5800FF"/>
<path d="M1879 342h4.5v4.5h-4.5zM1875 346h4.5v4.5h-4.5z" fill="#5200FF"/>
<path d="M1775 346h4.5v4.5h-4.5z" fill="#B9FF00"/>
<path d="M1779 346h4.5v4.5h-4.5z" fill="#C2FF06"/>
<path d="M1783 346h4.5v4.5h-4.5z" fill="#CCFF0F"/>
<path d="M1787 346h4.5v4.5h-4.5z" fill="#D8FF1C"/>
<path d="M1791 346h4.5v4.5h-4.5z" fill="#E5FF2B"/>
<path d="M1795 346h4.5v4.5h-4.5z" fill="#F4FF3F"/>
<path d="M1799 346h4.5v4.5h-4.5z" fill="#FFF955"/>
<path d="M1803 346h4.5v4.5h-4.5z" fill="#FFE76A"/>
<path d="M1807 346h4.5v4.5h-4.5z" fill="#FFD581"/>
<path d="M1811 346h4.5v4.5h-4.5z" fill="#FFC49A"/>
<path d="M1815 346h4.5v4.5h-4.5z" fill="#FFB2B4"/>
<path d="M1819 346h4.5v4.5h-4.5z" fill="#FFA1CF"/>
<path d="M1823 346h4.5v4.5h-4.5z" fill="#FF8FED"/>
<path d="M1827 346h4.5v4.5h-4.5z" fill="#F378FF"/>
<path d="M1831 346h4.5v4.5h-4.5z" fill="#D85CFF"/>
<path d="M1835 346h4.5v4.5h-4.5z" fill="#C246FF"/>
<path d="M1839 346h4.5v4.5h-4.5z" fill="#AF34FF"/>
<path d="M1843 346h4.5v4.5h-4.5z" fill="#9E25FF"/>
<path d="M1847 346h4.5v4.5h-4.5z" fill="#9019FF"/>
<path d="M1851 346h4.5v4.5h-4.5z" fill="#840FFF"/>
<path d="M1855 346h4.5v4.5h-4.5z" fill="#7908FF"/>
<path d="M1859 346h4.5v4.5h-4.5z" fill="#6F02FF"/>
<path d="M1863 346h4.5v4.5h-4.5z" fill="#6700FF"/>
<path d="M1879 346h4.5v4.5h-4.5z" fill="#4C00FF"/>
<path d="M1883 346h4.5v4.5h-4.5z" fill="#4700FF"/>
<path d="M1775 350h4.5v4.5h-4.5z" fill="#A6FF00"/>
<path d="M1779 350h4.5v4.5h-4.5z" fill="#AEFF06"/>
<path d="M1783 350h4.5v4.5h-4.5z" fill="#B7FF0E"/>
<path d="M1787 350h4.5v4.5h-4.5z" fill="#C0FF1A"/>
<path d="M1791 350h4.5v4.5h-4.5z" fill="#CCFF29"/>
<path d="M1795 350h4.5v4.5h-4.5z" fill="#D8FF3C"/>
<path d="M1799 350h4.5v4.5h-4.5z" fill="#E6FF52"/>
<path d="M1803 350h4.5v4.5h-4.5z" fill="#F6FF6E"/>
<path d="M1807 350h4.5v4.5h-4.5z" fill="#FFF58A"/>
<path d="M1811 350h4.5v4.5h-4.5z" fill="#FFE2A4"/>
<path d="M1815 350h4.5v4.5h-4.5z" fill="#FFCFC0"/>
<path d="M1819 350h4.5v4.5h-4.5z" fill="#FFBCDE"/>
<path d="M1823 350h4.5v4.5h-4.5z" fill="#FFA9FE"/>
<path d="M1827 350h4.5v4.5h-4.5z" fill="#E286FF"/>
<path d="M1831 350h4.5v4.5h-4.5z" fill="#C968FF"/>
<path d="M1835 350h4.5v4.5h-4.5z" fill="#B450FF"/>
<path d="M1839 350h4.5v4.5h-4.5z" fill="#A33DFF"/>
<path d="M1843 350h4.5v4.5h-4.5z" fill="#932DFF"/>
<path d="M1847 350h4.5v4.5h-4.5z" fill="#8620FF"/>
<path d="M1851 350h4.5v4.5h-4.5z" fill="#7A15FF"/>
<path d="M1855 350h4.5v4.5h-4.5z" fill="#700DFF"/>
<path d="M1859 350h4.5v4.5h-4.5z" fill="#6706FF"/>
<path d="M1863 350h4.5v4.5h-4.5z" fill="#5F01FF"/>
<path d="M1871 350h4.5v4.5h-4.5z" fill="#5100FF"/>
<path d="M1875 350h4.5v4.5h-4.5z" fill="#4B00FF"/>
<path d="M1879 350h4.5v4.5h-4.5z" fill="#4600FF"/>
<path d="M1883 350h4.5v4.5h-4.5z" fill="#4100FF"/>
<path d="M1887 350h4.5v4.5h-4.5z" fill="#3D00FF"/>
<path d="M1775 354h4.5v4.5h-4.5z" fill="#95FF00"/>
<path d="M1779 354h4.5v4.5h-4.5z" fill="#9CFF05"/>
<path d="M1783 354h4.5v4.5h-4.5z" fill="#A3FF0E"/>
<path d="M1787 354h4.5v4.5h-4.5z" fill="#ABFF19"/>
<path d="M1791 354h4.5v4.5h-4.5z" fill="#B4FF27"/>
<path d="M1795 354h4.5v4.5h-4.5z" fill="#BFFF38"/>
<path d="M1799 354h4.5v4.5h-4.5z" fill="#CBFF4D"/>
<path d="M1803 354h4.5v4.5h-4.5z" fill="#D8FF67"/>
<path d="M1807 354h4.5v4.5h-4.5z" fill="#E7FF86"/>
<path d="M1811 354h4.5v4.5h-4.5z" fill="#F9FFAC"/>
<path d="M1815 354h4.5v4.5h-4.5z" fill="#FFF1CE"/>
<path d="M1819 354h4.5v4.5h-4.5z" fill="#FFDCEF"/>
<path d="M1823 354h4.5v4.5h-4.5z" fill="#EEBBFF"/>
<path d="M1827 354h4.5v4.5h-4.5z" fill="#D294FF"/>
<path d="M1831 354h4.5v4.5h-4.5z" fill="#BB75FF"/>
<path d="M1835 354h4.5v4.5h-4.5z" fill="#A75BFF"/>
<path d="M1839 354h4.5v4.5h-4.5z" fill="#9746FF"/>
<path d="M1843 354h4.5v4.5h-4.5z" fill="#8835FF"/>
<path d="M1847 354h4.5v4.5h-4.5z" fill="#7C27FF"/>
<path d="M1851 354h4.5v4.5h-4.5z" fill="#711BFF"/>
<path d="M1855 354h4.5v4.5h-4.5z" fill="#6712FF"/>
<path d="M1859 354h4.5v4.5h-4.5z" fill="#5F0AFF"/>
<path d="M1863 354h4.5v4.5h-4.5z" fill="#5704FF"/>
<path d="M1867 354h4.5v4.5h-4.5z" fill="#5101FF"/>
<path d="M1871 354h4.5v4.5h-4.5z" fill="#4A00FF"/>
<path d="M1875 354h4.5v4.5h-4.5z" fill="#4500FF"/>
<path d="M1879 354h4.5v4.5h-4.5z" fill="#4000FF"/>
<path d="M1883 354h4.5v4.5h-4.5z" fill="#3C00FF"/>
<path d="M1887 354h4.5v4.5h-4.5z" fill="#3700FF"/>
<path d="M1891 354h4.5v4.5h-4.5z" fill="#3400FF"/>
<path d="M1775 358h4.5v4.5h-4.5z" fill="#86FF00"/>
<path d="M1779 358h4.5v4.5h-4.5z" fill="#8BFF05"/>
<path d="M1783 358h4.5v4.5h-4.5z" fill="#91FF0D"/>
<path d="M1787 358h4.5v4.5h-4.5z" fill="#98FF18"/>
<path d="M1791 358h4.5v4.5h-4.5z" fill="#A0FF25"/>
<path d="M1795 358h4.5v4.5h-4.5z" fill="#A8FF35"/>
<path d="M1799 358h4.5v4.5h-4.5z" fill="#B2FF49"/>
<path d="M1803 358h4.5v4.5h-4.5z" fill="#BDFF61"/>
<path d="M1807 358h4.5v4.5h-4.5z" fill="#C9FF7E"/>
<path d="M1811 358h4.5v4.5h-4.5z" fill="#D8FFA1"/>
<path d="M1815 358h4.5v4.5h-4.5z" fill="#E9FFCB"/>
<path d="M1819 358h4.5v4.5h-4.5z" fill="#FCFFFF"/>
<path d="M1823 358h4.5v4.5h-4.5z" fill="#DCCCFF"/>
<path d="M1827 358h4.5v4.5h-4.5z" fill="#C2A3FF"/>
<path d="M1831 358h4.5v4.5h-4.5z" fill="#AD82FF"/>
<path d="M1835 358h4.5v4.5h-4.5z" fill="#9A67FF"/>
<path d="M1839 358h4.5v4.5h-4.5z" fill="#8B50FF"/>
<path d="M1843 358h4.5v4.5h-4.5z" fill="#7D3EFF"/>
<path d="M1847 358h4.5v4.5h-4.5z" fill="#722FFF"/>
<path d="M1851 358h4.5v4.5h-4.5z" fill="#6822FF"/>
<path d="M1855 358h4.5v4.5h-4.5z" fill="#5F18FF"/>
<path d="M1859 358h4.5v4.5h-4.5z" fill="#570FFF"/>
<path d="M1863 358h4.5v4.5h-4.5z" fill="#5008FF"/>
<path d="M1867 358h4.5v4.5h-4.5z" fill="#4A03FF"/>
<path d="M1871 358h4.5v4.5h-4.5z" fill="#4400FF"/>
<path d="M1875 358h4.5v4.5h-4.5z" fill="#3F00FF"/>
<path d="M1879 358h4.5v4.5h-4.5z" fill="#3A00FF"/>
<path d="M1883 358h4.5v4.5h-4.5z" fill="#3600FF"/>
<path d="M1887 358h4.5v4.5h-4.5z" fill="#3200FF"/>
<path d="M1891 358h4.5v4.5h-4.5zM1879 366h4.5v4.5h-4.5z" fill="#2F00FF"/>
<path d="M1775 362h4.5v4.5h-4.5z" fill="#77FF00"/>
<path d="M1779 362h4.5v4.5h-4.5z" fill="#7CFF05"/>
<path d="M1783 362h4.5v4.5h-4.5z" fill="#81FF0D"/>
<path d="M1787 362h4.5v4.5h-4.5z" fill="#87FF17"/>
<path d="M1791 362h4.5v4.5h-4.5z" fill="#8DFF23"/>
<path d="M1795 362h4.5v4.5h-4.5z" fill="#94FF33"/>
<path d="M1799 362h4.5v4.5h-4.5z" fill="#9CFF45"/>
<path d="M1803 362h4.5v4.5h-4.5z" fill="#A5FF5B"/>
<path d="M1807 362h4.5v4.5h-4.5z" fill="#AFFF76"/>
<path d="M1811 362h4.5v4.5h-4.5z" fill="#BBFF96"/>
<path d="M1815 362h4.5v4.5h-4.5z" fill="#C8FFBD"/>
<path d="M1819 362h4.5v4.5h-4.5z" fill="#D8FFEC"/>
<path d="M1823 362h4.5v4.5h-4.5z" fill="#CBDDFF"/>
<path d="M1827 362h4.5v4.5h-4.5z" fill="#B3B2FF"/>
<path d="M1831 362h4.5v4.5h-4.5z" fill="#9F8FFF"/>
<path d="M1835 362h4.5v4.5h-4.5z" fill="#8E72FF"/>
<path d="M1839 362h4.5v4.5h-4.5z" fill="#7F5BFF"/>
<path d="M1843 362h4.5v4.5h-4.5z" fill="#7347FF"/>
<path d="M1847 362h4.5v4.5h-4.5z" fill="#6837FF"/>
<path d="M1851 362h4.5v4.5h-4.5z" fill="#5F29FF"/>
<path d="M1855 362h4.5v4.5h-4.5z" fill="#561EFF"/>
<path d="M1859 362h4.5v4.5h-4.5z" fill="#4F14FF"/>
<path d="M1863 362h4.5v4.5h-4.5z" fill="#490DFF"/>
<path d="M1867 362h4.5v4.5h-4.5z" fill="#4307FF"/>
<path d="M1871 362h4.5v4.5h-4.5z" fill="#3D02FF"/>
<path d="M1875 362h4.5v4.5h-4.5z" fill="#3900FF"/>
<path d="M1879 362h4.5v4.5h-4.5z" fill="#3500FF"/>
<path d="M1883 362h4.5v4.5h-4.5z" fill="#3100FF"/>
<path d="M1887 362h4.5v4.5h-4.5z" fill="#2D00FF"/>
<path d="M1891 362h4.5v4.5h-4.5z" fill="#2A00FF"/>
<path d="M1895 362h4.5v4.5h-4.5z" fill="#2700FF"/>
<path d="M1775 366h4.5v4.5h-4.5z" fill="#6BFF00"/>
<path d="M1779 366h4.5v4.5h-4.5z" fill="#6EFF05"/>
<path d="M1783 366h4.5v4.5h-4.5z" fill="#73FF0C"/>
<path d="M1787 366h4.5v4.5h-4.5z" fill="#77FF16"/>
<path d="M1791 366h4.5v4.5h-4.5z" fill="#7DFF22"/>
<path d="M1795 366h4.5v4.5h-4.5z" fill="#82FF30"/>
<path d="M1799 366h4.5v4.5h-4.5z" fill="#89FF42"/>
<path d="M1803 366h4.5v4.5h-4.5z" fill="#90FF57"/>
<path d="M1807 366h4.5v4.5h-4.5z" fill="#98FF6F"/>
<path d="M1811 366h4.5v4.5h-4.5z" fill="#A1FF8D"/>
<path d="M1815 366h4.5v4.5h-4.5z" fill="#ACFFB1"/>
<path d="M1819 366h4.5v4.5h-4.5z" fill="#B8FFDC"/>
<path d="M1823 366h4.5v4.5h-4.5z" fill="#BAEFFF"/>
<path d="M1827 366h4.5v4.5h-4.5z" fill="#A4C2FF"/>
<path d="M1831 366h4.5v4.5h-4.5z" fill="#919DFF"/>
<path d="M1835 366h4.5v4.5h-4.5z" fill="#817EFF"/>
<path d="M1839 366h4.5v4.5h-4.5z" fill="#7465FF"/>
<path d="M1843 366h4.5v4.5h-4.5z" fill="#6850FF"/>
<path d="M1847 366h4.5v4.5h-4.5z" fill="#5E3FFF"/>
<path d="M1851 366h4.5v4.5h-4.5z" fill="#5630FF"/>
<path d="M1855 366h4.5v4.5h-4.5z" fill="#4E24FF"/>
<path d="M1859 366h4.5v4.5h-4.5z" fill="#471AFF"/>
<path d="M1863 366h4.5v4.5h-4.5z" fill="#4111FF"/>
<path d="M1867 366h4.5v4.5h-4.5z" fill="#3C0AFF"/>
<path d="M1871 366h4.5v4.5h-4.5z" fill="#3705FF"/>
<path d="M1875 366h4.5v4.5h-4.5z" fill="#3301FF"/>
<path d="M1883 366h4.5v4.5h-4.5z" fill="#2B00FF"/>
<path d="M1887 366h4.5v4.5h-4.5z" fill="#2800FF"/>
<path d="M1891 366h4.5v4.5h-4.5z" fill="#2500FF"/>
<path d="M1895 366h4.5v4.5h-4.5zM1887 370h4.5v4.5h-4.5z" fill="#2300FF"/>
<path d="M1899 366h4.5v4.5h-4.5z" fill="#2000FF"/>
<path d="M1775 370h4.5v4.5h-4.5z" fill="#5FFF00"/>
<path d="M1779 370h4.5v4.5h-4.5z" fill="#62FF04"/>
<path d="M1783 370h4.5v4.5h-4.5z" fill="#66FF0B"/>
<path d="M1787 370h4.5v4.5h-4.5z" fill="#69FF15"/>
<path d="M1791 370h4.5v4.5h-4.5z" fill="#6EFF20"/>
<path d="M1795 370h4.5v4.5h-4.5z" fill="#72FF2E"/>
<path d="M1799 370h4.5v4.5h-4.5z" fill="#77FF3E"/>
<path d="M1803 370h4.5v4.5h-4.5z" fill="#7DFF52"/>
<path d="M1807 370h4.5v4.5h-4.5z" fill="#84FF69"/>
<path d="M1811 370h4.5v4.5h-4.5z" fill="#8BFF85"/>
<path d="M1815 370h4.5v4.5h-4.5z" fill="#93FFA6"/>
<path d="M1819 370h4.5v4.5h-4.5z" fill="#9DFFCD"/>
<path d="M1823 370h4.5v4.5h-4.5z" fill="#A8FFFD"/>
<path d="M1827 370h4.5v4.5h-4.5z" fill="#95D1FF"/>
<path d="M1831 370h4.5v4.5h-4.5z" fill="#84ABFF"/>
<path d="M1835 370h4.5v4.5h-4.5z" fill="#758BFF"/>
<path d="M1839 370h4.5v4.5h-4.5z" fill="#6970FF"/>
<path d="M1843 370h4.5v4.5h-4.5z" fill="#5E5AFF"/>
<path d="M1847 370h4.5v4.5h-4.5z" fill="#5548FF"/>
<path d="M1851 370h4.5v4.5h-4.5z" fill="#4D38FF"/>
<path d="M1855 370h4.5v4.5h-4.5z" fill="#462BFF"/>
<path d="M1859 370h4.5v4.5h-4.5z" fill="#4020FF"/>
<path d="M1863 370h4.5v4.5h-4.5z" fill="#3B17FF"/>
<path d="M1867 370h4.5v4.5h-4.5z" fill="#360FFF"/>
<path d="M1871 370h4.5v4.5h-4.5z" fill="#3109FF"/>
<path d="M1875 370h4.5v4.5h-4.5z" fill="#2D04FF"/>
<path d="M1879 370h4.5v4.5h-4.5z" fill="#2A01FF"/>
<path d="M1883 370h4.5v4.5h-4.5z" fill="#2600FF"/>
<path d="M1891 370h4.5v4.5h-4.5z" fill="#2100FF"/>
<path d="M1895 370h4.5v4.5h-4.5z" fill="#1E00FF"/>
<path d="M1899 370h4.5v4.5h-4.5zM1891 374h4.5v4.5h-4.5z" fill="#1C00FF"/>
<path d="M1903 370h4.5v4.5h-4.5zM1895 374h4.5v4.5h-4.5zM1887 378h4.5v4.5h-4.5z" fill="#1A00FF"/>
<path d="M1775 374h4.5v4.5h-4.5z" fill="#54FF00"/>
<path d="M1779 374h4.5v4.5h-4.5z" fill="#57FF04"/>
<path d="M1783 374h4.5v4.5h-4.5z" fill="#59FF0B"/>
<path d="M1787 374h4.5v4.5h-4.5z" fill="#5DFF14"/>
<path d="M1791 374h4.5v4.5h-4.5z" fill="#60FF1F"/>
<path d="M1795 374h4.5v4.5h-4.5z" fill="#64FF2C"/>
<path d="M1799 374h4.5v4.5h-4.5z" fill="#68FF3B"/>
<path d="M1803 374h4.5v4.5h-4.5z" fill="#6CFF4E"/>
<path d="M1807 374h4.5v4.5h-4.5z" fill="#72FF64"/>
<path d="M1811 374h4.5v4.5h-4.5z" fill="#77FF7E"/>
<path d="M1815 374h4.5v4.5h-4.5z" fill="#7EFF9C"/>
<path d="M1819 374h4.5v4.5h-4.5z" fill="#85FFC1"/>
<path d="M1823 374h4.5v4.5h-4.5z" fill="#8EFFEC"/>
<path d="M1827 374h4.5v4.5h-4.5z" fill="#86E2FF"/>
<path d="M1831 374h4.5v4.5h-4.5z" fill="#77B9FF"/>
<path d="M1835 374h4.5v4.5h-4.5z" fill="#6997FF"/>
<path d="M1839 374h4.5v4.5h-4.5z" fill="#5E7BFF"/>
<path d="M1843 374h4.5v4.5h-4.5z" fill="#5464FF"/>
<path d="M1847 374h4.5v4.5h-4.5z" fill="#4C50FF"/>
<path d="M1851 374h4.5v4.5h-4.5z" fill="#4540FF"/>
<path d="M1855 374h4.5v4.5h-4.5z" fill="#3E32FF"/>
<path d="M1859 374h4.5v4.5h-4.5z" fill="#3926FF"/>
<path d="M1863 374h4.5v4.5h-4.5z" fill="#341CFF"/>
<path d="M1867 374h4.5v4.5h-4.5z" fill="#2F14FF"/>
<path d="M1871 374h4.5v4.5h-4.5z" fill="#2B0DFF"/>
<path d="M1875 374h4.5v4.5h-4.5z" fill="#2807FF"/>
<path d="M1879 374h4.5v4.5h-4.5z" fill="#2403FF"/>
<path d="M1883 374h4.5v4.5h-4.5z" fill="#2200FF"/>
<path d="M1887 374h4.5v4.5h-4.5z" fill="#1F00FF"/>
<path d="M1899 374h4.5v4.5h-4.5zM1891 378h4.5v4.5h-4.5z" fill="#1800FF"/>
<path d="M1903 374h4.5v4.5h-4.5zM1895 378h4.5v4.5h-4.5z" fill="#1600FF"/>
<path d="M1775 378h4.5v4.5h-4.5z" fill="#4AFF00"/>
<path d="M1779 378h4.5v4.5h-4.5z" fill="#4CFF04"/>
<path d="M1783 378h4.5v4.5h-4.5z" fill="#4EFF0B"/>
<path d="M1787 378h4.5v4.5h-4.5z" fill="#51FF13"/>
<path d="M1791 378h4.5v4.5h-4.5z" fill="#54FF1D"/>
<path d="M1795 378h4.5v4.5h-4.5z" fill="#57FF2A"/>
<path d="M1799 378h4.5v4.5h-4.5z" fill="#5AFF39"/>
<path d="M1803 378h4.5v4.5h-4.5z" fill="#5DFF4A"/>
<path d="M1807 378h4.5v4.5h-4.5z" fill="#61FF5F"/>
<path d="M1811 378h4.5v4.5h-4.5z" fill="#66FF77"/>
<path d="M1815 378h4.5v4.5h-4.5z" fill="#6BFF93"/>
<path d="M1819 378h4.5v4.5h-4.5z" fill="#71FFB5"/>
<path d="M1823 378h4.5v4.5h-4.5z" fill="#77FFDD"/>
<path d="M1827 378h4.5v4.5h-4.5z" fill="#78F2FF"/>
<path d="M1831 378h4.5v4.5h-4.5z" fill="#6AC7FF"/>
<path d="M1835 378h4.5v4.5h-4.5z" fill="#5EA4FF"/>
<path d="M1839 378h4.5v4.5h-4.5z" fill="#5487FF"/>
<path d="M1843 378h4.5v4.5h-4.5z" fill="#4B6EFF"/>
<path d="M1847 378h4.5v4.5h-4.5z" fill="#435AFF"/>
<path d="M1851 378h4.5v4.5h-4.5z" fill="#3D48FF"/>
<path d="M1855 378h4.5v4.5h-4.5z" fill="#3739FF"/>
<path d="M1859 378h4.5v4.5h-4.5z" fill="#322DFF"/>
<path d="M1863 378h4.5v4.5h-4.5z" fill="#2D22FF"/>
<path d="M1867 378h4.5v4.5h-4.5z" fill="#2919FF"/>
<path d="M1871 378h4.5v4.5h-4.5z" fill="#2611FF"/>
<path d="M1875 378h4.5v4.5h-4.5z" fill="#220BFF"/>
<path d="M1879 378h4.5v4.5h-4.5z" fill="#1F06FF"/>
<path d="M1883 378h4.5v4.5h-4.5z" fill="#1D02FF"/>
<path d="M1899 378h4.5v4.5h-4.5zM1891 382h4.5v4.5h-4.5z" fill="#1400FF"/>
<path d="M1903 378h4.5v4.5h-4.5z" fill="#1300FF"/>
<path d="M1907 378h4.5v4.5h-4.5zM1899 382h4.5v4.5h-4.5z" fill="#1100FF"/>
<path d="M1775 382h4.5v4.5h-4.5z" fill="#41FF00"/>
<path d="M1779 382h4.5v4.5h-4.5z" fill="#43FF04"/>
<path d="M1783 382h4.5v4.5h-4.5z" fill="#44FF0A"/>
<path d="M1787 382h4.5v4.5h-4.5z" fill="#46FF12"/>
<path d="M1791 382h4.5v4.5h-4.5z" fill="#48FF1C"/>
<path d="M1795 382h4.5v4.5h-4.5z" fill="#4BFF28"/>
<path d="M1799 382h4.5v4.5h-4.5z" fill="#4DFF36"/>
<path d="M1803 382h4.5v4.5h-4.5z" fill="#50FF47"/>
<path d="M1807 382h4.5v4.5h-4.5z" fill="#53FF5A"/>
<path d="M1811 382h4.5v4.5h-4.5z" fill="#57FF71"/>
<path d="M1815 382h4.5v4.5h-4.5z" fill="#5AFF8B"/>
<path d="M1819 382h4.5v4.5h-4.5z" fill="#5FFFAB"/>
<path d="M1823 382h4.5v4.5h-4.5z" fill="#64FFD0"/>
<path d="M1827 382h4.5v4.5h-4.5z" fill="#69FFFB"/>
<path d="M1831 382h4.5v4.5h-4.5z" fill="#5ED6FF"/>
<path d="M1835 382h4.5v4.5h-4.5z" fill="#53B1FF"/>
<path d="M1839 382h4.5v4.5h-4.5z" fill="#4A93FF"/>
<path d="M1843 382h4.5v4.5h-4.5z" fill="#4279FF"/>
<path d="M1847 382h4.5v4.5h-4.5z" fill="#3B63FF"/>
<path d="M1851 382h4.5v4.5h-4.5z" fill="#3551FF"/>
<path d="M1855 382h4.5v4.5h-4.5z" fill="#3041FF"/>
<path d="M1859 382h4.5v4.5h-4.5z" fill="#2B33FF"/>
<path d="M1863 382h4.5v4.5h-4.5z" fill="#2728FF"/>
<path d="M1867 382h4.5v4.5h-4.5z" fill="#231EFF"/>
<path d="M1871 382h4.5v4.5h-4.5z" fill="#2016FF"/>
<path d="M1875 382h4.5v4.5h-4.5z" fill="#1D0FFF"/>
<path d="M1879 382h4.5v4.5h-4.5z" fill="#1B09FF"/>
<path d="M1883 382h4.5v4.5h-4.5z" fill="#1804FF"/>
<path d="M1887 382h4.5v4.5h-4.5z" fill="#1601FF"/>
<path d="M1895 382h4.5v4.5h-4.5z" fill="#1200FF"/>
<path d="M1903 382h4.5v4.5h-4.5zM1895 386h4.5v4.5h-4.5z" fill="#0F00FF"/>
<path d="M1907 382h4.5v4.5h-4.5z" fill="#0E00FF"/>
<path d="M1911 382h4.5v4.5h-4.5zM1899 386h4.5v4.5h-4.5z" fill="#0D00FF"/>
<path d="M1775 386h4.5v4.5h-4.5z" fill="#39FF00"/>
<path d="M1779 386h4.5v4.5h-4.5z" fill="#3AFF04"/>
<path d="M1783 386h4.5v4.5h-4.5z" fill="#3BFF0A"/>
<path d="M1787 386h4.5v4.5h-4.5z" fill="#3DFF12"/>
<path d="M1791 386h4.5v4.5h-4.5z" fill="#3EFF1B"/>
<path d="M1795 386h4.5v4.5h-4.5z" fill="#40FF26"/>
<path d="M1799 386h4.5v4.5h-4.5z" fill="#42FF34"/>
<path d="M1803 386h4.5v4.5h-4.5z" fill="#44FF43"/>
<path d="M1807 386h4.5v4.5h-4.5z" fill="#46FF56"/>
<path d="M1811 386h4.5v4.5h-4.5z" fill="#49FF6B"/>
<path d="M1815 386h4.5v4.5h-4.5z" fill="#4CFF84"/>
<path d="M1819 386h4.5v4.5h-4.5z" fill="#4FFFA1"/>
<path d="M1823 386h4.5v4.5h-4.5z" fill="#52FFC3"/>
<path d="M1827 386h4.5v4.5h-4.5z" fill="#57FFEC"/>
<path d="M1831 386h4.5v4.5h-4.5z" fill="#52E5FF"/>
<path d="M1835 386h4.5v4.5h-4.5z" fill="#48BFFF"/>
<path d="M1839 386h4.5v4.5h-4.5z" fill="#409FFF"/>
<path d="M1843 386h4.5v4.5h-4.5z" fill="#3984FF"/>
<path d="M1847 386h4.5v4.5h-4.5z" fill="#336DFF"/>
<path d="M1851 386h4.5v4.5h-4.5z" fill="#2D59FF"/>
<path d="M1855 386h4.5v4.5h-4.5z" fill="#2949FF"/>
<path d="M1859 386h4.5v4.5h-4.5z" fill="#253AFF"/>
<path d="M1863 386h4.5v4.5h-4.5z" fill="#212EFF"/>
<path d="M1867 386h4.5v4.5h-4.5z" fill="#1E24FF"/>
<path d="M1871 386h4.5v4.5h-4.5z" fill="#1B1BFF"/>
<path d="M1875 386h4.5v4.5h-4.5z" fill="#1813FF"/>
<path d="M1879 386h4.5v4.5h-4.5z" fill="#160DFF"/>
<path d="M1883 386h4.5v4.5h-4.5z" fill="#1407FF"/>
<path d="M1887 386h4.5v4.5h-4.5z" fill="#1203FF"/>
<path d="M1891 386h4.5v4.5h-4.5z" fill="#1000FF"/>
<path d="M1903 386h4.5v4.5h-4.5z" fill="#0C00FF"/>
<path d="M1907 386h4.5v4.5h-4.5zM1895 390h4.5v4.5h-4.5z" fill="#0B00FF"/>
<path d="M1911 386h4.5v4.5h-4.5zM1899 390h4.5v4.5h-4.5z" fill="#0A00FF"/>
<path d="M1775 390h4.5v4.5h-4.5z" fill="#31FF00"/>
<path d="M1779 390h4.5v4.5h-4.5z" fill="#32FF04"/>
<path d="M1783 390h4.5v4.5h-4.5z" fill="#33FF09"/>
<path d="M1787 390h4.5v4.5h-4.5z" fill="#34FF11"/>
<path d="M1791 390h4.5v4.5h-4.5z" fill="#35FF1A"/>
<path d="M1795 390h4.5v4.5h-4.5z" fill="#37FF25"/>
<path d="M1799 390h4.5v4.5h-4.5z" fill="#38FF32"/>
<path d="M1803 390h4.5v4.5h-4.5z" fill="#39FF40"/>
<path d="M1807 390h4.5v4.5h-4.5z" fill="#3BFF52"/>
<path d="M1811 390h4.5v4.5h-4.5z" fill="#3DFF66"/>
<path d="M1815 390h4.5v4.5h-4.5z" fill="#3FFF7D"/>
<path d="M1819 390h4.5v4.5h-4.5z" fill="#41FF99"/>
<path d="M1823 390h4.5v4.5h-4.5z" fill="#44FFB9"/>
<path d="M1827 390h4.5v4.5h-4.5z" fill="#46FFDE"/>
<path d="M1831 390h4.5v4.5h-4.5z" fill="#47F5FF"/>
<path d="M1835 390h4.5v4.5h-4.5z" fill="#3ECCFF"/>
<path d="M1839 390h4.5v4.5h-4.5z" fill="#37ABFF"/>
<path d="M1843 390h4.5v4.5h-4.5z" fill="#308FFF"/>
<path d="M1847 390h4.5v4.5h-4.5z" fill="#2B77FF"/>
<path d="M1851 390h4.5v4.5h-4.5z" fill="#2662FF"/>
<path d="M1855 390h4.5v4.5h-4.5z" fill="#2251FF"/>
<path d="M1859 390h4.5v4.5h-4.5z" fill="#1F41FF"/>
<path d="M1863 390h4.5v4.5h-4.5z" fill="#1B35FF"/>
<path d="M1867 390h4.5v4.5h-4.5z" fill="#1929FF"/>
<path d="M1871 390h4.5v4.5h-4.5z" fill="#1620FF"/>
<path d="M1875 390h4.5v4.5h-4.5z" fill="#1418FF"/>
<path d="M1879 390h4.5v4.5h-4.5z" fill="#1211FF"/>
<path d="M1883 390h4.5v4.5h-4.5z" fill="#100BFF"/>
<path d="M1887 390h4.5v4.5h-4.5z" fill="#0E06FF"/>
<path d="M1891 390h4.5v4.5h-4.5z" fill="#0D02FF"/>
<path d="M1903 390h4.5v4.5h-4.5z" fill="#0900FF"/>
<path d="M1907 390h4.5v4.5h-4.5z" fill="#0800FF"/>
<path d="M1911 390h4.5v4.5h-4.5zM1899 394h4.5v4.5h-4.5z" fill="#0700FF"/>
<path d="M1775 394h4.5v4.5h-4.5z" fill="#2AFF00"/>
<path d="M1779 394h4.5v4.5h-4.5z" fill="#2BFF04"/>
<path d="M1783 394h4.5v4.5h-4.5z" fill="#2BFF09"/>
<path d="M1787 394h4.5v4.5h-4.5z" fill="#2CFF10"/>
<path d="M1791 394h4.5v4.5h-4.5z" fill="#2DFF19"/>
<path d="M1795 394h4.5v4.5h-4.5z" fill="#2EFF23"/>
<path d="M1799 394h4.5v4.5h-4.5z" fill="#2FFF30"/>
<path d="M1803 394h4.5v4.5h-4.5z" fill="#30FF3E"/>
<path d="M1807 394h4.5v4.5h-4.5z" fill="#31FF4E"/>
<path d="M1811 394h4.5v4.5h-4.5z" fill="#32FF61"/>
<path d="M1815 394h4.5v4.5h-4.5z" fill="#33FF77"/>
<path d="M1819 394h4.5v4.5h-4.5z" fill="#35FF91"/>
<path d="M1823 394h4.5v4.5h-4.5z" fill="#36FFAF"/>
<path d="M1827 394h4.5v4.5h-4.5z" fill="#38FFD1"/>
<path d="M1831 394h4.5v4.5h-4.5z" fill="#3AFFFA"/>
<path d="M1835 394h4.5v4.5h-4.5z" fill="#34DAFF"/>
<path d="M1839 394h4.5v4.5h-4.5z" fill="#2EB7FF"/>
<path d="M1843 394h4.5v4.5h-4.5z" fill="#289AFF"/>
<path d="M1847 394h4.5v4.5h-4.5z" fill="#2381FF"/>
<path d="M1851 394h4.5v4.5h-4.5z" fill="#1F6BFF"/>
<path d="M1855 394h4.5v4.5h-4.5z" fill="#1C59FF"/>
<path d="M1859 394h4.5v4.5h-4.5z" fill="#1949FF"/>
<path d="M1863 394h4.5v4.5h-4.5z" fill="#163BFF"/>
<path d="M1867 394h4.5v4.5h-4.5z" fill="#132FFF"/>
<path d="M1871 394h4.5v4.5h-4.5z" fill="#1125FF"/>
<path d="M1875 394h4.5v4.5h-4.5z" fill="#0F1CFF"/>
<path d="M1879 394h4.5v4.5h-4.5z" fill="#0E15FF"/>
<path d="M1883 394h4.5v4.5h-4.5z" fill="#0C0FFF"/>
<path d="M1887 394h4.5v4.5h-4.5z" fill="#0B09FF"/>
<path d="M1891 394h4.5v4.5h-4.5z" fill="#0905FF"/>
<path d="M1895 394h4.5v4.5h-4.5z" fill="#0802FF"/>
<path d="M1903 394h4.5v4.5h-4.5z" fill="#0600FF"/>
<path d="M1907 394h4.5v4.5h-4.5zM1911 394h4.5v4.5h-4.5z" fill="#0500FF"/>
<path d="M1775 398h4.5v4.5h-4.5z" fill="#24FF00"/>
<path d="M1779 398h4.5v4.5h-4.5z" fill="#24FF03"/>
<path d="M1783 398h4.5v4.5h-4.5z" fill="#25FF09"/>
<path d="M1787 398h4.5v4.5h-4.5z" fill="#25FF10"/>
<path d="M1791 398h4.5v4.5h-4.5z" fill="#26FF18"/>
<path d="M1795 398h4.5v4.5h-4.5z" fill="#26FF22"/>
<path d="M1799 398h4.5v4.5h-4.5z" fill="#27FF2E"/>
<path d="M1803 398h4.5v4.5h-4.5z" fill="#27FF3B"/>
<path d="M1807 398h4.5v4.5h-4.5z" fill="#28FF4B"/>
<path d="M1811 398h4.5v4.5h-4.5z" fill="#29FF5D"/>
<path d="M1815 398h4.5v4.5h-4.5z" fill="#29FF72"/>
<path d="M1819 398h4.5v4.5h-4.5z" fill="#2AFF8A"/>
<path d="M1823 398h4.5v4.5h-4.5z" fill="#2BFFA6"/>
<path d="M1827 398h4.5v4.5h-4.5z" fill="#2CFFC6"/>
<path d="M1831 398h4.5v4.5h-4.5z" fill="#2DFFEC"/>
<path d="M1835 398h4.5v4.5h-4.5z" fill="#2BE8FF"/>
<path d="M1839 398h4.5v4.5h-4.5z" fill="#25C4FF"/>
<path d="M1843 398h4.5v4.5h-4.5z" fill="#20A5FF"/>
<path d="M1847 398h4.5v4.5h-4.5z" fill="#1C8BFF"/>
<path d="M1851 398h4.5v4.5h-4.5z" fill="#1974FF"/>
<path d="M1855 398h4.5v4.5h-4.5z" fill="#1661FF"/>
<path d="M1859 398h4.5v4.5h-4.5z" fill="#1351FF"/>
<path d="M1863 398h4.5v4.5h-4.5z" fill="#1142FF"/>
<path d="M1867 398h4.5v4.5h-4.5z" fill="#0F36FF"/>
<path d="M1871 398h4.5v4.5h-4.5z" fill="#0D2BFF"/>
<path d="M1875 398h4.5v4.5h-4.5z" fill="#0B22FF"/>
<path d="M1879 398h4.5v4.5h-4.5z" fill="#0A19FF"/>
<path d="M1883 398h4.5v4.5h-4.5z" fill="#0913FF"/>
<path d="M1887 398h4.5v4.5h-4.5z" fill="#070DFF"/>
<path d="M1891 398h4.5v4.5h-4.5z" fill="#0608FF"/>
<path d="M1895 398h4.5v4.5h-4.5z" fill="#0504FF"/>
<path d="M1899 398h4.5v4.5h-4.5z" fill="#0501FF"/>
<path d="M1903 398h4.5v4.5h-4.5z" fill="#0400FF"/>
<path d="M1907 398h4.5v4.5h-4.5zM1911 398h4.5v4.5h-4.5z" fill="#0300FF"/>
<path d="M1775 402h4.5v4.5h-4.5z" fill="#1EFF00"/>
<path d="M1779 402h4.5v4.5h-4.5z" fill="#1EFF03"/>
<path d="M1783 402h4.5v4.5h-4.5z" fill="#1EFF09"/>
<path d="M1787 402h4.5v4.5h-4.5z" fill="#1FFF0F"/>
<path d="M1791 402h4.5v4.5h-4.5z" fill="#1FFF17"/>
<path d="M1795 402h4.5v4.5h-4.5z" fill="#1FFF21"/>
<path d="M1799 402h4.5v4.5h-4.5z" fill="#1FFF2C"/>
<path d="M1803 402h4.5v4.5h-4.5z" fill="#20FF39"/>
<path d="M1807 402h4.5v4.5h-4.5z" fill="#20FF48"/>
<path d="M1811 402h4.5v4.5h-4.5z" fill="#20FF59"/>
<path d="M1815 402h4.5v4.5h-4.5z" fill="#20FF6D"/>
<path d="M1819 402h4.5v4.5h-4.5z" fill="#21FF83"/>
<path d="M1823 402h4.5v4.5h-4.5z" fill="#21FF9D"/>
<path d="M1827 402h4.5v4.5h-4.5z" fill="#22FFBC"/>
<path d="M1831 402h4.5v4.5h-4.5z" fill="#22FFDF"/>
<path d="M1835 402h4.5v4.5h-4.5z" fill="#22F7FF"/>
<path d="M1839 402h4.5v4.5h-4.5z" fill="#1DD1FF"/>
<path d="M1843 402h4.5v4.5h-4.5z" fill="#19B1FF"/>
<path d="M1847 402h4.5v4.5h-4.5z" fill="#1695FF"/>
<path d="M1851 402h4.5v4.5h-4.5z" fill="#137EFF"/>
<path d="M1855 402h4.5v4.5h-4.5z" fill="#106AFF"/>
<path d="M1859 402h4.5v4.5h-4.5z" fill="#0E58FF"/>
<path d="M1863 402h4.5v4.5h-4.5z" fill="#0C49FF"/>
<path d="M1867 402h4.5v4.5h-4.5z" fill="#0A3CFF"/>
<path d="M1871 402h4.5v4.5h-4.5z" fill="#0931FF"/>
<path d="M1875 402h4.5v4.5h-4.5z" fill="#0827FF"/>
<path d="M1879 402h4.5v4.5h-4.5z" fill="#061EFF"/>
<path d="M1883 402h4.5v4.5h-4.5z" fill="#0517FF"/>
<path d="M1887 402h4.5v4.5h-4.5z" fill="#0410FF"/>
<path d="M1891 402h4.5v4.5h-4.5z" fill="#040BFF"/>
<path d="M1895 402h4.5v4.5h-4.5z" fill="#0306FF"/>
<path d="M1899 402h4.5v4.5h-4.5z" fill="#0203FF"/>
<path d="M1903 402h4.5v4.5h-4.5z" fill="#0200FF"/>
<path d="M1907 402h4.5v4.5h-4.5zM1911 402h4.5v4.5h-4.5z" fill="#0100FF"/>
<path d="M1775 406h4.5v4.5h-4.5z" fill="#19FF00"/>
<path d="M1779 406h4.5v4.5h-4.5z" fill="#19FF03"/>
<path d="M1783 406h4.5v4.5h-4.5z" fill="#19FF08"/>
<path d="M1787 406h4.5v4.5h-4.5z" fill="#19FF0F"/>
<path d="M1791 406h4.5v4.5h-4.5z" fill="#19FF16"/>
<path d="M1795 406h4.5v4.5h-4.5z" fill="#19FF20"/>
<path d="M1799 406h4.5v4.5h-4.5z" fill="#19FF2A"/>
<path d="M1803 406h4.5v4.5h-4.5z" fill="#19FF37"/>
<path d="M1807 406h4.5v4.5h-4.5z" fill="#19FF45"/>
<path d="M1811 406h4.5v4.5h-4.5z" fill="#19FF55"/>
<path d="M1815 406h4.5v4.5h-4.5z" fill="#19FF68"/>
<path d="M1819 406h4.5v4.5h-4.5z" fill="#19FF7D"/>
<path d="M1823 406h4.5v4.5h-4.5z" fill="#19FF96"/>
<path d="M1827 406h4.5v4.5h-4.5z" fill="#19FFB2"/>
<path d="M1831 406h4.5v4.5h-4.5z" fill="#19FFD3"/>
<path d="M1835 406h4.5v4.5h-4.5z" fill="#19FFF9"/>
<path d="M1839 406h4.5v4.5h-4.5z" fill="#16DEFF"/>
<path d="M1843 406h4.5v4.5h-4.5z" fill="#12BDFF"/>
<path d="M1847 406h4.5v4.5h-4.5z" fill="#10A0FF"/>
<path d="M1851 406h4.5v4.5h-4.5z" fill="#0D88FF"/>
<path d="M1855 406h4.5v4.5h-4.5z" fill="#0B73FF"/>
<path d="M1859 406h4.5v4.5h-4.5z" fill="#0960FF"/>
<path d="M1863 406h4.5v4.5h-4.5z" fill="#0851FF"/>
<path d="M1867 406h4.5v4.5h-4.5z" fill="#0643FF"/>
<path d="M1871 406h4.5v4.5h-4.5z" fill="#0537FF"/>
<path d="M1875 406h4.5v4.5h-4.5z" fill="#042CFF"/>
<path d="M1879 406h4.5v4.5h-4.5z" fill="#0323FF"/>
<path d="M1883 406h4.5v4.5h-4.5z" fill="#031BFF"/>
<path d="M1887 406h4.5v4.5h-4.5z" fill="#0214FF"/>
<path d="M1891 406h4.5v4.5h-4.5z" fill="#010EFF"/>
<path d="M1895 406h4.5v4.5h-4.5z" fill="#0109FF"/>
<path d="M1899 406h4.5v4.5h-4.5z" fill="#0105FF"/>
<path d="M1903 406h4.5v4.5h-4.5z" fill="#0002FF"/>
<path d="M1907 406h4.5v4.5h-4.5zM1911 406h4.5v4.5h-4.5zM1911 410h4.5v4.5h-4.5z" fill="#0000FF"/>
<path d="M1775 410h4.5v4.5h-4.5z" fill="#14FF00"/>
<path d="M1779 410h4.5v4.5h-4.5z" fill="#14FF03"/>
<path d="M1783 410h4.5v4.5h-4.5z" fill="#14FF08"/>
<path d="M1787 410h4.5v4.5h-4.5z" fill="#13FF0E"/>
<path d="M1791 410h4.5v4.5h-4.5z" fill="#13FF16"/>
<path d="M1795 410h4.5v4.5h-4.5z" fill="#13FF1E"/>
<path d="M1799 410h4.5v4.5h-4.5z" fill="#13FF29"/>
<path d="M1803 410h4.5v4.5h-4.5z" fill="#13FF35"/>
<path d="M1807 410h4.5v4.5h-4.5z" fill="#13FF42"/>
<path d="M1811 410h4.5v4.5h-4.5z" fill="#12FF52"/>
<path d="M1815 410h4.5v4.5h-4.5z" fill="#12FF63"/>
<path d="M1819 410h4.5v4.5h-4.5z" fill="#12FF78"/>
<path d="M1823 410h4.5v4.5h-4.5z" fill="#11FF8F"/>
<path d="M1827 410h4.5v4.5h-4.5z" fill="#11FFAA"/>
<path d="M1831 410h4.5v4.5h-4.5z" fill="#11FFC8"/>
<path d="M1835 410h4.5v4.5h-4.5z" fill="#10FFEC"/>
<path d="M1839 410h4.5v4.5h-4.5z" fill="#0FEBFF"/>
<path d="M1843 410h4.5v4.5h-4.5z" fill="#0CC9FF"/>
<path d="M1847 410h4.5v4.5h-4.5z" fill="#0AABFF"/>
<path d="M1851 410h4.5v4.5h-4.5z" fill="#0892FF"/>
<path d="M1855 410h4.5v4.5h-4.5z" fill="#077CFF"/>
<path d="M1859 410h4.5v4.5h-4.5z" fill="#0569FF"/>
<path d="M1863 410h4.5v4.5h-4.5z" fill="#0458FF"/>
<path d="M1867 410h4.5v4.5h-4.5z" fill="#034AFF"/>
<path d="M1871 410h4.5v4.5h-4.5z" fill="#023DFF"/>
<path d="M1875 410h4.5v4.5h-4.5z" fill="#0232FF"/>
<path d="M1879 410h4.5v4.5h-4.5z" fill="#0128FF"/>
<path d="M1883 410h4.5v4.5h-4.5z" fill="#0120FF"/>
<path d="M1887 410h4.5v4.5h-4.5zM1895 422h4.5v4.5h-4.5z" fill="#0018FF"/>
<path d="M1891 410h4.5v4.5h-4.5zM1899 422h4.5v4.5h-4.5z" fill="#0012FF"/>
<path d="M1895 410h4.5v4.5h-4.5zM1903 422h4.5v4.5h-4.5zM1911 434h4.5v4.5h-4.5z" fill="#000DFF"/>
<path d="M1899 410h4.5v4.5h-4.5zM1907 422h4.5v4.5h-4.5z" fill="#0008FF"/>
<path d="M1903 410h4.5v4.5h-4.5z" fill="#0004FF"/>
<path d="M1907 410h4.5v4.5h-4.5zM1911 414h4.5v4.5h-4.5z" fill="#0001FF"/>
<path d="M1775 414h4.5v4.5h-4.5z" fill="#10FF00"/>
<path d="M1779 414h4.5v4.5h-4.5z" fill="#0FFF03"/>
<path d="M1783 414h4.5v4.5h-4.5z" fill="#0FFF08"/>
<path d="M1787 414h4.5v4.5h-4.5z" fill="#0FFF0E"/>
<path d="M1791 414h4.5v4.5h-4.5z" fill="#0FFF15"/>
<path d="M1795 414h4.5v4.5h-4.5z" fill="#0EFF1D"/>
<path d="M1799 414h4.5v4.5h-4.5z" fill="#0EFF27"/>
<path d="M1803 414h4.5v4.5h-4.5z" fill="#0DFF33"/>
<path d="M1807 414h4.5v4.5h-4.5z" fill="#0DFF40"/>
<path d="M1811 414h4.5v4.5h-4.5z" fill="#0DFF4E"/>
<path d="M1815 414h4.5v4.5h-4.5z" fill="#0CFF5F"/>
<path d="M1819 414h4.5v4.5h-4.5z" fill="#0CFF73"/>
<path d="M1823 414h4.5v4.5h-4.5z" fill="#0BFF89"/>
<path d="M1827 414h4.5v4.5h-4.5z" fill="#0BFFA2"/>
<path d="M1831 414h4.5v4.5h-4.5z" fill="#0AFFBE"/>
<path d="M1835 414h4.5v4.5h-4.5z" fill="#09FFDF"/>
<path d="M1839 414h4.5v4.5h-4.5z" fill="#09F9FF"/>
<path d="M1843 414h4.5v4.5h-4.5z" fill="#07D5FF"/>
<path d="M1847 414h4.5v4.5h-4.5z" fill="#05B6FF"/>
<path d="M1851 414h4.5v4.5h-4.5z" fill="#049CFF"/>
<path d="M1855 414h4.5v4.5h-4.5z" fill="#0385FF"/>
<path d="M1859 414h4.5v4.5h-4.5z" fill="#0271FF"/>
<path d="M1863 414h4.5v4.5h-4.5z" fill="#0160FF"/>
<path d="M1867 414h4.5v4.5h-4.5z" fill="#0151FF"/>
<path d="M1871 414h4.5v4.5h-4.5z" fill="#0043FF"/>
<path d="M1875 414h4.5v4.5h-4.5z" fill="#0038FF"/>
<path d="M1879 414h4.5v4.5h-4.5z" fill="#002EFF"/>
<path d="M1883 414h4.5v4.5h-4.5z" fill="#0025FF"/>
<path d="M1887 414h4.5v4.5h-4.5zM1899 434h4.5v4.5h-4.5z" fill="#001DFF"/>
<path d="M1891 414h4.5v4.5h-4.5z" fill="#0016FF"/>
<path d="M1895 414h4.5v4.5h-4.5zM1903 426h4.5v4.5h-4.5z" fill="#0010FF"/>
<path d="M1899 414h4.5v4.5h-4.5zM1907 426h4.5v4.5h-4.5z" fill="#000BFF"/>
<path d="M1903 414h4.5v4.5h-4.5zM1911 426h4.5v4.5h-4.5z" fill="#0007FF"/>
<path d="M1907 414h4.5v4.5h-4.5zM1911 418h4.5v4.5h-4.5z" fill="#0003FF"/>
<path d="M1775 418h4.5v4.5h-4.5z" fill="#0CFF00"/>
<path d="M1779 418h4.5v4.5h-4.5z" fill="#0BFF03"/>
<path d="M1783 418h4.5v4.5h-4.5z" fill="#0BFF07"/>
<path d="M1787 418h4.5v4.5h-4.5z" fill="#0BFF0D"/>
<path d="M1791 418h4.5v4.5h-4.5z" fill="#0AFF14"/>
<path d="M1795 418h4.5v4.5h-4.5z" fill="#0AFF1C"/>
<path d="M1799 418h4.5v4.5h-4.5z" fill="#09FF26"/>
<path d="M1803 418h4.5v4.5h-4.5z" fill="#09FF31"/>
<path d="M1807 418h4.5v4.5h-4.5z" fill="#08FF3D"/>
<path d="M1811 418h4.5v4.5h-4.5z" fill="#08FF4B"/>
<path d="M1815 418h4.5v4.5h-4.5z" fill="#07FF5C"/>
<path d="M1819 418h4.5v4.5h-4.5z" fill="#07FF6E"/>
<path d="M1823 418h4.5v4.5h-4.5z" fill="#06FF83"/>
<path d="M1827 418h4.5v4.5h-4.5z" fill="#06FF9A"/>
<path d="M1831 418h4.5v4.5h-4.5z" fill="#05FFB5"/>
<path d="M1835 418h4.5v4.5h-4.5z" fill="#04FFD4"/>
<path d="M1839 418h4.5v4.5h-4.5z" fill="#03FFF8"/>
<path d="M1843 418h4.5v4.5h-4.5z" fill="#02E1FF"/>
<path d="M1847 418h4.5v4.5h-4.5z" fill="#01C1FF"/>
<path d="M1851 418h4.5v4.5h-4.5z" fill="#01A6FF"/>
<path d="M1855 418h4.5v4.5h-4.5z" fill="#008EFF"/>
<path d="M1859 418h4.5v4.5h-4.5z" fill="#007AFF"/>
<path d="M1863 418h4.5v4.5h-4.5z" fill="#0068FF"/>
<path d="M1867 418h4.5v4.5h-4.5z" fill="#0058FF"/>
<path d="M1871 418h4.5v4.5h-4.5zM1875 426h4.5v4.5h-4.5zM1879 434h4.5v4.5h-4.5z" fill="#004AFF"/>
<path d="M1875 418h4.5v4.5h-4.5zM1879 426h4.5v4.5h-4.5z" fill="#003EFF"/>
<path d="M1879 418h4.5v4.5h-4.5z" fill="#0033FF"/>
<path d="M1883 418h4.5v4.5h-4.5z" fill="#002AFF"/>
<path d="M1887 418h4.5v4.5h-4.5zM1899 438h4.5v4.5h-4.5z" fill="#0021FF"/>
<path d="M1891 418h4.5v4.5h-4.5z" fill="#001AFF"/>
<path d="M1895 418h4.5v4.5h-4.5z" fill="#0014FF"/>
<path d="M1899 418h4.5v4.5h-4.5zM1907 430h4.5v4.5h-4.5z" fill="#000EFF"/>
<path d="M1903 418h4.5v4.5h-4.5zM1911 430h4.5v4.5h-4.5z" fill="#000AFF"/>
<path d="M1907 418h4.5v4.5h-4.5z" fill="#0006FF"/>
<path d="M1775 422h4.5v4.5h-4.5z" fill="#08FF00"/>
<path d="M1779 422h4.5v4.5h-4.5z" fill="#08FF03"/>
<path d="M1783 422h4.5v4.5h-4.5z" fill="#08FF07"/>
<path d="M1787 422h4.5v4.5h-4.5z" fill="#07FF0D"/>
<path d="M1791 422h4.5v4.5h-4.5z" fill="#07FF14"/>
<path d="M1795 422h4.5v4.5h-4.5z" fill="#06FF1C"/>
<path d="M1799 422h4.5v4.5h-4.5z" fill="#06FF25"/>
<path d="M1803 422h4.5v4.5h-4.5z" fill="#05FF2F"/>
<path d="M1807 422h4.5v4.5h-4.5z" fill="#05FF3B"/>
<path d="M1811 422h4.5v4.5h-4.5z" fill="#04FF49"/>
<path d="M1815 422h4.5v4.5h-4.5z" fill="#03FF58"/>
<path d="M1819 422h4.5v4.5h-4.5z" fill="#03FF69"/>
<path d="M1823 422h4.5v4.5h-4.5z" fill="#02FF7D"/>
<path d="M1827 422h4.5v4.5h-4.5z" fill="#02FF94"/>
<path d="M1831 422h4.5v4.5h-4.5z" fill="#01FFAD"/>
<path d="M1835 422h4.5v4.5h-4.5z" fill="#00FFCA"/>
<path d="M1839 422h4.5v4.5h-4.5zM1843 434h4.5v4.5h-4.5z" fill="#00FFEB"/>
<path d="M1843 422h4.5v4.5h-4.5z" fill="#00EEFF"/>
<path d="M1847 422h4.5v4.5h-4.5z" fill="#00CDFF"/>
<path d="M1851 422h4.5v4.5h-4.5zM1859 442h4.5v4.5h-4.5z" fill="#00B0FF"/>
<path d="M1855 422h4.5v4.5h-4.5z" fill="#0098FF"/>
<path d="M1859 422h4.5v4.5h-4.5z" fill="#0082FF"/>
<path d="M1863 422h4.5v4.5h-4.5z" fill="#006FFF"/>
<path d="M1867 422h4.5v4.5h-4.5z" fill="#005FFF"/>
<path d="M1871 422h4.5v4.5h-4.5zM1875 430h4.5v4.5h-4.5zM1879 438h4.5v4.5h-4.5z" fill="#0051FF"/>
<path d="M1875 422h4.5v4.5h-4.5zM1879 430h4.5v4.5h-4.5z" fill="#0044FF"/>
<path d="M1879 422h4.5v4.5h-4.5z" fill="#0039FF"/>
<path d="M1883 422h4.5v4.5h-4.5z" fill="#002FFF"/>
<path d="M1887 422h4.5v4.5h-4.5z" fill="#0026FF"/>
<path d="M1891 422h4.5v4.5h-4.5z" fill="#001EFF"/>
<path d="M1911 422h4.5v4.5h-4.5z" fill="#0005FF"/>
<path d="M1775 426h4.5v4.5h-4.5z" fill="#05FF00"/>
<path d="M1779 426h4.5v4.5h-4.5z" fill="#05FF03"/>
<path d="M1783 426h4.5v4.5h-4.5z" fill="#05FF07"/>
<path d="M1787 426h4.5v4.5h-4.5z" fill="#04FF0C"/>
<path d="M1791 426h4.5v4.5h-4.5z" fill="#04FF13"/>
<path d="M1795 426h4.5v4.5h-4.5z" fill="#03FF1B"/>
<path d="M1799 426h4.5v4.5h-4.5z" fill="#03FF23"/>
<path d="M1803 426h4.5v4.5h-4.5z" fill="#02FF2E"/>
<path d="M1807 426h4.5v4.5h-4.5z" fill="#02FF39"/>
<path d="M1811 426h4.5v4.5h-4.5z" fill="#01FF46"/>
<path d="M1815 426h4.5v4.5h-4.5z" fill="#01FF55"/>
<path d="M1819 426h4.5v4.5h-4.5z" fill="#00FF65"/>
<path d="M1823 426h4.5v4.5h-4.5zM1827 442h4.5v4.5h-4.5z" fill="#00FF78"/>
<path d="M1827 426h4.5v4.5h-4.5z" fill="#00FF8D"/>
<path d="M1831 426h4.5v4.5h-4.5z" fill="#00FFA5"/>
<path d="M1835 426h4.5v4.5h-4.5z" fill="#00FFC1"/>
<path d="M1839 426h4.5v4.5h-4.5z" fill="#00FFE0"/>
<path d="M1843 426h4.5v4.5h-4.5z" fill="#00FAFF"/>
<path d="M1847 426h4.5v4.5h-4.5z" fill="#00D8FF"/>
<path d="M1851 426h4.5v4.5h-4.5z" fill="#00BBFF"/>
<path d="M1855 426h4.5v4.5h-4.5z" fill="#00A1FF"/>
<path d="M1859 426h4.5v4.5h-4.5z" fill="#008BFF"/>
<path d="M1863 426h4.5v4.5h-4.5z" fill="#0078FF"/>
<path d="M1867 426h4.5v4.5h-4.5z" fill="#0067FF"/>
<path d="M1871 426h4.5v4.5h-4.5zM1875 434h4.5v4.5h-4.5zM1879 442h4.5v4.5h-4.5z" fill="#0057FF"/>
<path d="M1883 426h4.5v4.5h-4.5z" fill="#0034FF"/>
<path d="M1887 426h4.5v4.5h-4.5z" fill="#002BFF"/>
<path d="M1891 426h4.5v4.5h-4.5z" fill="#0023FF"/>
<path d="M1895 426h4.5v4.5h-4.5z" fill="#001CFF"/>
<path d="M1899 426h4.5v4.5h-4.5z" fill="#0015FF"/>
<path d="M1775 430h4.5v4.5h-4.5z" fill="#03FF00"/>
<path d="M1779 430h4.5v4.5h-4.5z" fill="#02FF03"/>
<path d="M1783 430h4.5v4.5h-4.5z" fill="#02FF07"/>
<path d="M1787 430h4.5v4.5h-4.5z" fill="#02FF0C"/>
<path d="M1791 430h4.5v4.5h-4.5z" fill="#01FF12"/>
<path d="M1795 430h4.5v4.5h-4.5z" fill="#01FF1A"/>
<path d="M1799 430h4.5v4.5h-4.5z" fill="#00FF22"/>
<path d="M1803 430h4.5v4.5h-4.5z" fill="#00FF2C"/>
<path d="M1807 430h4.5v4.5h-4.5z" fill="#00FF37"/>
<path d="M1811 430h4.5v4.5h-4.5z" fill="#00FF44"/>
<path d="M1815 430h4.5v4.5h-4.5z" fill="#00FF52"/>
<path d="M1819 430h4.5v4.5h-4.5z" fill="#00FF61"/>
<path d="M1823 430h4.5v4.5h-4.5z" fill="#00FF73"/>
<path d="M1827 430h4.5v4.5h-4.5z" fill="#00FF88"/>
<path d="M1831 430h4.5v4.5h-4.5z" fill="#00FF9E"/>
<path d="M1835 430h4.5v4.5h-4.5z" fill="#00FFB8"/>
<path d="M1839 430h4.5v4.5h-4.5z" fill="#00FFD6"/>
<path d="M1843 430h4.5v4.5h-4.5z" fill="#00FFF7"/>
<path d="M1847 430h4.5v4.5h-4.5z" fill="#00E4FF"/>
<path d="M1851 430h4.5v4.5h-4.5z" fill="#00C5FF"/>
<path d="M1855 430h4.5v4.5h-4.5z" fill="#00ABFF"/>
<path d="M1859 430h4.5v4.5h-4.5z" fill="#0094FF"/>
<path d="M1863 430h4.5v4.5h-4.5z" fill="#0080FF"/>
<path d="M1867 430h4.5v4.5h-4.5z" fill="#006EFF"/>
<path d="M1871 430h4.5v4.5h-4.5zM1875 438h4.5v4.5h-4.5z" fill="#005EFF"/>
<path d="M1883 430h4.5v4.5h-4.5zM1887 438h4.5v4.5h-4.5z" fill="#003AFF"/>
<path d="M1887 430h4.5v4.5h-4.5z" fill="#0030FF"/>
<path d="M1891 430h4.5v4.5h-4.5z" fill="#0027FF"/>
<path d="M1895 430h4.5v4.5h-4.5z" fill="#0020FF"/>
<path d="M1899 430h4.5v4.5h-4.5z" fill="#0019FF"/>
<path d="M1903 430h4.5v4.5h-4.5z" fill="#0013FF"/>
<path d="M1775 434h4.5v4.5h-4.5z" fill="#01FF00"/>
<path d="M1779 434h4.5v4.5h-4.5z" fill="#01FF03"/>
<path d="M1783 434h4.5v4.5h-4.5z" fill="#00FF07"/>
<path d="M1787 434h4.5v4.5h-4.5z" fill="#00FF0C"/>
<path d="M1791 434h4.5v4.5h-4.5z" fill="#00FF12"/>
<path d="M1795 434h4.5v4.5h-4.5z" fill="#00FF19"/>
<path d="M1799 434h4.5v4.5h-4.5z" fill="#00FF21"/>
<path d="M1803 434h4.5v4.5h-4.5z" fill="#00FF2B"/>
<path d="M1807 434h4.5v4.5h-4.5z" fill="#00FF35"/>
<path d="M1811 434h4.5v4.5h-4.5z" fill="#00FF41"/>
<path d="M1815 434h4.5v4.5h-4.5z" fill="#00FF4F"/>
<path d="M1819 434h4.5v4.5h-4.5z" fill="#00FF5E"/>
<path d="M1823 434h4.5v4.5h-4.5z" fill="#00FF6F"/>
<path d="M1827 434h4.5v4.5h-4.5z" fill="#00FF82"/>
<path d="M1831 434h4.5v4.5h-4.5z" fill="#00FF98"/>
<path d="M1835 434h4.5v4.5h-4.5z" fill="#00FFB0"/>
<path d="M1839 434h4.5v4.5h-4.5z" fill="#00FFCC"/>
<path d="M1847 434h4.5v4.5h-4.5z" fill="#00F0FF"/>
<path d="M1851 434h4.5v4.5h-4.5z" fill="#00D0FF"/>
<path d="M1855 434h4.5v4.5h-4.5z" fill="#00B5FF"/>
<path d="M1859 434h4.5v4.5h-4.5z" fill="#009DFF"/>
<path d="M1863 434h4.5v4.5h-4.5z" fill="#0088FF"/>
<path d="M1867 434h4.5v4.5h-4.5z" fill="#0076FF"/>
<path d="M1871 434h4.5v4.5h-4.5z" fill="#0066FF"/>
<path d="M1883 434h4.5v4.5h-4.5z" fill="#003FFF"/>
<path d="M1887 434h4.5v4.5h-4.5z" fill="#0035FF"/>
<path d="M1891 434h4.5v4.5h-4.5z" fill="#002CFF"/>
<path d="M1895 434h4.5v4.5h-4.5z" fill="#0024FF"/>
<path d="M1903 434h4.5v4.5h-4.5z" fill="#0017FF"/>
<path d="M1907 434h4.5v4.5h-4.5z" fill="#0011FF"/>
<path d="M1775 438h4.5v4.5h-4.5zM1775 442h4.5v4.5h-4.5z" fill="#00FF00"/>
<path d="M1779 438h4.5v4.5h-4.5zM1779 442h4.5v4.5h-4.5z" fill="#00FF03"/>
<path d="M1783 438h4.5v4.5h-4.5zM1783 442h4.5v4.5h-4.5z" fill="#00FF06"/>
<path d="M1787 438h4.5v4.5h-4.5zM1787 442h4.5v4.5h-4.5z" fill="#00FF0B"/>
<path d="M1791 438h4.5v4.5h-4.5zM1791 442h4.5v4.5h-4.5z" fill="#00FF11"/>
<path d="M1795 438h4.5v4.5h-4.5zM1795 442h4.5v4.5h-4.5z" fill="#00FF18"/>
<path d="M1799 438h4.5v4.5h-4.5z" fill="#00FF20"/>
<path d="M1803 438h4.5v4.5h-4.5z" fill="#00FF29"/>
<path d="M1807 438h4.5v4.5h-4.5z" fill="#00FF34"/>
<path d="M1811 438h4.5v4.5h-4.5z" fill="#00FF3F"/>
<path d="M1815 438h4.5v4.5h-4.5z" fill="#00FF4C"/>
<path d="M1819 438h4.5v4.5h-4.5z" fill="#00FF5A"/>
<path d="M1823 438h4.5v4.5h-4.5z" fill="#00FF6B"/>
<path d="M1827 438h4.5v4.5h-4.5z" fill="#00FF7D"/>
<path d="M1831 438h4.5v4.5h-4.5z" fill="#00FF92"/>
<path d="M1835 438h4.5v4.5h-4.5z" fill="#00FFA9"/>
<path d="M1839 438h4.5v4.5h-4.5z" fill="#00FFC3"/>
<path d="M1843 438h4.5v4.5h-4.5z" fill="#00FFE1"/>
<path d="M1847 438h4.5v4.5h-4.5z" fill="#00FCFF"/>
<path d="M1851 438h4.5v4.5h-4.5z" fill="#00DBFF"/>
<path d="M1855 438h4.5v4.5h-4.5z" fill="#00BFFF"/>
<path d="M1859 438h4.5v4.5h-4.5z" fill="#00A6FF"/>
<path d="M1863 438h4.5v4.5h-4.5z" fill="#0091FF"/>
<path d="M1867 438h4.5v4.5h-4.5z" fill="#007EFF"/>
<path d="M1871 438h4.5v4.5h-4.5z" fill="#006DFF"/>
<path d="M1883 438h4.5v4.5h-4.5z" fill="#0045FF"/>
<path d="M1891 438h4.5v4.5h-4.5z" fill="#0031FF"/>
<path d="M1895 438h4.5v4.5h-4.5z" fill="#0029FF"/>
<path d="M1903 438h4.5v4.5h-4.5z" fill="#001BFF"/>
<path d="M1799 442h4.5v4.5h-4.5z" fill="#00FF1F"/>
<path d="M1803 442h4.5v4.5h-4.5z" fill="#00FF28"/>
<path d="M1807 442h4.5v4.5h-4.5z" fill="#00FF32"/>
<path d="M1811 442h4.5v4.5h-4.5z" fill="#00FF3D"/>
<path d="M1815 442h4.5v4.5h-4.5z" fill="#00FF49"/>
<path d="M1819 442h4.5v4.5h-4.5z" fill="#00FF57"/>
<path d="M1823 442h4.5v4.5h-4.5z" fill="#00FF67"/>
<path d="M1831 442h4.5v4.5h-4.5z" fill="#00FF8C"/>
<path d="M1835 442h4.5v4.5h-4.5z" fill="#00FFA2"/>
<path d="M1839 442h4.5v4.5h-4.5z" fill="#00FFBB"/>
<path d="M1843 442h4.5v4.5h-4.5z" fill="#00FFD7"/>
<path d="M1847 442h4.5v4.5h-4.5z" fill="#00FFF6"/>
<path d="M1851 442h4.5v4.5h-4.5z" fill="#00E7FF"/>
<path d="M1855 442h4.5v4.5h-4.5z" fill="#00C9FF"/>
<path d="M1863 442h4.5v4.5h-4.5z" fill="#0099FF"/>
<path d="M1867 442h4.5v4.5h-4.5z" fill="#0086FF"/>
<path d="M1871 442h4.5v4.5h-4.5z" fill="#0074FF"/>
<path d="M1875 442h4.5v4.5h-4.5z" fill="#0065FF"/>
<path d="M1883 442h4.5v4.5h-4.5z" fill="#004BFF"/>
</g>
<path d="M1776.7,231.7L1776.7,439.3Q1844.1,442.6 1909.3,408.0Z" fill="none" stroke="#000" stroke-width="1"/>
<text x="1752.68" y="222.60" font-size="33" letter-spacing="-0.570">001</text>
<text x="1902.23" y="446.10" font-size="33" letter-spacing="0.700">111</text>
<text x="1739.53" y="478.70" font-size="33" letter-spacing="-0.792">101</text>
<rect x="909" y="54.3" width="1811" height="643.2" rx="26" ry="26" fill="none" stroke="#8a8a8a" stroke-width="1.6" stroke-dasharray="14 13.8" stroke-dashoffset="-8"/>
<text x="855.94" y="54.30" font-size="62.4" font-weight="bold">b</text>
<text x="1229.83" y="659.50" font-size="34.6" letter-spacing="0.162">Nontextured</text>
<text x="2280.31" y="659.30" font-size="34.6" letter-spacing="0.679">Textured</text>
<text font-size="34.5" y="555.30" fill="#fff" font-weight="bold"><tspan x="1037.76">5</tspan> <tspan x="1069.96" letter-spacing="-2.130">µm</tspan></text>
<text font-size="34.5" y="555.30" fill="#fff" font-weight="bold"><tspan x="2047.77">5</tspan> <tspan x="2079.96" letter-spacing="-2.130">µm</tspan></text>
<clipPath id="cc"><rect x="116.5" y="794.7" width="577.2" height="636.0"/></clipPath>
<g clip-path="url(#cc)"><polyline points="116.3,1360.1 118.2,1359.0 120.9,1358.0 124.1,1356.3 127.4,1354.7 130.7,1352.7 132.9,1350.8 135.1,1349.1 137.5,1347.8 139.8,1345.5 142.2,1343.4 144.5,1341.7 146.8,1339.0 148.8,1337.1 150.8,1334.6 152.8,1332.3 154.8,1329.5 156.8,1327.2 158.7,1324.6 160.6,1321.5 162.5,1318.7 164.0,1316.2 165.4,1313.3 166.9,1311.1 168.3,1308.3 169.7,1305.4 171.0,1302.4 172.4,1300.0 173.7,1296.8 175.1,1294.0 176.4,1291.1 177.5,1288.2 178.7,1285.4 179.8,1282.2 180.9,1279.5 182.0,1276.2 183.1,1273.5 184.2,1270.4 185.2,1266.8 186.3,1263.7 187.3,1260.6 188.4,1257.9 189.3,1254.7 190.3,1251.8 191.2,1248.6 192.1,1245.8 193.0,1242.7 194.0,1239.6 194.9,1236.7 195.8,1233.7 196.7,1230.9 197.6,1227.7 198.5,1224.8 199.4,1221.8 200.3,1218.9 201.3,1215.8 202.2,1212.5 203.1,1210.0 204.0,1207.1 204.9,1204.1 205.8,1200.9 206.7,1198.1 207.7,1194.9 208.6,1192.4 209.5,1189.4 210.5,1186.4 211.5,1183.2 212.6,1180.7 213.6,1177.8 214.7,1174.3 215.8,1171.9 216.8,1168.7 217.9,1165.7 219.0,1162.8 220.2,1160.2 221.3,1157.4 222.5,1153.9 223.8,1151.3 225.0,1148.0 226.3,1145.4 227.6,1142.2 228.9,1139.5 230.3,1137.1 231.6,1133.3 233.0,1131.2 234.4,1127.0 235.8,1123.6 237.2,1121.6 238.6,1117.7 240.1,1115.0 241.5,1112.5 243.0,1109.9 244.5,1106.2 246.0,1103.0 247.5,1101.7 249.0,1097.9 250.5,1096.3 252.0,1093.5 253.4,1090.0 255.2,1087.1 256.9,1084.3 258.6,1081.7 260.2,1078.9 261.9,1076.1 263.6,1073.6 265.2,1071.6 266.9,1068.3 268.6,1065.7 270.4,1063.5 272.3,1060.0 274.1,1057.5 276.0,1056.3 277.8,1053.0 279.7,1050.6 281.6,1047.2 283.5,1045.5 285.5,1043.4 287.4,1040.0 289.4,1038.7 291.4,1036.3 293.4,1032.9 295.5,1031.6 297.6,1029.0 299.8,1027.0 302.0,1024.1 304.2,1022.5 306.4,1020.3 308.7,1016.7 311.1,1014.5 313.5,1013.3 315.9,1011.5 318.4,1007.9 320.7,1006.2 323.1,1004.3 325.5,1001.7 328.0,999.6 330.5,997.4 333.0,995.3 335.6,993.6 338.1,990.9 340.7,988.9 343.0,987.7 345.4,984.4 347.8,983.5 350.2,981.8 352.6,979.1 355.1,977.1 357.5,976.2 359.9,973.3 362.4,971.4 364.8,970.0 367.4,968.5 370.1,965.4 372.8,963.9 375.5,961.9 378.1,960.9 380.8,958.3 383.5,957.2 386.2,954.2 388.8,952.7 391.5,951.5 394.2,950.2 396.8,947.8 399.5,945.7 402.2,943.9 404.9,943.1 407.5,940.9 410.2,940.5 412.9,939.1 415.9,936.4 418.9,935.0 421.9,934.5 424.9,932.8 427.9,931.7 431.0,929.5 434.0,927.8 437.0,926.7 440.0,926.3 443.0,924.1 446.0,923.0 449.0,921.9 452.0,920.7 455.0,919.5 458.0,919.2 461.0,916.6 464.0,915.0 467.0,915.4 470.1,914.0 473.1,912.9 476.1,910.6 479.1,910.2 482.1,908.8 485.1,906.2 488.1,905.7 491.1,904.5 494.1,902.7 497.1,901.0 500.1,899.1 503.2,897.8 506.2,896.1 509.2,894.4 512.2,894.0 515.2,892.1 518.2,891.7 521.2,889.0 524.2,889.3 527.2,887.6 530.2,886.7 533.2,885.4 536.2,884.2 539.3,882.4 542.3,880.2 545.3,880.3 548.4,878.1 551.4,877.1 554.3,876.6 557.3,875.1 560.2,873.7 563.2,873.4 566.1,871.5 569.0,869.8 571.9,868.3 574.7,868.1 577.5,866.1 580.2,865.3 583.2,863.0 586.1,861.1 589.0,860.1 591.8,859.0 594.6,856.2 597.3,855.7 600.0,854.3 603.1,852.1 606.2,850.0 609.3,846.4 612.2,845.5 614.9,844.1 617.5,841.3 620.9,840.6 624.0,840.3 626.8,840.7 629.5,840.1 633.0,838.5 636.2,837.1 639.1,834.5 642.4,835.6 645.2,837.1 648.6,836.3 651.2,835.8 651.0,842.0 648.9,844.1 646.0,845.8 642.5,846.8 639.1,849.8 636.8,851.2 634.5,853.0 632.0,855.0 629.6,857.4 627.1,859.2 624.7,860.7 621.8,862.5 618.9,864.8 616.0,866.5 613.1,869.2 610.2,871.5 607.3,873.0 604.4,874.6 601.5,876.9 598.6,879.2 595.8,881.6 593.0,883.8 590.2,885.0 587.4,887.5 584.7,889.0 582.0,890.6 579.4,892.3 576.8,894.3 574.3,896.5 571.8,898.0 569.3,900.6 566.9,902.6 564.5,904.7 562.1,907.8 559.7,910.7 557.3,913.3 555.6,915.8 553.8,918.2 552.1,920.9 550.4,923.5 548.7,925.8 547.0,928.8 545.3,931.5 543.6,934.0 541.9,937.0 540.3,939.8 538.6,943.2 537.0,946.2 535.4,949.4 533.8,952.6 532.5,955.3 531.2,958.3 529.9,961.1 528.6,963.8 527.3,967.1 526.1,969.9 524.8,973.1 523.6,976.6 522.5,979.1 521.4,982.1 520.3,985.1 519.3,988.6 518.2,991.3 517.1,994.3 516.1,997.9 515.0,1000.5 514.0,1004.0 513.0,1007.0 511.9,1010.2 510.9,1013.4 509.9,1016.3 508.9,1019.6 507.9,1022.2 506.9,1025.7 505.9,1028.6 505.0,1031.6 503.9,1034.5 502.9,1038.0 502.0,1041.2 501.0,1043.8 500.0,1047.0 499.1,1050.1 498.1,1053.3 497.1,1056.1 496.1,1059.1 495.2,1062.2 494.2,1065.4 493.2,1068.5 492.2,1071.3 491.2,1074.4 490.1,1077.6 489.0,1080.9 488.0,1083.6 487.1,1086.1 486.1,1089.1 485.0,1092.2 484.0,1094.7 482.9,1097.8 481.8,1100.4 480.7,1103.6 479.5,1106.6 478.3,1109.6 477.2,1112.3 476.0,1115.0 474.8,1118.0 473.6,1121.0 472.4,1123.4 471.2,1126.3 469.9,1129.6 468.6,1132.6 467.3,1135.4 465.9,1138.4 464.5,1141.6 463.3,1143.9 462.1,1146.6 460.9,1149.2 459.7,1152.1 458.4,1154.7 457.1,1157.4 455.8,1160.4 454.5,1163.3 453.2,1165.7 451.8,1168.7 450.5,1171.3 449.1,1174.3 447.6,1176.9 446.2,1179.6 444.7,1182.4 443.2,1185.1 441.7,1188.3 440.2,1191.1 438.6,1193.9 437.0,1196.8 435.4,1199.7 433.8,1202.8 432.3,1205.3 430.7,1208.5 429.1,1210.9 427.6,1213.7 425.9,1216.5 424.3,1219.5 422.6,1222.3 420.9,1224.9 419.2,1227.6 417.6,1230.4 415.9,1233.1 414.3,1235.5 412.6,1238.2 411.0,1240.9 409.4,1243.1 407.9,1245.3 406.0,1248.1 404.3,1251.1 402.5,1253.6 400.8,1256.3 399.1,1258.7 397.4,1260.8 395.7,1263.2 394.0,1265.6 392.3,1267.9 390.6,1270.6 388.6,1273.3 386.7,1275.9 384.8,1278.0 382.9,1280.9 381.0,1283.1 379.0,1285.6 377.0,1288.3 375.1,1290.4 373.0,1292.9 371.2,1295.6 369.3,1297.6 367.4,1300.0 365.5,1302.4 363.6,1304.8 361.6,1306.7 359.7,1309.2 357.7,1311.6 355.7,1313.9 353.6,1316.1 351.6,1318.6 349.5,1321.1 347.4,1323.1 345.3,1325.5 343.2,1327.5 341.1,1329.9 338.9,1332.4 336.7,1334.3 334.6,1336.9 332.4,1339.1 330.2,1340.8 328.1,1343.4 325.9,1345.2 323.7,1347.4 321.5,1349.5 319.3,1351.3 317.0,1353.5 314.8,1355.4 312.5,1357.4 310.2,1359.0 307.7,1361.4 305.1,1363.5 302.6,1365.4 300.0,1367.2 297.4,1368.9 294.7,1371.1 292.0,1372.9 289.1,1375.0 286.2,1376.8 283.8,1378.3 281.3,1379.6 278.7,1381.4 276.1,1382.9 273.5,1384.1 270.8,1386.0 268.1,1387.3 265.3,1388.5 262.5,1390.3 259.6,1391.3 256.7,1392.8 254.0,1394.2 251.2,1395.4 248.3,1396.6 245.5,1397.8 242.5,1398.9 239.6,1400.0 236.6,1401.0 233.6,1402.1 230.6,1403.6 227.6,1404.6 224.6,1405.6 221.6,1406.7 218.6,1407.4 215.5,1408.3 212.5,1409.2 209.4,1410.4 206.3,1410.8 203.2,1411.8 200.1,1412.5 197.0,1413.6 193.9,1414.1 190.8,1414.8 187.7,1415.6 184.7,1416.3 181.7,1417.2 178.6,1417.6 175.6,1418.5 172.6,1418.7 169.6,1419.4 166.6,1419.9 163.7,1420.5 160.7,1421.4 157.8,1422.0 154.9,1422.2 152.0,1422.7 149.1,1423.4 145.9,1424.2 142.5,1424.8 139.1,1425.4 135.6,1425.9 132.2,1426.3 128.8,1427.0 125.7,1427.4 122.8,1428.1 120.2,1428.6 118.0,1428.7 116.3,1429.2" fill="none" stroke="#F05A28" stroke-width="3.0" stroke-linejoin="round" stroke-linecap="round" /></g>
<rect x="116.5" y="794.7" width="577.20" height="635.00" fill="none" stroke="#000" stroke-width="1.8"/>
<line x1="164.60" y1="1429.70" x2="164.60" y2="1422.90" stroke="#000" stroke-width="1.6" />
<line x1="212.70" y1="1429.70" x2="212.70" y2="1416.90" stroke="#000" stroke-width="1.6" />
<line x1="260.80" y1="1429.70" x2="260.80" y2="1422.90" stroke="#000" stroke-width="1.6" />
<line x1="308.90" y1="1429.70" x2="308.90" y2="1416.90" stroke="#000" stroke-width="1.6" />
<line x1="357.00" y1="1429.70" x2="357.00" y2="1422.90" stroke="#000" stroke-width="1.6" />
<line x1="405.10" y1="1429.70" x2="405.10" y2="1416.90" stroke="#000" stroke-width="1.6" />
<line x1="453.20" y1="1429.70" x2="453.20" y2="1422.90" stroke="#000" stroke-width="1.6" />
<line x1="501.30" y1="1429.70" x2="501.30" y2="1416.90" stroke="#000" stroke-width="1.6" />
<line x1="549.40" y1="1429.70" x2="549.40" y2="1422.90" stroke="#000" stroke-width="1.6" />
<line x1="597.50" y1="1429.70" x2="597.50" y2="1416.90" stroke="#000" stroke-width="1.6" />
<line x1="645.60" y1="1429.70" x2="645.60" y2="1422.90" stroke="#000" stroke-width="1.6" />
<line x1="116.50" y1="1359.14" x2="123.30" y2="1359.14" stroke="#000" stroke-width="1.6" />
<line x1="116.50" y1="1288.59" x2="129.30" y2="1288.59" stroke="#000" stroke-width="1.6" />
<line x1="116.50" y1="1218.03" x2="123.30" y2="1218.03" stroke="#000" stroke-width="1.6" />
<line x1="116.50" y1="1147.48" x2="129.30" y2="1147.48" stroke="#000" stroke-width="1.6" />
<line x1="116.50" y1="1076.92" x2="123.30" y2="1076.92" stroke="#000" stroke-width="1.6" />
<line x1="116.50" y1="1006.37" x2="129.30" y2="1006.37" stroke="#000" stroke-width="1.6" />
<line x1="116.50" y1="935.81" x2="123.30" y2="935.81" stroke="#000" stroke-width="1.6" />
<line x1="116.50" y1="865.26" x2="129.30" y2="865.26" stroke="#000" stroke-width="1.6" />
<line x1="116.50" y1="794.70" x2="123.30" y2="794.70" stroke="#000" stroke-width="1.6" />
<text x="106.56" y="1474.60" font-size="33.5">0</text>
<text x="202.32" y="1474.60" font-size="33.5">1</text>
<text x="299.03" y="1474.60" font-size="33.5">2</text>
<text x="395.24" y="1474.60" font-size="33.5">3</text>
<text x="491.63" y="1474.60" font-size="33.5">4</text>
<text x="587.64" y="1474.60" font-size="33.5">5</text>
<text x="683.67" y="1474.60" font-size="33.5">6</text>
<text x="53.39" y="1440.60" font-size="33.5" letter-spacing="-1.542">0.0</text>
<text x="53.70" y="1299.49" font-size="33.5" letter-spacing="-1.530">0.1</text>
<text x="53.86" y="1158.38" font-size="33.5" letter-spacing="-1.524">0.2</text>
<text x="53.55" y="1017.27" font-size="33.5" letter-spacing="-1.536">0.3</text>
<text x="53.24" y="876.16" font-size="33.5" letter-spacing="-1.548">0.4</text>
<text x="163.16" y="862.30" font-size="33" letter-spacing="1.120">Nontextured</text>
<text transform="translate(41.40,1193.90) rotate(-90)" x="-1.80" y="0" font-size="40" letter-spacing="-1.000">Strain (%)</text>
<text font-size="39.5" y="1522.6"><tspan x="280.22">-</tspan><tspan x="293.31" font-style="italic">E</tspan> <tspan x="330.13" letter-spacing="-1.445">(kV/mm)</tspan></text>
<text x="0.52" y="803.20" font-size="62" font-weight="bold">c</text>
<clipPath id="cd"><rect x="857.9" y="796.3" width="576.7" height="634.4"/></clipPath>
<g clip-path="url(#cd)"><path d="M858.1,1363.6C861.1,1356.6 870.3,1334.5 876.1,1321.4C881.9,1308.4 887.3,1297.3 892.9,1285.3C898.5,1273.3 904.2,1260.8 909.8,1249.2C915.4,1237.6 920.6,1226.9 926.6,1215.5C932.6,1204.1 939.9,1191.2 945.9,1180.6C951.9,1170.0 956.8,1161.3 962.8,1151.7C968.8,1142.1 976.0,1131.3 982.0,1122.9C988.0,1114.5 994.5,1106.8 998.9,1101.2C1003.3,1095.6 1002.9,1095.7 1008.5,1089.3C1014.1,1082.9 1024.5,1071.0 1032.5,1062.8C1040.5,1054.6 1048.6,1046.9 1056.6,1039.9C1064.6,1032.9 1072.7,1026.9 1080.7,1020.7C1088.7,1014.5 1096.8,1008.4 1104.8,1002.6C1112.8,996.8 1120.8,991.2 1128.8,985.8C1136.8,980.4 1144.9,974.9 1152.9,970.1C1160.9,965.3 1169.0,961.1 1177.0,956.9C1185.0,952.7 1193.0,948.9 1201.0,944.9C1209.0,940.9 1217.1,936.6 1225.1,932.8C1233.1,929.0 1241.2,925.6 1249.2,922.0C1257.2,918.4 1265.2,914.6 1273.2,911.2C1281.2,907.8 1289.3,904.5 1297.3,901.5C1305.3,898.5 1313.4,895.7 1321.4,893.1C1329.4,890.5 1337.4,888.0 1345.4,885.9C1353.4,883.8 1361.5,882.1 1369.5,880.6C1377.5,879.1 1386.3,877.9 1393.6,876.8C1400.8,875.7 1409.8,874.5 1413.0,874.2C1416.2,873.9 1416.2,873.5 1413.0,875.2C1409.8,877.0 1400.8,880.9 1393.6,884.7C1386.3,888.5 1377.5,893.3 1369.5,897.9C1361.5,902.5 1353.4,907.4 1345.4,912.4C1337.4,917.4 1329.4,922.8 1321.4,928.0C1313.4,933.2 1305.3,938.1 1297.3,943.7C1289.3,949.3 1281.2,955.5 1273.2,961.7C1265.2,967.9 1257.2,974.4 1249.2,981.0C1241.2,987.6 1233.1,994.4 1225.1,1001.4C1217.1,1008.4 1209.0,1015.7 1201.0,1023.1C1193.0,1030.5 1185.0,1037.8 1177.0,1046.0C1169.0,1054.2 1159.7,1064.8 1152.9,1072.4C1146.1,1080.0 1140.1,1087.1 1136.1,1091.7C1132.1,1096.3 1132.0,1096.4 1128.8,1100.0C1125.6,1103.6 1121.6,1107.2 1116.8,1113.2C1112.0,1119.2 1105.5,1127.9 1099.9,1136.1C1094.3,1144.3 1088.7,1153.4 1083.1,1162.6C1077.5,1171.8 1071.8,1181.9 1066.2,1191.5C1060.6,1201.1 1055.0,1210.5 1049.4,1220.3C1043.8,1230.1 1038.1,1240.6 1032.5,1250.4C1026.9,1260.2 1021.3,1269.7 1015.7,1279.3C1010.1,1288.9 1004.5,1299.0 998.9,1308.2C993.3,1317.4 987.6,1326.3 982.0,1334.7C976.4,1343.1 970.8,1351.3 965.2,1358.7C959.6,1366.1 954.3,1372.8 948.3,1379.2C942.3,1385.6 937.1,1391.2 929.1,1397.2C921.1,1403.2 909.0,1410.8 900.2,1415.3C891.4,1419.8 883.1,1422.0 876.1,1424.4C869.1,1426.8 861.1,1428.8 858.1,1429.7" fill="none" stroke="#F05A28" stroke-width="3.0" stroke-linejoin="round" stroke-linecap="round" /></g>
<rect x="857.9" y="796.3" width="576.70" height="633.40" fill="none" stroke="#000" stroke-width="1.8"/>
<line x1="912.82" y1="1429.70" x2="912.82" y2="1422.90" stroke="#000" stroke-width="1.6" />
<line x1="967.75" y1="1429.70" x2="967.75" y2="1416.90" stroke="#000" stroke-width="1.6" />
<line x1="1022.67" y1="1429.70" x2="1022.67" y2="1422.90" stroke="#000" stroke-width="1.6" />
<line x1="1077.60" y1="1429.70" x2="1077.60" y2="1416.90" stroke="#000" stroke-width="1.6" />
<line x1="1132.52" y1="1429.70" x2="1132.52" y2="1422.90" stroke="#000" stroke-width="1.6" />
<line x1="1187.44" y1="1429.70" x2="1187.44" y2="1416.90" stroke="#000" stroke-width="1.6" />
<line x1="1242.37" y1="1429.70" x2="1242.37" y2="1422.90" stroke="#000" stroke-width="1.6" />
<line x1="1297.29" y1="1429.70" x2="1297.29" y2="1416.90" stroke="#000" stroke-width="1.6" />
<line x1="1352.21" y1="1429.70" x2="1352.21" y2="1422.90" stroke="#000" stroke-width="1.6" />
<line x1="1407.14" y1="1429.70" x2="1407.14" y2="1416.90" stroke="#000" stroke-width="1.6" />
<line x1="857.90" y1="1376.92" x2="864.70" y2="1376.92" stroke="#000" stroke-width="1.6" />
<line x1="857.90" y1="1324.13" x2="870.70" y2="1324.13" stroke="#000" stroke-width="1.6" />
<line x1="857.90" y1="1271.35" x2="864.70" y2="1271.35" stroke="#000" stroke-width="1.6" />
<line x1="857.90" y1="1218.57" x2="870.70" y2="1218.57" stroke="#000" stroke-width="1.6" />
<line x1="857.90" y1="1165.78" x2="864.70" y2="1165.78" stroke="#000" stroke-width="1.6" />
<line x1="857.90" y1="1113.00" x2="870.70" y2="1113.00" stroke="#000" stroke-width="1.6" />
<line x1="857.90" y1="1060.22" x2="864.70" y2="1060.22" stroke="#000" stroke-width="1.6" />
<line x1="857.90" y1="1007.43" x2="870.70" y2="1007.43" stroke="#000" stroke-width="1.6" />
<line x1="857.90" y1="954.65" x2="864.70" y2="954.65" stroke="#000" stroke-width="1.6" />
<line x1="857.90" y1="901.87" x2="870.70" y2="901.87" stroke="#000" stroke-width="1.6" />
<line x1="857.90" y1="849.08" x2="864.70" y2="849.08" stroke="#000" stroke-width="1.6" />
<text x="845.62" y="1474.60" font-size="33.5">0</text>
<text x="955.53" y="1474.60" font-size="33.5">2</text>
<text x="1065.59" y="1474.60" font-size="33.5">4</text>
<text x="1175.07" y="1474.60" font-size="33.5">6</text>
<text x="1285.00" y="1474.60" font-size="33.5">8</text>
<text x="1384.95" y="1474.60" font-size="33.5" letter-spacing="-3.350">10</text>
<text x="800.99" y="1441.00" font-size="33.5" letter-spacing="-1.542">0.0</text>
<text x="801.15" y="1335.43" font-size="33.5" letter-spacing="-1.536">0.3</text>
<text x="801.15" y="1229.87" font-size="33.5" letter-spacing="-1.536">0.6</text>
<text x="801.30" y="1124.30" font-size="33.5" letter-spacing="-1.530">0.9</text>
<text x="801.38" y="1018.73" font-size="33.5" letter-spacing="-1.483">1.2</text>
<text x="801.06" y="913.17" font-size="33.5" letter-spacing="-1.495">1.5</text>
<text x="801.06" y="807.60" font-size="33.5" letter-spacing="-1.495">1.8</text>
<text x="902.64" y="862.30" font-size="33" letter-spacing="1.564">Textured</text>
<text transform="translate(784.60,1193.50) rotate(-90)" x="-1.80" y="0" font-size="40" letter-spacing="-1.044">Strain (%)</text>
<text font-size="39.5" y="1522.6"><tspan x="1032.52">-</tspan><tspan x="1045.62" font-style="italic">E</tspan> <tspan x="1082.43" letter-spacing="-1.445">(kV/mm)</tspan></text>
<text x="733.82" y="802.70" font-size="62" font-weight="bold">d</text>
<path d="M1614.3,1429.6v-28.5h16.3v28.5zM1634.9,1429.6v-57.3h16.3v57.3zM1655.6,1429.6v-44.3h16.3v44.3zM1676.2,1429.6v-22.5h16.3v22.5zM1696.8,1429.6v-19.8h16.3v19.8zM1717.5,1429.6v-47.5h16.3v47.5zM1738.1,1429.6v-25.6h16.3v25.6zM1758.7,1429.6v-31.7h16.3v31.7z" fill="#CC99FF"/>
<path d="M1810.1,1429.6v-95.0h16.3v95.0zM1830.7,1429.6v-91.5h16.3v91.5zM1851.4,1429.6v-79.2h16.3v79.2zM1872.0,1429.6v-83.3h16.3v83.3zM1892.6,1429.6v-107.7h16.3v107.7zM1913.2,1429.6v-86.4h16.3v86.4zM1933.9,1429.6v-63.0h16.3v63.0zM1954.5,1429.6v-223.9h16.3v223.9z" fill="#82C182"/>
<path d="M2006.2,1429.6v-196.3h16.3v196.3zM2026.8,1429.6v-221.7h16.3v221.7zM2047.5,1429.6v-205.8h16.3v205.8zM2068.1,1429.6v-190.0h16.3v190.0zM2088.7,1429.6v-234.3h16.3v234.3zM2109.3,1429.6v-158.3h16.3v158.3zM2130.0,1429.6v-177.3h16.3v177.3zM2150.6,1429.6v-228.0h16.3v228.0zM2171.2,1429.6v-180.5h16.3v180.5z" fill="#FDB366"/>
<path d="M2223.2,1429.6v-224.8h16.3v224.8zM2243.8,1429.6v-316.6h16.3v316.6zM2264.5,1429.6v-253.3h16.3v253.3zM2285.1,1429.6v-275.5h16.3v275.5zM2305.7,1429.6v-269.2h16.3v269.2zM2326.3,1429.6v-285.0h16.3v285.0z" fill="#9696FA"/>
<path d="M2395.7,1429.6v-209.0h16.3v209.0zM2416.3,1429.6v-259.7h16.3v259.7zM2437.0,1429.6v-411.6h16.3v411.6zM2457.6,1429.6v-253.3h16.3v253.3z" fill="#73A2D4"/>
<path d="M2526.4,1429.6v-538.3h16.3v538.3zM2547.0,1429.6v-237.5h16.3v237.5z" fill="#999999"/>
<path d="M2643.6,1429.6v-506.6h16.3v506.6z" fill="#FF0000"/>
<line x1="1714.70" y1="1367.00" x2="1714.70" y2="1413.00" stroke="#8000FF" stroke-width="1.8" stroke-dasharray="8.4 5.6"/>
<line x1="1736.40" y1="1367.00" x2="1736.40" y2="1413.00" stroke="#8000FF" stroke-width="1.8" stroke-dasharray="8.4 5.6"/>
<line x1="1829.20" y1="1309.00" x2="1829.20" y2="1377.00" stroke="#008000" stroke-width="1.8" stroke-dasharray="8.4 5.6"/>
<line x1="2045.70" y1="1182.60" x2="2045.70" y2="1249.50" stroke="#FF8000" stroke-width="1.8" stroke-dasharray="8.4 5.6"/>
<line x1="2262.70" y1="1107.40" x2="2262.70" y2="1170.60" stroke="#0000FF" stroke-width="1.8" stroke-dasharray="8.4 5.6"/>
<line x1="2303.40" y1="1107.40" x2="2303.40" y2="1170.60" stroke="#0000FF" stroke-width="1.8" stroke-dasharray="8.4 5.6"/>
<line x1="2434.80" y1="1011.00" x2="2434.80" y2="1199.60" stroke="#6699CC" stroke-width="1.8" stroke-dasharray="8.4 5.6"/>
<rect x="1570.9" y="796.3" width="1150.00" height="633.30" fill="none" stroke="#000" stroke-width="1.8"/>
<line x1="1570.90" y1="1366.27" x2="1577.70" y2="1366.27" stroke="#000" stroke-width="1.6" />
<line x1="1570.90" y1="1302.94" x2="1583.70" y2="1302.94" stroke="#000" stroke-width="1.6" />
<line x1="1570.90" y1="1239.61" x2="1577.70" y2="1239.61" stroke="#000" stroke-width="1.6" />
<line x1="1570.90" y1="1176.28" x2="1583.70" y2="1176.28" stroke="#000" stroke-width="1.6" />
<line x1="1570.90" y1="1112.95" x2="1577.70" y2="1112.95" stroke="#000" stroke-width="1.6" />
<line x1="1570.90" y1="1049.62" x2="1583.70" y2="1049.62" stroke="#000" stroke-width="1.6" />
<line x1="1570.90" y1="986.29" x2="1577.70" y2="986.29" stroke="#000" stroke-width="1.6" />
<line x1="1570.90" y1="922.96" x2="1583.70" y2="922.96" stroke="#000" stroke-width="1.6" />
<line x1="1570.90" y1="859.63" x2="1577.70" y2="859.63" stroke="#000" stroke-width="1.6" />
<text x="1508.81" y="1434.60" font-size="33.5" letter-spacing="-1.101">0.0</text>
<text x="1508.65" y="1307.94" font-size="33.5" letter-spacing="-1.105">0.4</text>
<text x="1508.97" y="1181.28" font-size="33.5" letter-spacing="-1.097">0.8</text>
<text x="1509.23" y="1054.62" font-size="33.5" letter-spacing="-1.059">1.2</text>
<text x="1508.91" y="927.96" font-size="33.5" letter-spacing="-1.068">1.6</text>
<text x="1508.79" y="801.30" font-size="33.5" letter-spacing="-1.093">2.0</text>
<text transform="translate(1488.00,1193.90) rotate(-90)" x="-1.80" y="0" font-size="40" letter-spacing="-1.044">Strain (%)</text>
<text x="1449.32" y="802.80" font-size="62" font-weight="bold">e</text>
<text x="1648.58" y="1239.70" font-size="26.5" letter-spacing="-0.440" fill="#8000FF">BT-based</text>
<text x="1648.94" y="1274.30" font-size="26.5" letter-spacing="-0.773" fill="#8000FF">ceramics</text>
<text x="1824.28" y="1168.50" font-size="26.5" letter-spacing="-0.820" fill="#008000">KNN-based</text>
<text x="1839.44" y="1203.80" font-size="26.5" letter-spacing="-0.830" fill="#008000">ceramics</text>
<text x="2034.78" y="1064.10" font-size="26.5" letter-spacing="-0.495" fill="#FF8000">BNT-based</text>
<text x="2048.44" y="1098.90" font-size="26.5" letter-spacing="-0.787" fill="#FF8000">ceramics</text>
<text x="2238.28" y="979.70" font-size="26.5" letter-spacing="-0.451" fill="#0000FF">Lead-free</text>
<text x="2219.70" y="1015.40" font-size="26.5" letter-spacing="-0.404" fill="#0000FF">single crystal</text>
<text x="2379.58" y="953.20" font-size="26.5" letter-spacing="-1.086" fill="#6699CC">Lead-based</text>
<text x="2395.44" y="984.80" font-size="26.5" letter-spacing="-0.945" fill="#6699CC">ceramics</text>
<text x="2424.78" y="840.70" font-size="26.5" letter-spacing="-0.664">Lead-based</text>
<text x="2422.61" y="875.70" font-size="26.5" letter-spacing="-0.627">single crystal</text>
<text x="2566.18" y="830.60" font-size="32" letter-spacing="-0.445" fill="#FF0000" font-weight="bold">This work</text>
<text font-size="24.5" transform="translate(1663.70,1356.30) rotate(-45)" y="0" fill="#8000FF"><tspan x="-1.84">1</tspan> <tspan x="17.54" letter-spacing="-1.500">Hz</tspan></text>
<text font-size="24.5" transform="translate(1727.00,1357.00) rotate(-45)" y="0" fill="#8000FF"><tspan x="-0.98">5</tspan> <tspan x="18.93" letter-spacing="-1.500">Hz</tspan></text>
<text font-size="24.5" transform="translate(1760.70,1361.10) rotate(-45)" y="0" fill="#8000FF"><tspan x="-1.84">10</tspan> <tspan x="30.43" letter-spacing="-1.500">Hz</tspan></text>
<text font-size="24.5" transform="translate(1815.50,1300.00) rotate(-45)" y="0" fill="#008000"><tspan x="-0.49">4</tspan> <tspan x="20.54" letter-spacing="-1.500">Hz</tspan></text>
<text font-size="24.5" transform="translate(1903.20,1302.40) rotate(-45)" y="0" fill="#008000"><tspan x="-1.84">10</tspan> <tspan x="29.93" letter-spacing="-1.500">Hz</tspan></text>
<text font-size="24.5" transform="translate(2020.40,1186.50) rotate(-45)" y="0" fill="#FF8000"><tspan x="-0.98">0.1</tspan> <tspan x="40.04" letter-spacing="-1.500">Hz</tspan></text>
<text font-size="24.5" transform="translate(2119.50,1178.00) rotate(-45)" y="0" fill="#FF8000"><tspan x="-1.84">1</tspan> <tspan x="17.54" letter-spacing="-1.500">Hz</tspan></text>
<text font-size="24.5" transform="translate(2228.20,1102.50) rotate(-45)" y="0" fill="#0000FF"><tspan x="-0.98">0.1</tspan> <tspan x="41.74" letter-spacing="-1.500">Hz</tspan></text>
<text font-size="24.5" transform="translate(2275.00,1102.40) rotate(-45)" y="0" fill="#0000FF"><tspan x="-0.98">0.5</tspan> <tspan x="40.13" letter-spacing="-1.500">Hz</tspan></text>
<text font-size="24.5" transform="translate(2330.30,1094.30) rotate(-45)" y="0" fill="#0000FF"><tspan x="-1.84">1</tspan> <tspan x="20.04" letter-spacing="-1.500">Hz</tspan></text>
<text font-size="24.5" transform="translate(2384.30,1136.70) rotate(-45)" y="0" fill="#6699CC"><tspan x="-0.98">0.1</tspan> <tspan x="41.74" letter-spacing="-1.500">Hz</tspan></text>
<text font-size="24.5" transform="translate(2467.70,1128.30) rotate(-45)" y="0" fill="#6699CC"><tspan x="-1.84">1</tspan> <tspan x="20.23" letter-spacing="-1.500">Hz</tspan></text>
<text font-size="24.5" transform="translate(2553.30,1009.70) rotate(-45)" y="0"><tspan x="-0.98">0.2</tspan> <tspan x="40.84" letter-spacing="-1.500">Hz</tspan></text>
<text font-size="24.5" transform="translate(2643.10,919.10) rotate(-45)" y="0" fill="#FF0000"><tspan x="-0.98">0.1</tspan> <tspan x="42.24" letter-spacing="-1.500">Hz</tspan></text>
</svg>
</body></html>
